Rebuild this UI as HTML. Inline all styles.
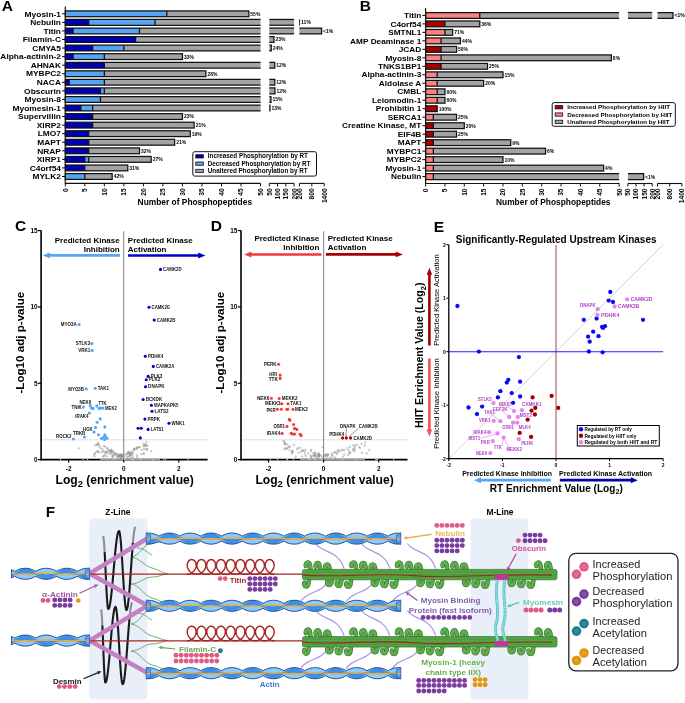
<!DOCTYPE html>
<html><head><meta charset="utf-8"><style>
html,body{margin:0;padding:0;background:#fff;}
svg{display:block;filter:blur(0.3px);font-family:"Liberation Sans",sans-serif;}
</style></head><body>
<svg width="685" height="703" viewBox="0 0 685 703">
<rect width="685" height="703" fill="#fff"/>
<g id="A">
<text x="1.80" y="10.80" font-size="15.5" font-weight="bold" fill="#000" text-anchor="start">A</text>
<text x="61.00" y="16.50" font-size="7.6" font-weight="bold" fill="#000" text-anchor="end" textLength="36.39" lengthAdjust="spacingAndGlyphs">Myosin-1</text>
<line x1="62.10" y1="13.80" x2="65.30" y2="13.80" stroke="#000" stroke-width="1"/>
<rect x="65.30" y="10.90" width="101.53" height="5.80" fill="#55a5f5" stroke="none" stroke-width="0"/>
<rect x="166.83" y="10.90" width="82.00" height="5.80" fill="#a3a3a7" stroke="none" stroke-width="0"/>
<rect x="65.30" y="10.90" width="183.53" height="5.80" fill="none" stroke="#111" stroke-width="1.25"/>
<line x1="166.83" y1="10.90" x2="166.83" y2="16.70" stroke="#111" stroke-width="1.25"/>
<text x="250.33" y="15.70" font-size="5.0" font-weight="bold" fill="#000" text-anchor="start" textLength="10.01" lengthAdjust="spacingAndGlyphs">55%</text>
<text x="61.00" y="25.06" font-size="7.6" font-weight="bold" fill="#000" text-anchor="end" textLength="30.79" lengthAdjust="spacingAndGlyphs">Nebulin</text>
<line x1="62.10" y1="22.36" x2="65.30" y2="22.36" stroke="#000" stroke-width="1"/>
<rect x="65.30" y="19.46" width="23.43" height="5.80" fill="#0000b4" stroke="none" stroke-width="0"/>
<rect x="88.73" y="19.46" width="66.38" height="5.80" fill="#55a5f5" stroke="none" stroke-width="0"/>
<rect x="155.12" y="19.46" width="105.43" height="5.80" fill="#a3a3a7" stroke="none" stroke-width="0"/>
<path d="M260.55,19.46 H65.30 V25.26 H260.55" fill="none" stroke="#111" stroke-width="1.25"/>
<line x1="88.73" y1="19.46" x2="88.73" y2="25.26" stroke="#111" stroke-width="1.25"/>
<line x1="155.12" y1="19.46" x2="155.12" y2="25.26" stroke="#111" stroke-width="1.25"/>
<rect x="269.30" y="19.46" width="24.80" height="5.80" fill="#a3a3a7" stroke="none" stroke-width="0"/>
<line x1="269.30" y1="19.46" x2="294.10" y2="19.46" stroke="#111" stroke-width="1.25"/>
<line x1="269.30" y1="25.26" x2="294.10" y2="25.26" stroke="#111" stroke-width="1.25"/>
<line x1="299.61" y1="19.16" x2="299.61" y2="25.56" stroke="#111" stroke-width="0.9"/>
<text x="301.11" y="24.26" font-size="5.0" font-weight="bold" fill="#000" text-anchor="start" textLength="9.73" lengthAdjust="spacingAndGlyphs">11%</text>
<text x="61.00" y="33.63" font-size="7.6" font-weight="bold" fill="#000" text-anchor="end" textLength="17.57" lengthAdjust="spacingAndGlyphs">Titin</text>
<line x1="62.10" y1="30.93" x2="65.30" y2="30.93" stroke="#000" stroke-width="1"/>
<rect x="65.30" y="28.03" width="7.81" height="5.80" fill="#0000b4" stroke="none" stroke-width="0"/>
<rect x="73.11" y="28.03" width="66.38" height="5.80" fill="#55a5f5" stroke="none" stroke-width="0"/>
<rect x="139.50" y="28.03" width="121.05" height="5.80" fill="#a3a3a7" stroke="none" stroke-width="0"/>
<path d="M260.55,28.03 H65.30 V33.83 H260.55" fill="none" stroke="#111" stroke-width="1.25"/>
<line x1="73.11" y1="28.03" x2="73.11" y2="33.83" stroke="#111" stroke-width="1.25"/>
<line x1="139.50" y1="28.03" x2="139.50" y2="33.83" stroke="#111" stroke-width="1.25"/>
<rect x="269.30" y="28.03" width="24.80" height="5.80" fill="#a3a3a7" stroke="none" stroke-width="0"/>
<line x1="269.30" y1="28.03" x2="294.10" y2="28.03" stroke="#111" stroke-width="1.25"/>
<line x1="269.30" y1="33.83" x2="294.10" y2="33.83" stroke="#111" stroke-width="1.25"/>
<rect x="299.40" y="28.03" width="22.20" height="5.80" fill="#a3a3a7" stroke="none" stroke-width="0"/>
<path d="M299.40,28.03 H321.60 V33.83 H299.40" fill="none" stroke="#111" stroke-width="1.25"/>
<text x="323.10" y="32.83" font-size="5.0" font-weight="bold" fill="#000" text-anchor="start" textLength="10.15" lengthAdjust="spacingAndGlyphs">&lt;1%</text>
<text x="61.00" y="42.19" font-size="7.6" font-weight="bold" fill="#000" text-anchor="end" textLength="38.26" lengthAdjust="spacingAndGlyphs">Filamin-C</text>
<line x1="62.10" y1="39.49" x2="65.30" y2="39.49" stroke="#000" stroke-width="1"/>
<rect x="65.30" y="36.59" width="70.29" height="5.80" fill="#0000b4" stroke="none" stroke-width="0"/>
<rect x="135.59" y="36.59" width="124.96" height="5.80" fill="#a3a3a7" stroke="none" stroke-width="0"/>
<path d="M260.55,36.59 H65.30 V42.39 H260.55" fill="none" stroke="#111" stroke-width="1.25"/>
<line x1="135.59" y1="36.59" x2="135.59" y2="42.39" stroke="#111" stroke-width="1.25"/>
<rect x="269.30" y="36.59" width="4.63" height="5.80" fill="#a3a3a7" stroke="none" stroke-width="0"/>
<path d="M269.30,36.59 H273.93 V42.39 H269.30" fill="none" stroke="#111" stroke-width="1.25"/>
<text x="275.43" y="41.39" font-size="5.0" font-weight="bold" fill="#000" text-anchor="start" textLength="10.01" lengthAdjust="spacingAndGlyphs">23%</text>
<text x="61.00" y="50.75" font-size="7.6" font-weight="bold" fill="#000" text-anchor="end" textLength="28.63" lengthAdjust="spacingAndGlyphs">CMYA5</text>
<line x1="62.10" y1="48.05" x2="65.30" y2="48.05" stroke="#000" stroke-width="1"/>
<rect x="65.30" y="45.15" width="27.33" height="5.80" fill="#0000b4" stroke="none" stroke-width="0"/>
<rect x="92.63" y="45.15" width="31.24" height="5.80" fill="#55a5f5" stroke="none" stroke-width="0"/>
<rect x="123.88" y="45.15" width="136.67" height="5.80" fill="#a3a3a7" stroke="none" stroke-width="0"/>
<path d="M260.55,45.15 H65.30 V50.95 H260.55" fill="none" stroke="#111" stroke-width="1.25"/>
<line x1="92.63" y1="45.15" x2="92.63" y2="50.95" stroke="#111" stroke-width="1.25"/>
<line x1="123.88" y1="45.15" x2="123.88" y2="50.95" stroke="#111" stroke-width="1.25"/>
<rect x="269.30" y="45.15" width="1.98" height="5.80" fill="#a3a3a7" stroke="none" stroke-width="0"/>
<path d="M269.30,45.15 H271.28 V50.95 H269.30" fill="none" stroke="#111" stroke-width="1.25"/>
<text x="272.78" y="49.95" font-size="5.0" font-weight="bold" fill="#000" text-anchor="start" textLength="10.01" lengthAdjust="spacingAndGlyphs">24%</text>
<text x="61.00" y="59.32" font-size="7.6" font-weight="bold" fill="#000" text-anchor="end" textLength="60.65" lengthAdjust="spacingAndGlyphs">Alpha-actinin-2</text>
<line x1="62.10" y1="56.62" x2="65.30" y2="56.62" stroke="#000" stroke-width="1"/>
<rect x="65.30" y="53.72" width="7.81" height="5.80" fill="#0000b4" stroke="none" stroke-width="0"/>
<rect x="73.11" y="53.72" width="31.24" height="5.80" fill="#55a5f5" stroke="none" stroke-width="0"/>
<rect x="104.35" y="53.72" width="78.10" height="5.80" fill="#a3a3a7" stroke="none" stroke-width="0"/>
<rect x="65.30" y="53.72" width="117.15" height="5.80" fill="none" stroke="#111" stroke-width="1.25"/>
<line x1="73.11" y1="53.72" x2="73.11" y2="59.52" stroke="#111" stroke-width="1.25"/>
<line x1="104.35" y1="53.72" x2="104.35" y2="59.52" stroke="#111" stroke-width="1.25"/>
<text x="183.95" y="58.52" font-size="5.0" font-weight="bold" fill="#000" text-anchor="start" textLength="10.01" lengthAdjust="spacingAndGlyphs">33%</text>
<text x="61.00" y="67.88" font-size="7.6" font-weight="bold" fill="#000" text-anchor="end" textLength="30.32" lengthAdjust="spacingAndGlyphs">AHNAK</text>
<line x1="62.10" y1="65.18" x2="65.30" y2="65.18" stroke="#000" stroke-width="1"/>
<rect x="65.30" y="62.28" width="39.05" height="5.80" fill="#0000b4" stroke="none" stroke-width="0"/>
<rect x="104.35" y="62.28" width="156.20" height="5.80" fill="#a3a3a7" stroke="none" stroke-width="0"/>
<path d="M260.55,62.28 H65.30 V68.08 H260.55" fill="none" stroke="#111" stroke-width="1.25"/>
<line x1="104.35" y1="62.28" x2="104.35" y2="68.08" stroke="#111" stroke-width="1.25"/>
<rect x="269.30" y="62.28" width="5.46" height="5.80" fill="#a3a3a7" stroke="none" stroke-width="0"/>
<path d="M269.30,62.28 H274.76 V68.08 H269.30" fill="none" stroke="#111" stroke-width="1.25"/>
<text x="276.26" y="67.08" font-size="5.0" font-weight="bold" fill="#000" text-anchor="start" textLength="10.01" lengthAdjust="spacingAndGlyphs">12%</text>
<text x="61.00" y="76.44" font-size="7.6" font-weight="bold" fill="#000" text-anchor="end" textLength="35.00" lengthAdjust="spacingAndGlyphs">MYBPC2</text>
<line x1="62.10" y1="73.74" x2="65.30" y2="73.74" stroke="#000" stroke-width="1"/>
<rect x="65.30" y="70.84" width="39.05" height="5.80" fill="#55a5f5" stroke="none" stroke-width="0"/>
<rect x="104.35" y="70.84" width="101.53" height="5.80" fill="#a3a3a7" stroke="none" stroke-width="0"/>
<rect x="65.30" y="70.84" width="140.58" height="5.80" fill="none" stroke="#111" stroke-width="1.25"/>
<line x1="104.35" y1="70.84" x2="104.35" y2="76.64" stroke="#111" stroke-width="1.25"/>
<text x="207.38" y="75.64" font-size="5.0" font-weight="bold" fill="#000" text-anchor="start" textLength="10.01" lengthAdjust="spacingAndGlyphs">28%</text>
<text x="61.00" y="85.00" font-size="7.6" font-weight="bold" fill="#000" text-anchor="end" textLength="24.26" lengthAdjust="spacingAndGlyphs">NACA</text>
<line x1="62.10" y1="82.30" x2="65.30" y2="82.30" stroke="#000" stroke-width="1"/>
<rect x="65.30" y="79.40" width="3.90" height="5.80" fill="#0000b4" stroke="none" stroke-width="0"/>
<rect x="69.20" y="79.40" width="35.14" height="5.80" fill="#55a5f5" stroke="none" stroke-width="0"/>
<rect x="104.35" y="79.40" width="156.20" height="5.80" fill="#a3a3a7" stroke="none" stroke-width="0"/>
<path d="M260.55,79.40 H65.30 V85.20 H260.55" fill="none" stroke="#111" stroke-width="1.25"/>
<line x1="69.20" y1="79.40" x2="69.20" y2="85.20" stroke="#111" stroke-width="1.25"/>
<line x1="104.35" y1="79.40" x2="104.35" y2="85.20" stroke="#111" stroke-width="1.25"/>
<rect x="269.30" y="79.40" width="5.46" height="5.80" fill="#a3a3a7" stroke="none" stroke-width="0"/>
<path d="M269.30,79.40 H274.76 V85.20 H269.30" fill="none" stroke="#111" stroke-width="1.25"/>
<text x="276.26" y="84.20" font-size="5.0" font-weight="bold" fill="#000" text-anchor="start" textLength="10.01" lengthAdjust="spacingAndGlyphs">12%</text>
<text x="61.00" y="93.57" font-size="7.6" font-weight="bold" fill="#000" text-anchor="end" textLength="36.86" lengthAdjust="spacingAndGlyphs">Obscurin</text>
<line x1="62.10" y1="90.87" x2="65.30" y2="90.87" stroke="#000" stroke-width="1"/>
<rect x="65.30" y="87.97" width="35.14" height="5.80" fill="#0000b4" stroke="none" stroke-width="0"/>
<rect x="100.44" y="87.97" width="3.90" height="5.80" fill="#55a5f5" stroke="none" stroke-width="0"/>
<rect x="104.35" y="87.97" width="156.20" height="5.80" fill="#a3a3a7" stroke="none" stroke-width="0"/>
<path d="M260.55,87.97 H65.30 V93.77 H260.55" fill="none" stroke="#111" stroke-width="1.25"/>
<line x1="100.44" y1="87.97" x2="100.44" y2="93.77" stroke="#111" stroke-width="1.25"/>
<line x1="104.35" y1="87.97" x2="104.35" y2="93.77" stroke="#111" stroke-width="1.25"/>
<rect x="269.30" y="87.97" width="5.62" height="5.80" fill="#a3a3a7" stroke="none" stroke-width="0"/>
<path d="M269.30,87.97 H274.92 V93.77 H269.30" fill="none" stroke="#111" stroke-width="1.25"/>
<text x="276.42" y="92.77" font-size="5.0" font-weight="bold" fill="#000" text-anchor="start" textLength="10.01" lengthAdjust="spacingAndGlyphs">12%</text>
<text x="61.00" y="102.13" font-size="7.6" font-weight="bold" fill="#000" text-anchor="end" textLength="36.39" lengthAdjust="spacingAndGlyphs">Myosin-8</text>
<line x1="62.10" y1="99.43" x2="65.30" y2="99.43" stroke="#000" stroke-width="1"/>
<rect x="65.30" y="96.53" width="35.14" height="5.80" fill="#55a5f5" stroke="none" stroke-width="0"/>
<rect x="100.44" y="96.53" width="160.10" height="5.80" fill="#a3a3a7" stroke="none" stroke-width="0"/>
<path d="M260.55,96.53 H65.30 V102.33 H260.55" fill="none" stroke="#111" stroke-width="1.25"/>
<line x1="100.44" y1="96.53" x2="100.44" y2="102.33" stroke="#111" stroke-width="1.25"/>
<rect x="269.30" y="96.53" width="1.65" height="5.80" fill="#a3a3a7" stroke="none" stroke-width="0"/>
<path d="M269.30,96.53 H270.95 V102.33 H269.30" fill="none" stroke="#111" stroke-width="1.25"/>
<text x="272.45" y="101.33" font-size="5.0" font-weight="bold" fill="#000" text-anchor="start" textLength="10.01" lengthAdjust="spacingAndGlyphs">15%</text>
<text x="61.00" y="110.69" font-size="7.6" font-weight="bold" fill="#000" text-anchor="end" textLength="48.53" lengthAdjust="spacingAndGlyphs">Myomesin-1</text>
<line x1="62.10" y1="107.99" x2="65.30" y2="107.99" stroke="#000" stroke-width="1"/>
<rect x="65.30" y="105.09" width="15.62" height="5.80" fill="#0000b4" stroke="none" stroke-width="0"/>
<rect x="80.92" y="105.09" width="11.71" height="5.80" fill="#55a5f5" stroke="none" stroke-width="0"/>
<rect x="92.63" y="105.09" width="167.91" height="5.80" fill="#a3a3a7" stroke="none" stroke-width="0"/>
<path d="M260.55,105.09 H65.30 V110.89 H260.55" fill="none" stroke="#111" stroke-width="1.25"/>
<line x1="80.92" y1="105.09" x2="80.92" y2="110.89" stroke="#111" stroke-width="1.25"/>
<line x1="92.63" y1="105.09" x2="92.63" y2="110.89" stroke="#111" stroke-width="1.25"/>
<rect x="269.30" y="105.09" width="0.66" height="5.80" fill="#a3a3a7" stroke="none" stroke-width="0"/>
<path d="M269.30,105.09 H269.96 V110.89 H269.30" fill="none" stroke="#111" stroke-width="1.25"/>
<text x="271.46" y="109.89" font-size="5.0" font-weight="bold" fill="#000" text-anchor="start" textLength="10.01" lengthAdjust="spacingAndGlyphs">13%</text>
<text x="61.00" y="119.26" font-size="7.6" font-weight="bold" fill="#000" text-anchor="end" textLength="42.93" lengthAdjust="spacingAndGlyphs">Supervillin</text>
<line x1="62.10" y1="116.56" x2="65.30" y2="116.56" stroke="#000" stroke-width="1"/>
<rect x="65.30" y="113.66" width="27.33" height="5.80" fill="#0000b4" stroke="none" stroke-width="0"/>
<rect x="92.63" y="113.66" width="89.81" height="5.80" fill="#a3a3a7" stroke="none" stroke-width="0"/>
<rect x="65.30" y="113.66" width="117.15" height="5.80" fill="none" stroke="#111" stroke-width="1.25"/>
<line x1="92.63" y1="113.66" x2="92.63" y2="119.46" stroke="#111" stroke-width="1.25"/>
<text x="183.95" y="118.46" font-size="5.0" font-weight="bold" fill="#000" text-anchor="start" textLength="10.01" lengthAdjust="spacingAndGlyphs">23%</text>
<text x="61.00" y="127.82" font-size="7.6" font-weight="bold" fill="#000" text-anchor="end" textLength="24.27" lengthAdjust="spacingAndGlyphs">XIRP2</text>
<line x1="62.10" y1="125.12" x2="65.30" y2="125.12" stroke="#000" stroke-width="1"/>
<rect x="65.30" y="122.22" width="27.33" height="5.80" fill="#0000b4" stroke="none" stroke-width="0"/>
<rect x="92.63" y="122.22" width="101.53" height="5.80" fill="#a3a3a7" stroke="none" stroke-width="0"/>
<rect x="65.30" y="122.22" width="128.86" height="5.80" fill="none" stroke="#111" stroke-width="1.25"/>
<line x1="92.63" y1="122.22" x2="92.63" y2="128.02" stroke="#111" stroke-width="1.25"/>
<text x="195.66" y="127.02" font-size="5.0" font-weight="bold" fill="#000" text-anchor="start" textLength="10.01" lengthAdjust="spacingAndGlyphs">21%</text>
<text x="61.00" y="136.38" font-size="7.6" font-weight="bold" fill="#000" text-anchor="end" textLength="23.33" lengthAdjust="spacingAndGlyphs">LMO7</text>
<line x1="62.10" y1="133.68" x2="65.30" y2="133.68" stroke="#000" stroke-width="1"/>
<rect x="65.30" y="130.78" width="23.43" height="5.80" fill="#0000b4" stroke="none" stroke-width="0"/>
<rect x="88.73" y="130.78" width="101.53" height="5.80" fill="#a3a3a7" stroke="none" stroke-width="0"/>
<rect x="65.30" y="130.78" width="124.96" height="5.80" fill="none" stroke="#111" stroke-width="1.25"/>
<line x1="88.73" y1="130.78" x2="88.73" y2="136.58" stroke="#111" stroke-width="1.25"/>
<text x="191.76" y="135.58" font-size="5.0" font-weight="bold" fill="#000" text-anchor="start" textLength="10.01" lengthAdjust="spacingAndGlyphs">19%</text>
<text x="61.00" y="144.95" font-size="7.6" font-weight="bold" fill="#000" text-anchor="end" textLength="23.79" lengthAdjust="spacingAndGlyphs">MAPT</text>
<line x1="62.10" y1="142.25" x2="65.30" y2="142.25" stroke="#000" stroke-width="1"/>
<rect x="65.30" y="139.35" width="23.43" height="5.80" fill="#0000b4" stroke="none" stroke-width="0"/>
<rect x="88.73" y="139.35" width="85.91" height="5.80" fill="#a3a3a7" stroke="none" stroke-width="0"/>
<rect x="65.30" y="139.35" width="109.34" height="5.80" fill="none" stroke="#111" stroke-width="1.25"/>
<line x1="88.73" y1="139.35" x2="88.73" y2="145.15" stroke="#111" stroke-width="1.25"/>
<text x="176.14" y="144.15" font-size="5.0" font-weight="bold" fill="#000" text-anchor="start" textLength="10.01" lengthAdjust="spacingAndGlyphs">21%</text>
<text x="61.00" y="153.51" font-size="7.6" font-weight="bold" fill="#000" text-anchor="end" textLength="23.80" lengthAdjust="spacingAndGlyphs">NRAP</text>
<line x1="62.10" y1="150.81" x2="65.30" y2="150.81" stroke="#000" stroke-width="1"/>
<rect x="65.30" y="147.91" width="23.43" height="5.80" fill="#0000b4" stroke="none" stroke-width="0"/>
<rect x="88.73" y="147.91" width="50.77" height="5.80" fill="#a3a3a7" stroke="none" stroke-width="0"/>
<rect x="65.30" y="147.91" width="74.19" height="5.80" fill="none" stroke="#111" stroke-width="1.25"/>
<line x1="88.73" y1="147.91" x2="88.73" y2="153.71" stroke="#111" stroke-width="1.25"/>
<text x="141.00" y="152.71" font-size="5.0" font-weight="bold" fill="#000" text-anchor="start" textLength="10.01" lengthAdjust="spacingAndGlyphs">32%</text>
<text x="61.00" y="162.07" font-size="7.6" font-weight="bold" fill="#000" text-anchor="end" textLength="24.27" lengthAdjust="spacingAndGlyphs">XIRP1</text>
<line x1="62.10" y1="159.37" x2="65.30" y2="159.37" stroke="#000" stroke-width="1"/>
<rect x="65.30" y="156.47" width="19.52" height="5.80" fill="#0000b4" stroke="none" stroke-width="0"/>
<rect x="84.82" y="156.47" width="3.90" height="5.80" fill="#55a5f5" stroke="none" stroke-width="0"/>
<rect x="88.73" y="156.47" width="62.48" height="5.80" fill="#a3a3a7" stroke="none" stroke-width="0"/>
<rect x="65.30" y="156.47" width="85.91" height="5.80" fill="none" stroke="#111" stroke-width="1.25"/>
<line x1="84.82" y1="156.47" x2="84.82" y2="162.27" stroke="#111" stroke-width="1.25"/>
<line x1="88.73" y1="156.47" x2="88.73" y2="162.27" stroke="#111" stroke-width="1.25"/>
<text x="152.71" y="161.27" font-size="5.0" font-weight="bold" fill="#000" text-anchor="start" textLength="10.01" lengthAdjust="spacingAndGlyphs">27%</text>
<text x="61.00" y="170.63" font-size="7.6" font-weight="bold" fill="#000" text-anchor="end" textLength="31.27" lengthAdjust="spacingAndGlyphs">C4orf54</text>
<line x1="62.10" y1="167.93" x2="65.30" y2="167.93" stroke="#000" stroke-width="1"/>
<rect x="65.30" y="165.03" width="19.52" height="5.80" fill="#0000b4" stroke="none" stroke-width="0"/>
<rect x="84.82" y="165.03" width="42.95" height="5.80" fill="#a3a3a7" stroke="none" stroke-width="0"/>
<rect x="65.30" y="165.03" width="62.48" height="5.80" fill="none" stroke="#111" stroke-width="1.25"/>
<line x1="84.82" y1="165.03" x2="84.82" y2="170.83" stroke="#111" stroke-width="1.25"/>
<text x="129.28" y="169.83" font-size="5.0" font-weight="bold" fill="#000" text-anchor="start" textLength="10.01" lengthAdjust="spacingAndGlyphs">31%</text>
<text x="61.00" y="179.20" font-size="7.6" font-weight="bold" fill="#000" text-anchor="end" textLength="28.46" lengthAdjust="spacingAndGlyphs">MYLK2</text>
<line x1="62.10" y1="176.50" x2="65.30" y2="176.50" stroke="#000" stroke-width="1"/>
<rect x="65.30" y="173.60" width="19.52" height="5.80" fill="#55a5f5" stroke="none" stroke-width="0"/>
<rect x="84.82" y="173.60" width="27.33" height="5.80" fill="#a3a3a7" stroke="none" stroke-width="0"/>
<rect x="65.30" y="173.60" width="46.86" height="5.80" fill="none" stroke="#111" stroke-width="1.25"/>
<line x1="84.82" y1="173.60" x2="84.82" y2="179.40" stroke="#111" stroke-width="1.25"/>
<text x="113.66" y="178.40" font-size="5.0" font-weight="bold" fill="#000" text-anchor="start" textLength="10.01" lengthAdjust="spacingAndGlyphs">42%</text>
<line x1="65.30" y1="6.52" x2="65.30" y2="183.90" stroke="#111" stroke-width="1.2"/>
<line x1="65.30" y1="183.40" x2="260.60" y2="183.40" stroke="#111" stroke-width="1.1"/>
<line x1="65.30" y1="183.40" x2="65.30" y2="186.40" stroke="#111" stroke-width="1"/>
<text transform="translate(67.70,188.40) rotate(-90)" font-size="6.6" font-weight="bold" text-anchor="end">0</text>
<line x1="84.82" y1="183.40" x2="84.82" y2="186.40" stroke="#111" stroke-width="1"/>
<text transform="translate(87.22,188.40) rotate(-90)" font-size="6.6" font-weight="bold" text-anchor="end">5</text>
<line x1="104.35" y1="183.40" x2="104.35" y2="186.40" stroke="#111" stroke-width="1"/>
<text transform="translate(106.75,188.40) rotate(-90)" font-size="6.6" font-weight="bold" text-anchor="end">10</text>
<line x1="123.88" y1="183.40" x2="123.88" y2="186.40" stroke="#111" stroke-width="1"/>
<text transform="translate(126.28,188.40) rotate(-90)" font-size="6.6" font-weight="bold" text-anchor="end">15</text>
<line x1="143.40" y1="183.40" x2="143.40" y2="186.40" stroke="#111" stroke-width="1"/>
<text transform="translate(145.80,188.40) rotate(-90)" font-size="6.6" font-weight="bold" text-anchor="end">20</text>
<line x1="162.93" y1="183.40" x2="162.93" y2="186.40" stroke="#111" stroke-width="1"/>
<text transform="translate(165.33,188.40) rotate(-90)" font-size="6.6" font-weight="bold" text-anchor="end">25</text>
<line x1="182.45" y1="183.40" x2="182.45" y2="186.40" stroke="#111" stroke-width="1"/>
<text transform="translate(184.85,188.40) rotate(-90)" font-size="6.6" font-weight="bold" text-anchor="end">30</text>
<line x1="201.97" y1="183.40" x2="201.97" y2="186.40" stroke="#111" stroke-width="1"/>
<text transform="translate(204.37,188.40) rotate(-90)" font-size="6.6" font-weight="bold" text-anchor="end">35</text>
<line x1="221.50" y1="183.40" x2="221.50" y2="186.40" stroke="#111" stroke-width="1"/>
<text transform="translate(223.90,188.40) rotate(-90)" font-size="6.6" font-weight="bold" text-anchor="end">40</text>
<line x1="241.02" y1="183.40" x2="241.02" y2="186.40" stroke="#111" stroke-width="1"/>
<text transform="translate(243.42,188.40) rotate(-90)" font-size="6.6" font-weight="bold" text-anchor="end">45</text>
<line x1="260.55" y1="183.40" x2="260.55" y2="186.40" stroke="#111" stroke-width="1"/>
<text transform="translate(262.95,188.40) rotate(-90)" font-size="6.6" font-weight="bold" text-anchor="end">50</text>
<line x1="269.30" y1="183.40" x2="294.10" y2="183.40" stroke="#111" stroke-width="1.1"/>
<line x1="269.30" y1="183.40" x2="269.30" y2="186.40" stroke="#111" stroke-width="1"/>
<text transform="translate(271.70,188.40) rotate(-90)" font-size="6.6" font-weight="bold" text-anchor="end">50</text>
<line x1="277.57" y1="183.40" x2="277.57" y2="186.40" stroke="#111" stroke-width="1"/>
<text transform="translate(279.97,188.40) rotate(-90)" font-size="6.6" font-weight="bold" text-anchor="end">100</text>
<line x1="285.83" y1="183.40" x2="285.83" y2="186.40" stroke="#111" stroke-width="1"/>
<text transform="translate(288.23,188.40) rotate(-90)" font-size="6.6" font-weight="bold" text-anchor="end">150</text>
<line x1="294.10" y1="183.40" x2="294.10" y2="186.40" stroke="#111" stroke-width="1"/>
<text transform="translate(296.50,188.40) rotate(-90)" font-size="6.6" font-weight="bold" text-anchor="end">200</text>
<line x1="299.40" y1="183.40" x2="324.20" y2="183.40" stroke="#111" stroke-width="1.1"/>
<line x1="299.40" y1="183.40" x2="299.40" y2="186.40" stroke="#111" stroke-width="1"/>
<text transform="translate(301.80,188.40) rotate(-90)" font-size="6.6" font-weight="bold" text-anchor="end">200</text>
<line x1="311.80" y1="183.40" x2="311.80" y2="186.40" stroke="#111" stroke-width="1"/>
<text transform="translate(314.20,188.40) rotate(-90)" font-size="6.6" font-weight="bold" text-anchor="end">800</text>
<line x1="324.20" y1="183.40" x2="324.20" y2="186.40" stroke="#111" stroke-width="1"/>
<text transform="translate(326.60,188.40) rotate(-90)" font-size="6.6" font-weight="bold" text-anchor="end">1400</text>
<text x="137.60" y="204.90" font-size="8.4" font-weight="bold" fill="#000" text-anchor="start">Number of Phosphopeptides</text>
<rect x="192.8" y="151.7" width="123.7" height="24.4" rx="2" fill="#fff" stroke="#111" stroke-width="1"/>
<rect x="195.80" y="154.70" width="7.50" height="3.30" fill="#0000b4" stroke="#111" stroke-width="0.8"/>
<text x="207.80" y="158.40" font-size="6.3" font-weight="bold" fill="#000" text-anchor="start" textLength="100.11" lengthAdjust="spacingAndGlyphs">Increased Phosphorylation by RT</text>
<rect x="195.80" y="162.00" width="7.50" height="3.30" fill="#55a5f5" stroke="#111" stroke-width="0.8"/>
<text x="207.80" y="165.70" font-size="6.3" font-weight="bold" fill="#000" text-anchor="start" textLength="102.57" lengthAdjust="spacingAndGlyphs">Decreased Phosphorylation by RT</text>
<rect x="195.80" y="169.30" width="7.50" height="3.30" fill="#a3a3a7" stroke="#111" stroke-width="0.8"/>
<text x="207.80" y="173.00" font-size="6.3" font-weight="bold" fill="#000" text-anchor="start" textLength="99.75" lengthAdjust="spacingAndGlyphs">Unaltered Phosphorylation by RT</text>
</g>
<g id="B">
<text x="359.70" y="10.80" font-size="15.5" font-weight="bold" fill="#000" text-anchor="start">B</text>
<text x="421.30" y="18.10" font-size="7.6" font-weight="bold" fill="#000" text-anchor="end" textLength="17.33" lengthAdjust="spacingAndGlyphs">Titin</text>
<line x1="422.40" y1="15.40" x2="425.60" y2="15.40" stroke="#000" stroke-width="1"/>
<rect x="425.60" y="12.50" width="54.18" height="5.80" fill="#ff8080" stroke="none" stroke-width="0"/>
<rect x="479.78" y="12.50" width="139.32" height="5.80" fill="#a3a3a7" stroke="none" stroke-width="0"/>
<path d="M619.10,12.50 H425.60 V18.30 H619.10" fill="none" stroke="#111" stroke-width="1.25"/>
<line x1="479.78" y1="12.50" x2="479.78" y2="18.30" stroke="#111" stroke-width="1.25"/>
<rect x="627.90" y="12.50" width="24.30" height="5.80" fill="#a3a3a7" stroke="none" stroke-width="0"/>
<line x1="627.90" y1="12.50" x2="652.20" y2="12.50" stroke="#111" stroke-width="1.25"/>
<line x1="627.90" y1="18.30" x2="652.20" y2="18.30" stroke="#111" stroke-width="1.25"/>
<rect x="657.50" y="12.50" width="15.49" height="5.80" fill="#a3a3a7" stroke="none" stroke-width="0"/>
<path d="M657.50,12.50 H672.99 V18.30 H657.50" fill="none" stroke="#111" stroke-width="1.25"/>
<text x="674.49" y="17.30" font-size="5.0" font-weight="bold" fill="#000" text-anchor="start" textLength="10.15" lengthAdjust="spacingAndGlyphs">&lt;1%</text>
<text x="421.30" y="26.58" font-size="7.6" font-weight="bold" fill="#000" text-anchor="end" textLength="30.84" lengthAdjust="spacingAndGlyphs">C4orf54</text>
<line x1="422.40" y1="23.88" x2="425.60" y2="23.88" stroke="#000" stroke-width="1"/>
<rect x="425.60" y="20.98" width="19.35" height="5.80" fill="#a80000" stroke="none" stroke-width="0"/>
<rect x="444.95" y="20.98" width="34.83" height="5.80" fill="#a3a3a7" stroke="none" stroke-width="0"/>
<rect x="425.60" y="20.98" width="54.18" height="5.80" fill="none" stroke="#111" stroke-width="1.25"/>
<line x1="444.95" y1="20.98" x2="444.95" y2="26.78" stroke="#111" stroke-width="1.25"/>
<text x="481.28" y="25.78" font-size="5.0" font-weight="bold" fill="#000" text-anchor="start" textLength="10.01" lengthAdjust="spacingAndGlyphs">36%</text>
<text x="421.30" y="35.07" font-size="7.6" font-weight="bold" fill="#000" text-anchor="end" textLength="33.13" lengthAdjust="spacingAndGlyphs">SMTNL1</text>
<line x1="422.40" y1="32.37" x2="425.60" y2="32.37" stroke="#000" stroke-width="1"/>
<rect x="425.60" y="29.47" width="19.35" height="5.80" fill="#ff8080" stroke="none" stroke-width="0"/>
<rect x="444.95" y="29.47" width="7.74" height="5.80" fill="#a3a3a7" stroke="none" stroke-width="0"/>
<rect x="425.60" y="29.47" width="27.09" height="5.80" fill="none" stroke="#111" stroke-width="1.25"/>
<line x1="444.95" y1="29.47" x2="444.95" y2="35.27" stroke="#111" stroke-width="1.25"/>
<text x="454.19" y="34.27" font-size="5.0" font-weight="bold" fill="#000" text-anchor="start" textLength="10.01" lengthAdjust="spacingAndGlyphs">71%</text>
<text x="421.30" y="43.55" font-size="7.6" font-weight="bold" fill="#000" text-anchor="end" textLength="71.21" lengthAdjust="spacingAndGlyphs">AMP Deaminase 1</text>
<line x1="422.40" y1="40.85" x2="425.60" y2="40.85" stroke="#000" stroke-width="1"/>
<rect x="425.60" y="37.95" width="15.48" height="5.80" fill="#ff8080" stroke="none" stroke-width="0"/>
<rect x="441.08" y="37.95" width="19.35" height="5.80" fill="#a3a3a7" stroke="none" stroke-width="0"/>
<rect x="425.60" y="37.95" width="34.83" height="5.80" fill="none" stroke="#111" stroke-width="1.25"/>
<line x1="441.08" y1="37.95" x2="441.08" y2="43.75" stroke="#111" stroke-width="1.25"/>
<text x="461.93" y="42.75" font-size="5.0" font-weight="bold" fill="#000" text-anchor="start" textLength="10.01" lengthAdjust="spacingAndGlyphs">44%</text>
<text x="421.30" y="52.04" font-size="7.6" font-weight="bold" fill="#000" text-anchor="end" textLength="22.55" lengthAdjust="spacingAndGlyphs">JCAD</text>
<line x1="422.40" y1="49.34" x2="425.60" y2="49.34" stroke="#000" stroke-width="1"/>
<rect x="425.60" y="46.44" width="15.48" height="5.80" fill="#a80000" stroke="none" stroke-width="0"/>
<rect x="441.08" y="46.44" width="15.48" height="5.80" fill="#a3a3a7" stroke="none" stroke-width="0"/>
<rect x="425.60" y="46.44" width="30.96" height="5.80" fill="none" stroke="#111" stroke-width="1.25"/>
<line x1="441.08" y1="46.44" x2="441.08" y2="52.24" stroke="#111" stroke-width="1.25"/>
<text x="458.06" y="51.24" font-size="5.0" font-weight="bold" fill="#000" text-anchor="start" textLength="10.01" lengthAdjust="spacingAndGlyphs">50%</text>
<text x="421.30" y="60.52" font-size="7.6" font-weight="bold" fill="#000" text-anchor="end" textLength="35.90" lengthAdjust="spacingAndGlyphs">Myosin-8</text>
<line x1="422.40" y1="57.82" x2="425.60" y2="57.82" stroke="#000" stroke-width="1"/>
<rect x="425.60" y="54.92" width="15.48" height="5.80" fill="#ff8080" stroke="none" stroke-width="0"/>
<rect x="441.08" y="54.92" width="170.28" height="5.80" fill="#a3a3a7" stroke="none" stroke-width="0"/>
<rect x="425.60" y="54.92" width="185.76" height="5.80" fill="none" stroke="#111" stroke-width="1.25"/>
<line x1="441.08" y1="54.92" x2="441.08" y2="60.72" stroke="#111" stroke-width="1.25"/>
<text x="612.86" y="59.72" font-size="5.0" font-weight="bold" fill="#000" text-anchor="start" textLength="7.23" lengthAdjust="spacingAndGlyphs">8%</text>
<text x="421.30" y="69.00" font-size="7.6" font-weight="bold" fill="#000" text-anchor="end" textLength="43.27" lengthAdjust="spacingAndGlyphs">TNKS1BP1</text>
<line x1="422.40" y1="66.30" x2="425.60" y2="66.30" stroke="#000" stroke-width="1"/>
<rect x="425.60" y="63.40" width="15.48" height="5.80" fill="#a80000" stroke="none" stroke-width="0"/>
<rect x="441.08" y="63.40" width="46.44" height="5.80" fill="#a3a3a7" stroke="none" stroke-width="0"/>
<rect x="425.60" y="63.40" width="61.92" height="5.80" fill="none" stroke="#111" stroke-width="1.25"/>
<line x1="441.08" y1="63.40" x2="441.08" y2="69.20" stroke="#111" stroke-width="1.25"/>
<text x="489.02" y="68.20" font-size="5.0" font-weight="bold" fill="#000" text-anchor="start" textLength="10.01" lengthAdjust="spacingAndGlyphs">25%</text>
<text x="421.30" y="77.49" font-size="7.6" font-weight="bold" fill="#000" text-anchor="end" textLength="59.83" lengthAdjust="spacingAndGlyphs">Alpha-actinin-3</text>
<line x1="422.40" y1="74.79" x2="425.60" y2="74.79" stroke="#000" stroke-width="1"/>
<rect x="425.60" y="71.89" width="11.61" height="5.80" fill="#ff8080" stroke="none" stroke-width="0"/>
<rect x="437.21" y="71.89" width="65.79" height="5.80" fill="#a3a3a7" stroke="none" stroke-width="0"/>
<rect x="425.60" y="71.89" width="77.40" height="5.80" fill="none" stroke="#111" stroke-width="1.25"/>
<line x1="437.21" y1="71.89" x2="437.21" y2="77.69" stroke="#111" stroke-width="1.25"/>
<text x="504.50" y="76.69" font-size="5.0" font-weight="bold" fill="#000" text-anchor="start" textLength="10.01" lengthAdjust="spacingAndGlyphs">15%</text>
<text x="421.30" y="85.97" font-size="7.6" font-weight="bold" fill="#000" text-anchor="end" textLength="42.50" lengthAdjust="spacingAndGlyphs">Aldolase A</text>
<line x1="422.40" y1="83.27" x2="425.60" y2="83.27" stroke="#000" stroke-width="1"/>
<rect x="425.60" y="80.37" width="11.61" height="5.80" fill="#ff8080" stroke="none" stroke-width="0"/>
<rect x="437.21" y="80.37" width="46.44" height="5.80" fill="#a3a3a7" stroke="none" stroke-width="0"/>
<rect x="425.60" y="80.37" width="58.05" height="5.80" fill="none" stroke="#111" stroke-width="1.25"/>
<line x1="437.21" y1="80.37" x2="437.21" y2="86.17" stroke="#111" stroke-width="1.25"/>
<text x="485.15" y="85.17" font-size="5.0" font-weight="bold" fill="#000" text-anchor="start" textLength="10.01" lengthAdjust="spacingAndGlyphs">20%</text>
<text x="421.30" y="94.46" font-size="7.6" font-weight="bold" fill="#000" text-anchor="end" textLength="23.93" lengthAdjust="spacingAndGlyphs">CMBL</text>
<line x1="422.40" y1="91.76" x2="425.60" y2="91.76" stroke="#000" stroke-width="1"/>
<rect x="425.60" y="88.86" width="11.61" height="5.80" fill="#ff8080" stroke="none" stroke-width="0"/>
<rect x="437.21" y="88.86" width="7.74" height="5.80" fill="#a3a3a7" stroke="none" stroke-width="0"/>
<rect x="425.60" y="88.86" width="19.35" height="5.80" fill="none" stroke="#111" stroke-width="1.25"/>
<line x1="437.21" y1="88.86" x2="437.21" y2="94.66" stroke="#111" stroke-width="1.25"/>
<text x="446.45" y="93.66" font-size="5.0" font-weight="bold" fill="#000" text-anchor="start" textLength="10.01" lengthAdjust="spacingAndGlyphs">60%</text>
<text x="421.30" y="102.94" font-size="7.6" font-weight="bold" fill="#000" text-anchor="end" textLength="49.24" lengthAdjust="spacingAndGlyphs">Leiomodin-1</text>
<line x1="422.40" y1="100.24" x2="425.60" y2="100.24" stroke="#000" stroke-width="1"/>
<rect x="425.60" y="97.34" width="11.61" height="5.80" fill="#ff8080" stroke="none" stroke-width="0"/>
<rect x="437.21" y="97.34" width="7.74" height="5.80" fill="#a3a3a7" stroke="none" stroke-width="0"/>
<rect x="425.60" y="97.34" width="19.35" height="5.80" fill="none" stroke="#111" stroke-width="1.25"/>
<line x1="437.21" y1="97.34" x2="437.21" y2="103.14" stroke="#111" stroke-width="1.25"/>
<text x="446.45" y="102.14" font-size="5.0" font-weight="bold" fill="#000" text-anchor="start" textLength="10.01" lengthAdjust="spacingAndGlyphs">60%</text>
<text x="421.30" y="111.42" font-size="7.6" font-weight="bold" fill="#000" text-anchor="end" textLength="45.56" lengthAdjust="spacingAndGlyphs">Prohibitin 1</text>
<line x1="422.40" y1="108.72" x2="425.60" y2="108.72" stroke="#000" stroke-width="1"/>
<rect x="425.60" y="105.82" width="11.61" height="5.80" fill="#a80000" stroke="none" stroke-width="0"/>
<rect x="425.60" y="105.82" width="11.61" height="5.80" fill="none" stroke="#111" stroke-width="1.25"/>
<text x="438.71" y="110.62" font-size="5.0" font-weight="bold" fill="#000" text-anchor="start" textLength="12.79" lengthAdjust="spacingAndGlyphs">100%</text>
<text x="421.30" y="119.91" font-size="7.6" font-weight="bold" fill="#000" text-anchor="end" textLength="33.61" lengthAdjust="spacingAndGlyphs">SERCA1</text>
<line x1="422.40" y1="117.21" x2="425.60" y2="117.21" stroke="#000" stroke-width="1"/>
<rect x="425.60" y="114.31" width="7.74" height="5.80" fill="#ff8080" stroke="none" stroke-width="0"/>
<rect x="433.34" y="114.31" width="23.22" height="5.80" fill="#a3a3a7" stroke="none" stroke-width="0"/>
<rect x="425.60" y="114.31" width="30.96" height="5.80" fill="none" stroke="#111" stroke-width="1.25"/>
<line x1="433.34" y1="114.31" x2="433.34" y2="120.11" stroke="#111" stroke-width="1.25"/>
<text x="458.06" y="119.11" font-size="5.0" font-weight="bold" fill="#000" text-anchor="start" textLength="10.01" lengthAdjust="spacingAndGlyphs">25%</text>
<text x="421.30" y="128.39" font-size="7.6" font-weight="bold" fill="#000" text-anchor="end" textLength="79.17" lengthAdjust="spacingAndGlyphs">Creatine Kinase, MT</text>
<line x1="422.40" y1="125.69" x2="425.60" y2="125.69" stroke="#000" stroke-width="1"/>
<rect x="425.60" y="122.79" width="7.74" height="5.80" fill="#a80000" stroke="none" stroke-width="0"/>
<rect x="433.34" y="122.79" width="30.96" height="5.80" fill="#a3a3a7" stroke="none" stroke-width="0"/>
<rect x="425.60" y="122.79" width="38.70" height="5.80" fill="none" stroke="#111" stroke-width="1.25"/>
<line x1="433.34" y1="122.79" x2="433.34" y2="128.59" stroke="#111" stroke-width="1.25"/>
<text x="465.80" y="127.59" font-size="5.0" font-weight="bold" fill="#000" text-anchor="start" textLength="10.01" lengthAdjust="spacingAndGlyphs">20%</text>
<text x="421.30" y="136.88" font-size="7.6" font-weight="bold" fill="#000" text-anchor="end" textLength="23.48" lengthAdjust="spacingAndGlyphs">EIF4B</text>
<line x1="422.40" y1="134.18" x2="425.60" y2="134.18" stroke="#000" stroke-width="1"/>
<rect x="425.60" y="131.28" width="7.74" height="5.80" fill="#a80000" stroke="none" stroke-width="0"/>
<rect x="433.34" y="131.28" width="23.22" height="5.80" fill="#a3a3a7" stroke="none" stroke-width="0"/>
<rect x="425.60" y="131.28" width="30.96" height="5.80" fill="none" stroke="#111" stroke-width="1.25"/>
<line x1="433.34" y1="131.28" x2="433.34" y2="137.08" stroke="#111" stroke-width="1.25"/>
<text x="458.06" y="136.08" font-size="5.0" font-weight="bold" fill="#000" text-anchor="start" textLength="10.01" lengthAdjust="spacingAndGlyphs">25%</text>
<text x="421.30" y="145.36" font-size="7.6" font-weight="bold" fill="#000" text-anchor="end" textLength="23.47" lengthAdjust="spacingAndGlyphs">MAPT</text>
<line x1="422.40" y1="142.66" x2="425.60" y2="142.66" stroke="#000" stroke-width="1"/>
<rect x="425.60" y="139.76" width="7.74" height="5.80" fill="#a80000" stroke="none" stroke-width="0"/>
<rect x="433.34" y="139.76" width="77.40" height="5.80" fill="#a3a3a7" stroke="none" stroke-width="0"/>
<rect x="425.60" y="139.76" width="85.14" height="5.80" fill="none" stroke="#111" stroke-width="1.25"/>
<line x1="433.34" y1="139.76" x2="433.34" y2="145.56" stroke="#111" stroke-width="1.25"/>
<text x="512.24" y="144.56" font-size="5.0" font-weight="bold" fill="#000" text-anchor="start" textLength="7.23" lengthAdjust="spacingAndGlyphs">9%</text>
<text x="421.30" y="153.84" font-size="7.6" font-weight="bold" fill="#000" text-anchor="end" textLength="34.52" lengthAdjust="spacingAndGlyphs">MYBPC1</text>
<line x1="422.40" y1="151.14" x2="425.60" y2="151.14" stroke="#000" stroke-width="1"/>
<rect x="425.60" y="148.24" width="7.74" height="5.80" fill="#ff8080" stroke="none" stroke-width="0"/>
<rect x="433.34" y="148.24" width="112.23" height="5.80" fill="#a3a3a7" stroke="none" stroke-width="0"/>
<rect x="425.60" y="148.24" width="119.97" height="5.80" fill="none" stroke="#111" stroke-width="1.25"/>
<line x1="433.34" y1="148.24" x2="433.34" y2="154.04" stroke="#111" stroke-width="1.25"/>
<text x="547.07" y="153.04" font-size="5.0" font-weight="bold" fill="#000" text-anchor="start" textLength="7.23" lengthAdjust="spacingAndGlyphs">6%</text>
<text x="421.30" y="162.33" font-size="7.6" font-weight="bold" fill="#000" text-anchor="end" textLength="34.52" lengthAdjust="spacingAndGlyphs">MYBPC2</text>
<line x1="422.40" y1="159.63" x2="425.60" y2="159.63" stroke="#000" stroke-width="1"/>
<rect x="425.60" y="156.73" width="7.74" height="5.80" fill="#ff8080" stroke="none" stroke-width="0"/>
<rect x="433.34" y="156.73" width="69.66" height="5.80" fill="#a3a3a7" stroke="none" stroke-width="0"/>
<rect x="425.60" y="156.73" width="77.40" height="5.80" fill="none" stroke="#111" stroke-width="1.25"/>
<line x1="433.34" y1="156.73" x2="433.34" y2="162.53" stroke="#111" stroke-width="1.25"/>
<text x="504.50" y="161.53" font-size="5.0" font-weight="bold" fill="#000" text-anchor="start" textLength="10.01" lengthAdjust="spacingAndGlyphs">10%</text>
<text x="421.30" y="170.81" font-size="7.6" font-weight="bold" fill="#000" text-anchor="end" textLength="35.90" lengthAdjust="spacingAndGlyphs">Myosin-1</text>
<line x1="422.40" y1="168.11" x2="425.60" y2="168.11" stroke="#000" stroke-width="1"/>
<rect x="425.60" y="165.21" width="7.74" height="5.80" fill="#ff8080" stroke="none" stroke-width="0"/>
<rect x="433.34" y="165.21" width="170.28" height="5.80" fill="#a3a3a7" stroke="none" stroke-width="0"/>
<rect x="425.60" y="165.21" width="178.02" height="5.80" fill="none" stroke="#111" stroke-width="1.25"/>
<line x1="433.34" y1="165.21" x2="433.34" y2="171.01" stroke="#111" stroke-width="1.25"/>
<text x="605.12" y="170.01" font-size="5.0" font-weight="bold" fill="#000" text-anchor="start" textLength="7.23" lengthAdjust="spacingAndGlyphs">4%</text>
<text x="421.30" y="179.30" font-size="7.6" font-weight="bold" fill="#000" text-anchor="end" textLength="30.37" lengthAdjust="spacingAndGlyphs">Nebulin</text>
<line x1="422.40" y1="176.60" x2="425.60" y2="176.60" stroke="#000" stroke-width="1"/>
<rect x="425.60" y="173.70" width="7.74" height="5.80" fill="#ff8080" stroke="none" stroke-width="0"/>
<rect x="433.34" y="173.70" width="185.76" height="5.80" fill="#a3a3a7" stroke="none" stroke-width="0"/>
<path d="M619.10,173.70 H425.60 V179.50 H619.10" fill="none" stroke="#111" stroke-width="1.25"/>
<line x1="433.34" y1="173.70" x2="433.34" y2="179.50" stroke="#111" stroke-width="1.25"/>
<rect x="627.90" y="173.70" width="15.71" height="5.80" fill="#a3a3a7" stroke="none" stroke-width="0"/>
<path d="M627.90,173.70 H643.61 V179.50 H627.90" fill="none" stroke="#111" stroke-width="1.25"/>
<text x="645.11" y="178.50" font-size="5.0" font-weight="bold" fill="#000" text-anchor="start" textLength="10.15" lengthAdjust="spacingAndGlyphs">&lt;1%</text>
<line x1="425.60" y1="8.19" x2="425.60" y2="184.00" stroke="#111" stroke-width="1.2"/>
<line x1="425.60" y1="183.50" x2="619.40" y2="183.50" stroke="#111" stroke-width="1.1"/>
<line x1="425.60" y1="183.50" x2="425.60" y2="186.50" stroke="#111" stroke-width="1"/>
<text transform="translate(428.00,188.50) rotate(-90)" font-size="6.6" font-weight="bold" text-anchor="end">0</text>
<line x1="444.95" y1="183.50" x2="444.95" y2="186.50" stroke="#111" stroke-width="1"/>
<text transform="translate(447.35,188.50) rotate(-90)" font-size="6.6" font-weight="bold" text-anchor="end">5</text>
<line x1="464.30" y1="183.50" x2="464.30" y2="186.50" stroke="#111" stroke-width="1"/>
<text transform="translate(466.70,188.50) rotate(-90)" font-size="6.6" font-weight="bold" text-anchor="end">10</text>
<line x1="483.65" y1="183.50" x2="483.65" y2="186.50" stroke="#111" stroke-width="1"/>
<text transform="translate(486.05,188.50) rotate(-90)" font-size="6.6" font-weight="bold" text-anchor="end">15</text>
<line x1="503.00" y1="183.50" x2="503.00" y2="186.50" stroke="#111" stroke-width="1"/>
<text transform="translate(505.40,188.50) rotate(-90)" font-size="6.6" font-weight="bold" text-anchor="end">20</text>
<line x1="522.35" y1="183.50" x2="522.35" y2="186.50" stroke="#111" stroke-width="1"/>
<text transform="translate(524.75,188.50) rotate(-90)" font-size="6.6" font-weight="bold" text-anchor="end">25</text>
<line x1="541.70" y1="183.50" x2="541.70" y2="186.50" stroke="#111" stroke-width="1"/>
<text transform="translate(544.10,188.50) rotate(-90)" font-size="6.6" font-weight="bold" text-anchor="end">30</text>
<line x1="561.05" y1="183.50" x2="561.05" y2="186.50" stroke="#111" stroke-width="1"/>
<text transform="translate(563.45,188.50) rotate(-90)" font-size="6.6" font-weight="bold" text-anchor="end">35</text>
<line x1="580.40" y1="183.50" x2="580.40" y2="186.50" stroke="#111" stroke-width="1"/>
<text transform="translate(582.80,188.50) rotate(-90)" font-size="6.6" font-weight="bold" text-anchor="end">40</text>
<line x1="599.75" y1="183.50" x2="599.75" y2="186.50" stroke="#111" stroke-width="1"/>
<text transform="translate(602.15,188.50) rotate(-90)" font-size="6.6" font-weight="bold" text-anchor="end">45</text>
<line x1="619.10" y1="183.50" x2="619.10" y2="186.50" stroke="#111" stroke-width="1"/>
<text transform="translate(621.50,188.50) rotate(-90)" font-size="6.6" font-weight="bold" text-anchor="end">50</text>
<line x1="627.90" y1="183.50" x2="652.20" y2="183.50" stroke="#111" stroke-width="1.1"/>
<line x1="627.90" y1="183.50" x2="627.90" y2="186.50" stroke="#111" stroke-width="1"/>
<text transform="translate(630.30,188.50) rotate(-90)" font-size="6.6" font-weight="bold" text-anchor="end">50</text>
<line x1="636.00" y1="183.50" x2="636.00" y2="186.50" stroke="#111" stroke-width="1"/>
<text transform="translate(638.40,188.50) rotate(-90)" font-size="6.6" font-weight="bold" text-anchor="end">100</text>
<line x1="644.10" y1="183.50" x2="644.10" y2="186.50" stroke="#111" stroke-width="1"/>
<text transform="translate(646.50,188.50) rotate(-90)" font-size="6.6" font-weight="bold" text-anchor="end">150</text>
<line x1="652.20" y1="183.50" x2="652.20" y2="186.50" stroke="#111" stroke-width="1"/>
<text transform="translate(654.60,188.50) rotate(-90)" font-size="6.6" font-weight="bold" text-anchor="end">200</text>
<line x1="657.50" y1="183.50" x2="681.90" y2="183.50" stroke="#111" stroke-width="1.1"/>
<line x1="657.50" y1="183.50" x2="657.50" y2="186.50" stroke="#111" stroke-width="1"/>
<text transform="translate(659.90,188.50) rotate(-90)" font-size="6.6" font-weight="bold" text-anchor="end">200</text>
<line x1="669.70" y1="183.50" x2="669.70" y2="186.50" stroke="#111" stroke-width="1"/>
<text transform="translate(672.10,188.50) rotate(-90)" font-size="6.6" font-weight="bold" text-anchor="end">800</text>
<line x1="681.90" y1="183.50" x2="681.90" y2="186.50" stroke="#111" stroke-width="1"/>
<text transform="translate(684.30,188.50) rotate(-90)" font-size="6.6" font-weight="bold" text-anchor="end">1400</text>
<text x="496.00" y="205.00" font-size="8.4" font-weight="bold" fill="#000" text-anchor="start">Number of Phosphopeptides</text>
<rect x="552.2" y="102.6" width="123.1" height="23.7" rx="2" fill="#fff" stroke="#111" stroke-width="1"/>
<rect x="555.20" y="105.60" width="7.50" height="3.30" fill="#a80000" stroke="#111" stroke-width="0.8"/>
<text x="567.20" y="109.30" font-size="6.25" font-weight="bold" fill="#000" text-anchor="start" textLength="102.79" lengthAdjust="spacingAndGlyphs">Increased Phosphorylation by HIIT</text>
<rect x="555.20" y="112.90" width="7.50" height="3.30" fill="#ff8080" stroke="#111" stroke-width="0.8"/>
<text x="567.20" y="116.60" font-size="6.25" font-weight="bold" fill="#000" text-anchor="start" textLength="105.23" lengthAdjust="spacingAndGlyphs">Decreased Phosphorylation by HIIT</text>
<rect x="555.20" y="120.20" width="7.50" height="3.30" fill="#a3a3a7" stroke="#111" stroke-width="0.8"/>
<text x="567.20" y="123.90" font-size="6.25" font-weight="bold" fill="#000" text-anchor="start" textLength="102.43" lengthAdjust="spacingAndGlyphs">Unaltered Phosphorylation by HIIT</text>
</g>
<g id="C">
<text x="15.10" y="231.20" font-size="15.5" font-weight="bold" fill="#000" text-anchor="start">C</text>
<line x1="41.10" y1="439.80" x2="207.60" y2="439.80" stroke="#d8d8d8" stroke-width="0.8"/>
<circle cx="113.3" cy="455.9" r="0.75" fill="none" stroke="#8c8c8c" stroke-width="0.5"/>
<circle cx="103.8" cy="456.0" r="0.75" fill="none" stroke="#8c8c8c" stroke-width="0.5"/>
<circle cx="107.2" cy="452.7" r="0.75" fill="none" stroke="#8c8c8c" stroke-width="0.5"/>
<circle cx="121.0" cy="455.4" r="0.75" fill="none" stroke="#8c8c8c" stroke-width="0.5"/>
<circle cx="121.6" cy="455.8" r="0.75" fill="none" stroke="#8c8c8c" stroke-width="0.5"/>
<circle cx="120.7" cy="457.2" r="0.75" fill="none" stroke="#8c8c8c" stroke-width="0.5"/>
<circle cx="110.4" cy="449.9" r="0.75" fill="none" stroke="#8c8c8c" stroke-width="0.5"/>
<circle cx="119.1" cy="456.2" r="0.75" fill="none" stroke="#8c8c8c" stroke-width="0.5"/>
<circle cx="104.5" cy="446.5" r="0.75" fill="none" stroke="#8c8c8c" stroke-width="0.5"/>
<circle cx="106.0" cy="452.1" r="0.75" fill="none" stroke="#8c8c8c" stroke-width="0.5"/>
<circle cx="94.4" cy="456.1" r="0.75" fill="none" stroke="#8c8c8c" stroke-width="0.5"/>
<circle cx="97.8" cy="451.7" r="0.75" fill="none" stroke="#8c8c8c" stroke-width="0.5"/>
<circle cx="118.5" cy="456.8" r="0.75" fill="none" stroke="#8c8c8c" stroke-width="0.5"/>
<circle cx="113.8" cy="451.4" r="0.75" fill="none" stroke="#8c8c8c" stroke-width="0.5"/>
<circle cx="117.5" cy="454.0" r="0.75" fill="none" stroke="#8c8c8c" stroke-width="0.5"/>
<circle cx="104.2" cy="451.9" r="0.75" fill="none" stroke="#8c8c8c" stroke-width="0.5"/>
<circle cx="106.8" cy="456.4" r="0.75" fill="none" stroke="#8c8c8c" stroke-width="0.5"/>
<circle cx="121.0" cy="456.6" r="0.75" fill="none" stroke="#8c8c8c" stroke-width="0.5"/>
<circle cx="103.0" cy="451.0" r="0.75" fill="none" stroke="#8c8c8c" stroke-width="0.5"/>
<circle cx="113.6" cy="452.7" r="0.75" fill="none" stroke="#8c8c8c" stroke-width="0.5"/>
<circle cx="109.6" cy="453.9" r="0.75" fill="none" stroke="#8c8c8c" stroke-width="0.5"/>
<circle cx="99.7" cy="446.9" r="0.75" fill="none" stroke="#8c8c8c" stroke-width="0.5"/>
<circle cx="115.6" cy="453.4" r="0.75" fill="none" stroke="#8c8c8c" stroke-width="0.5"/>
<circle cx="107.5" cy="448.4" r="0.75" fill="none" stroke="#8c8c8c" stroke-width="0.5"/>
<circle cx="101.5" cy="452.4" r="0.75" fill="none" stroke="#8c8c8c" stroke-width="0.5"/>
<circle cx="94.3" cy="454.3" r="0.75" fill="none" stroke="#8c8c8c" stroke-width="0.5"/>
<circle cx="110.6" cy="450.5" r="0.75" fill="none" stroke="#8c8c8c" stroke-width="0.5"/>
<circle cx="118.3" cy="454.7" r="0.75" fill="none" stroke="#8c8c8c" stroke-width="0.5"/>
<circle cx="121.6" cy="455.0" r="0.75" fill="none" stroke="#8c8c8c" stroke-width="0.5"/>
<circle cx="100.5" cy="448.6" r="0.75" fill="none" stroke="#8c8c8c" stroke-width="0.5"/>
<circle cx="97.3" cy="451.2" r="0.75" fill="none" stroke="#8c8c8c" stroke-width="0.5"/>
<circle cx="102.5" cy="449.1" r="0.75" fill="none" stroke="#8c8c8c" stroke-width="0.5"/>
<circle cx="105.9" cy="451.5" r="0.75" fill="none" stroke="#8c8c8c" stroke-width="0.5"/>
<circle cx="98.3" cy="443.7" r="0.75" fill="none" stroke="#8c8c8c" stroke-width="0.5"/>
<circle cx="109.0" cy="450.6" r="0.75" fill="none" stroke="#8c8c8c" stroke-width="0.5"/>
<circle cx="120.9" cy="454.7" r="0.75" fill="none" stroke="#8c8c8c" stroke-width="0.5"/>
<circle cx="103.9" cy="445.8" r="0.75" fill="none" stroke="#8c8c8c" stroke-width="0.5"/>
<circle cx="98.9" cy="451.9" r="0.75" fill="none" stroke="#8c8c8c" stroke-width="0.5"/>
<circle cx="111.5" cy="451.4" r="0.75" fill="none" stroke="#8c8c8c" stroke-width="0.5"/>
<circle cx="122.0" cy="455.8" r="0.75" fill="none" stroke="#8c8c8c" stroke-width="0.5"/>
<circle cx="117.8" cy="456.7" r="0.75" fill="none" stroke="#8c8c8c" stroke-width="0.5"/>
<circle cx="121.0" cy="454.5" r="0.75" fill="none" stroke="#8c8c8c" stroke-width="0.5"/>
<circle cx="118.9" cy="456.0" r="0.75" fill="none" stroke="#8c8c8c" stroke-width="0.5"/>
<circle cx="111.4" cy="450.0" r="0.75" fill="none" stroke="#8c8c8c" stroke-width="0.5"/>
<circle cx="120.4" cy="455.4" r="0.75" fill="none" stroke="#8c8c8c" stroke-width="0.5"/>
<circle cx="106.8" cy="448.0" r="0.75" fill="none" stroke="#8c8c8c" stroke-width="0.5"/>
<circle cx="98.9" cy="444.9" r="0.75" fill="none" stroke="#8c8c8c" stroke-width="0.5"/>
<circle cx="114.6" cy="454.1" r="0.75" fill="none" stroke="#8c8c8c" stroke-width="0.5"/>
<circle cx="112.3" cy="450.4" r="0.75" fill="none" stroke="#8c8c8c" stroke-width="0.5"/>
<circle cx="94.9" cy="453.6" r="0.75" fill="none" stroke="#8c8c8c" stroke-width="0.5"/>
<circle cx="117.6" cy="455.9" r="0.75" fill="none" stroke="#8c8c8c" stroke-width="0.5"/>
<circle cx="115.9" cy="454.0" r="0.75" fill="none" stroke="#8c8c8c" stroke-width="0.5"/>
<circle cx="105.6" cy="453.5" r="0.75" fill="none" stroke="#8c8c8c" stroke-width="0.5"/>
<circle cx="122.6" cy="456.1" r="0.75" fill="none" stroke="#8c8c8c" stroke-width="0.5"/>
<circle cx="112.0" cy="452.3" r="0.75" fill="none" stroke="#8c8c8c" stroke-width="0.5"/>
<circle cx="95.1" cy="445.4" r="0.75" fill="none" stroke="#8c8c8c" stroke-width="0.5"/>
<circle cx="107.8" cy="450.5" r="0.75" fill="none" stroke="#8c8c8c" stroke-width="0.5"/>
<circle cx="103.1" cy="456.4" r="0.75" fill="none" stroke="#8c8c8c" stroke-width="0.5"/>
<circle cx="96.6" cy="444.9" r="0.75" fill="none" stroke="#8c8c8c" stroke-width="0.5"/>
<circle cx="97.3" cy="444.9" r="0.75" fill="none" stroke="#8c8c8c" stroke-width="0.5"/>
<circle cx="111.3" cy="453.4" r="0.75" fill="none" stroke="#8c8c8c" stroke-width="0.5"/>
<circle cx="119.7" cy="454.5" r="0.75" fill="none" stroke="#8c8c8c" stroke-width="0.5"/>
<circle cx="120.9" cy="457.3" r="0.75" fill="none" stroke="#8c8c8c" stroke-width="0.5"/>
<circle cx="116.6" cy="456.2" r="0.75" fill="none" stroke="#8c8c8c" stroke-width="0.5"/>
<circle cx="112.8" cy="457.0" r="0.75" fill="none" stroke="#8c8c8c" stroke-width="0.5"/>
<circle cx="122.7" cy="457.1" r="0.75" fill="none" stroke="#8c8c8c" stroke-width="0.5"/>
<circle cx="119.8" cy="455.6" r="0.75" fill="none" stroke="#8c8c8c" stroke-width="0.5"/>
<circle cx="122.0" cy="454.5" r="0.75" fill="none" stroke="#8c8c8c" stroke-width="0.5"/>
<circle cx="104.9" cy="454.9" r="0.75" fill="none" stroke="#8c8c8c" stroke-width="0.5"/>
<circle cx="115.4" cy="454.7" r="0.75" fill="none" stroke="#8c8c8c" stroke-width="0.5"/>
<circle cx="112.1" cy="456.1" r="0.75" fill="none" stroke="#8c8c8c" stroke-width="0.5"/>
<circle cx="98.1" cy="443.1" r="0.75" fill="none" stroke="#8c8c8c" stroke-width="0.5"/>
<circle cx="109.2" cy="452.1" r="0.75" fill="none" stroke="#8c8c8c" stroke-width="0.5"/>
<circle cx="120.2" cy="457.1" r="0.75" fill="none" stroke="#8c8c8c" stroke-width="0.5"/>
<circle cx="112.8" cy="454.8" r="0.75" fill="none" stroke="#8c8c8c" stroke-width="0.5"/>
<circle cx="143.8" cy="453.9" r="0.75" fill="none" stroke="#8c8c8c" stroke-width="0.5"/>
<circle cx="125.2" cy="454.2" r="0.75" fill="none" stroke="#8c8c8c" stroke-width="0.5"/>
<circle cx="136.8" cy="455.2" r="0.75" fill="none" stroke="#8c8c8c" stroke-width="0.5"/>
<circle cx="137.2" cy="457.1" r="0.75" fill="none" stroke="#8c8c8c" stroke-width="0.5"/>
<circle cx="136.8" cy="447.5" r="0.75" fill="none" stroke="#8c8c8c" stroke-width="0.5"/>
<circle cx="144.6" cy="446.2" r="0.75" fill="none" stroke="#8c8c8c" stroke-width="0.5"/>
<circle cx="130.7" cy="454.5" r="0.75" fill="none" stroke="#8c8c8c" stroke-width="0.5"/>
<circle cx="128.5" cy="453.1" r="0.75" fill="none" stroke="#8c8c8c" stroke-width="0.5"/>
<circle cx="136.9" cy="449.0" r="0.75" fill="none" stroke="#8c8c8c" stroke-width="0.5"/>
<circle cx="132.3" cy="455.2" r="0.75" fill="none" stroke="#8c8c8c" stroke-width="0.5"/>
<circle cx="143.4" cy="443.7" r="0.75" fill="none" stroke="#8c8c8c" stroke-width="0.5"/>
<circle cx="144.3" cy="445.1" r="0.75" fill="none" stroke="#8c8c8c" stroke-width="0.5"/>
<circle cx="143.5" cy="446.2" r="0.75" fill="none" stroke="#8c8c8c" stroke-width="0.5"/>
<circle cx="129.9" cy="453.8" r="0.75" fill="none" stroke="#8c8c8c" stroke-width="0.5"/>
<circle cx="132.9" cy="457.3" r="0.75" fill="none" stroke="#8c8c8c" stroke-width="0.5"/>
<circle cx="125.3" cy="456.4" r="0.75" fill="none" stroke="#8c8c8c" stroke-width="0.5"/>
<circle cx="130.7" cy="452.5" r="0.75" fill="none" stroke="#8c8c8c" stroke-width="0.5"/>
<circle cx="146.7" cy="448.7" r="0.75" fill="none" stroke="#8c8c8c" stroke-width="0.5"/>
<circle cx="146.3" cy="442.0" r="0.75" fill="none" stroke="#8c8c8c" stroke-width="0.5"/>
<circle cx="146.7" cy="449.9" r="0.75" fill="none" stroke="#8c8c8c" stroke-width="0.5"/>
<circle cx="129.8" cy="455.7" r="0.75" fill="none" stroke="#8c8c8c" stroke-width="0.5"/>
<circle cx="129.2" cy="456.0" r="0.75" fill="none" stroke="#8c8c8c" stroke-width="0.5"/>
<circle cx="139.1" cy="446.9" r="0.75" fill="none" stroke="#8c8c8c" stroke-width="0.5"/>
<circle cx="144.0" cy="449.1" r="0.75" fill="none" stroke="#8c8c8c" stroke-width="0.5"/>
<circle cx="139.7" cy="447.4" r="0.75" fill="none" stroke="#8c8c8c" stroke-width="0.5"/>
<circle cx="126.6" cy="454.5" r="0.75" fill="none" stroke="#8c8c8c" stroke-width="0.5"/>
<circle cx="145.6" cy="444.7" r="0.75" fill="none" stroke="#8c8c8c" stroke-width="0.5"/>
<circle cx="142.0" cy="449.9" r="0.75" fill="none" stroke="#8c8c8c" stroke-width="0.5"/>
<circle cx="128.8" cy="452.9" r="0.75" fill="none" stroke="#8c8c8c" stroke-width="0.5"/>
<circle cx="132.3" cy="451.1" r="0.75" fill="none" stroke="#8c8c8c" stroke-width="0.5"/>
<circle cx="147.0" cy="449.3" r="0.75" fill="none" stroke="#8c8c8c" stroke-width="0.5"/>
<circle cx="133.9" cy="449.4" r="0.75" fill="none" stroke="#8c8c8c" stroke-width="0.5"/>
<circle cx="141.4" cy="454.2" r="0.75" fill="none" stroke="#8c8c8c" stroke-width="0.5"/>
<circle cx="127.6" cy="456.6" r="0.75" fill="none" stroke="#8c8c8c" stroke-width="0.5"/>
<circle cx="145.5" cy="444.5" r="0.75" fill="none" stroke="#8c8c8c" stroke-width="0.5"/>
<circle cx="128.1" cy="453.1" r="0.75" fill="none" stroke="#8c8c8c" stroke-width="0.5"/>
<circle cx="147.2" cy="445.5" r="0.75" fill="none" stroke="#8c8c8c" stroke-width="0.5"/>
<circle cx="132.8" cy="452.6" r="0.75" fill="none" stroke="#8c8c8c" stroke-width="0.5"/>
<circle cx="127.7" cy="457.7" r="0.75" fill="none" stroke="#8c8c8c" stroke-width="0.5"/>
<circle cx="147.0" cy="445.7" r="0.75" fill="none" stroke="#8c8c8c" stroke-width="0.5"/>
<circle cx="136.8" cy="447.9" r="0.75" fill="none" stroke="#8c8c8c" stroke-width="0.5"/>
<circle cx="134.7" cy="449.5" r="0.75" fill="none" stroke="#8c8c8c" stroke-width="0.5"/>
<circle cx="143.7" cy="453.1" r="0.75" fill="none" stroke="#8c8c8c" stroke-width="0.5"/>
<circle cx="130.5" cy="455.1" r="0.75" fill="none" stroke="#8c8c8c" stroke-width="0.5"/>
<circle cx="130.2" cy="453.3" r="0.75" fill="none" stroke="#8c8c8c" stroke-width="0.5"/>
<circle cx="130.7" cy="454.2" r="0.75" fill="none" stroke="#8c8c8c" stroke-width="0.5"/>
<circle cx="127.7" cy="453.0" r="0.75" fill="none" stroke="#8c8c8c" stroke-width="0.5"/>
<circle cx="132.8" cy="453.2" r="0.75" fill="none" stroke="#8c8c8c" stroke-width="0.5"/>
<circle cx="138.1" cy="447.4" r="0.75" fill="none" stroke="#8c8c8c" stroke-width="0.5"/>
<circle cx="134.4" cy="449.3" r="0.75" fill="none" stroke="#8c8c8c" stroke-width="0.5"/>
<circle cx="128.9" cy="451.6" r="0.75" fill="none" stroke="#8c8c8c" stroke-width="0.5"/>
<circle cx="131.1" cy="457.8" r="0.75" fill="none" stroke="#8c8c8c" stroke-width="0.5"/>
<circle cx="122.7" cy="455.8" r="0.75" fill="none" stroke="#8c8c8c" stroke-width="0.5"/>
<circle cx="79.1" cy="448.4" r="0.75" fill="none" stroke="#8c8c8c" stroke-width="0.5"/>
<circle cx="95.9" cy="452.3" r="0.75" fill="none" stroke="#8c8c8c" stroke-width="0.5"/>
<circle cx="151.2" cy="451.3" r="0.75" fill="none" stroke="#8c8c8c" stroke-width="0.5"/>
<circle cx="111.3" cy="451.8" r="0.75" fill="none" stroke="#8c8c8c" stroke-width="0.5"/>
<circle cx="134.2" cy="448.6" r="0.75" fill="none" stroke="#8c8c8c" stroke-width="0.5"/>
<line x1="123.70" y1="231.20" x2="123.70" y2="459.60" stroke="#8a8a8a" stroke-width="1.1"/>
<line x1="41.10" y1="230.60" x2="41.10" y2="460.20" stroke="#000" stroke-width="1.6"/>
<line x1="40.30" y1="459.60" x2="207.60" y2="459.60" stroke="#000" stroke-width="1.6"/>
<line x1="100.00" y1="459.60" x2="160.00" y2="459.60" stroke="#9a9a9a" stroke-width="1.6"/>
<rect x="59.9" y="459.1" width="1.2" height="1" fill="#fff" opacity="0.8"/>
<rect x="131.6" y="459.1" width="1.2" height="1" fill="#fff" opacity="0.8"/>
<rect x="82.4" y="459.1" width="1.2" height="1" fill="#fff" opacity="0.8"/>
<rect x="86.9" y="459.1" width="1.2" height="1" fill="#fff" opacity="0.8"/>
<rect x="165.1" y="459.1" width="1.2" height="1" fill="#fff" opacity="0.8"/>
<rect x="123.3" y="459.1" width="1.2" height="1" fill="#fff" opacity="0.8"/>
<rect x="131.9" y="459.1" width="1.2" height="1" fill="#fff" opacity="0.8"/>
<rect x="163.2" y="459.1" width="1.2" height="1" fill="#fff" opacity="0.8"/>
<rect x="187.3" y="459.1" width="1.2" height="1" fill="#fff" opacity="0.8"/>
<rect x="113.1" y="459.1" width="1.2" height="1" fill="#fff" opacity="0.8"/>
<rect x="139.9" y="459.1" width="1.2" height="1" fill="#fff" opacity="0.8"/>
<rect x="123.0" y="459.1" width="1.2" height="1" fill="#fff" opacity="0.8"/>
<rect x="124.0" y="459.1" width="1.2" height="1" fill="#fff" opacity="0.8"/>
<rect x="152.6" y="459.1" width="1.2" height="1" fill="#fff" opacity="0.8"/>
<line x1="37.90" y1="230.55" x2="41.10" y2="230.55" stroke="#000" stroke-width="1.2"/>
<text x="37.50" y="232.95" font-size="6.4" font-weight="bold" fill="#000" text-anchor="end">15</text>
<line x1="37.90" y1="306.90" x2="41.10" y2="306.90" stroke="#000" stroke-width="1.2"/>
<text x="37.50" y="309.30" font-size="6.4" font-weight="bold" fill="#000" text-anchor="end">10</text>
<line x1="37.90" y1="383.25" x2="41.10" y2="383.25" stroke="#000" stroke-width="1.2"/>
<text x="37.50" y="385.65" font-size="6.4" font-weight="bold" fill="#000" text-anchor="end">5</text>
<line x1="37.90" y1="459.60" x2="41.10" y2="459.60" stroke="#000" stroke-width="1.2"/>
<text x="37.50" y="462.00" font-size="6.4" font-weight="bold" fill="#000" text-anchor="end">0</text>
<line x1="68.60" y1="459.60" x2="68.60" y2="462.60" stroke="#000" stroke-width="1.2"/>
<text x="68.60" y="471.20" font-size="6.4" font-weight="bold" fill="#000" text-anchor="middle">-2</text>
<line x1="123.70" y1="459.60" x2="123.70" y2="462.60" stroke="#000" stroke-width="1.2"/>
<text x="123.70" y="471.20" font-size="6.4" font-weight="bold" fill="#000" text-anchor="middle">0</text>
<line x1="178.80" y1="459.60" x2="178.80" y2="462.60" stroke="#000" stroke-width="1.2"/>
<text x="178.80" y="471.20" font-size="6.4" font-weight="bold" fill="#000" text-anchor="middle">2</text>
<text x="119.70" y="242.90" font-size="8.0" font-weight="bold" fill="#000" text-anchor="end">Predicted Kinase</text>
<text x="119.70" y="252.00" font-size="8.0" font-weight="bold" fill="#000" text-anchor="end">Inhibition</text>
<text x="127.80" y="242.90" font-size="8.0" font-weight="bold" fill="#000" text-anchor="start">Predicted Kinase</text>
<text x="127.80" y="252.00" font-size="8.0" font-weight="bold" fill="#000" text-anchor="start">Activation</text>
<path d="M119.90,254.05 L49.90,254.05 L49.90,252.50 L42.70,255.40 L49.90,258.30 L49.90,256.75 L119.90,256.75 Z" fill="#55a5f5"/>
<path d="M128.00,254.15 L198.20,254.15 L198.20,252.60 L205.40,255.50 L198.20,258.40 L198.20,256.85 L128.00,256.85 Z" fill="#0000c8"/>
<text transform="translate(24.10,342.6) rotate(-90)" font-size="11.6" font-weight="bold" text-anchor="middle">-Log10 adj p-value</text>
<text x="55.50" y="483.8" font-size="12.1" font-weight="bold">Log<tspan font-size="9.4" dy="2.9">2</tspan><tspan dy="-2.9"> (enrichment value)</tspan></text>
<circle cx="79.10" cy="324.60" r="1.55" fill="#55a5f5"/>
<circle cx="91.90" cy="343.60" r="1.55" fill="#55a5f5"/>
<circle cx="92.10" cy="350.40" r="1.55" fill="#55a5f5"/>
<circle cx="86.20" cy="388.90" r="1.55" fill="#55a5f5"/>
<circle cx="95.20" cy="388.20" r="1.55" fill="#55a5f5"/>
<circle cx="83.40" cy="407.10" r="1.55" fill="#55a5f5"/>
<circle cx="90.30" cy="405.50" r="1.55" fill="#55a5f5"/>
<circle cx="91.50" cy="408.10" r="1.55" fill="#55a5f5"/>
<circle cx="93.20" cy="408.40" r="1.55" fill="#55a5f5"/>
<circle cx="96.80" cy="405.90" r="1.55" fill="#55a5f5"/>
<circle cx="99.10" cy="408.40" r="1.55" fill="#55a5f5"/>
<circle cx="100.70" cy="408.10" r="1.55" fill="#55a5f5"/>
<circle cx="102.80" cy="408.10" r="1.55" fill="#55a5f5"/>
<circle cx="89.30" cy="413.10" r="1.55" fill="#55a5f5"/>
<circle cx="100.20" cy="418.90" r="1.55" fill="#55a5f5"/>
<circle cx="97.20" cy="422.30" r="1.55" fill="#55a5f5"/>
<circle cx="104.80" cy="426.90" r="1.55" fill="#55a5f5"/>
<circle cx="95.50" cy="427.50" r="1.55" fill="#55a5f5"/>
<circle cx="94.10" cy="432.10" r="1.55" fill="#55a5f5"/>
<circle cx="98.50" cy="434.80" r="1.55" fill="#55a5f5"/>
<circle cx="104.80" cy="434.80" r="1.55" fill="#55a5f5"/>
<circle cx="84.40" cy="437.00" r="1.55" fill="#55a5f5"/>
<circle cx="73.50" cy="439.00" r="1.55" fill="#55a5f5"/>
<circle cx="101.50" cy="438.50" r="1.55" fill="#55a5f5"/>
<circle cx="103.50" cy="437.30" r="1.55" fill="#55a5f5"/>
<circle cx="105.50" cy="436.80" r="1.55" fill="#55a5f5"/>
<circle cx="107.00" cy="438.20" r="1.55" fill="#55a5f5"/>
<circle cx="104.50" cy="439.50" r="1.55" fill="#55a5f5"/>
<circle cx="160.50" cy="269.40" r="1.55" fill="#0000c8"/>
<circle cx="149.00" cy="307.30" r="1.55" fill="#0000c8"/>
<circle cx="154.20" cy="320.10" r="1.55" fill="#0000c8"/>
<circle cx="145.30" cy="356.30" r="1.55" fill="#0000c8"/>
<circle cx="153.30" cy="366.40" r="1.55" fill="#0000c8"/>
<circle cx="148.10" cy="376.40" r="1.55" fill="#0000c8"/>
<circle cx="146.20" cy="379.70" r="1.55" fill="#0000c8"/>
<circle cx="145.50" cy="386.80" r="1.55" fill="#0000c8"/>
<circle cx="143.10" cy="399.50" r="1.55" fill="#0000c8"/>
<circle cx="151.40" cy="405.20" r="1.55" fill="#0000c8"/>
<circle cx="152.00" cy="411.20" r="1.55" fill="#0000c8"/>
<circle cx="144.90" cy="419.10" r="1.55" fill="#0000c8"/>
<circle cx="169.00" cy="423.30" r="1.55" fill="#0000c8"/>
<circle cx="138.10" cy="428.30" r="1.55" fill="#0000c8"/>
<circle cx="141.30" cy="428.30" r="1.55" fill="#0000c8"/>
<circle cx="148.10" cy="429.40" r="1.55" fill="#0000c8"/>
<circle cx="140.30" cy="437.90" r="1.55" fill="#0000c8"/>
<text x="60.80" y="326.25" font-size="4.6" font-weight="bold" fill="#111" text-anchor="start" textLength="15.80" lengthAdjust="spacingAndGlyphs">MYO3A</text>
<text x="75.70" y="345.25" font-size="4.6" font-weight="bold" fill="#111" text-anchor="start" textLength="14.50" lengthAdjust="spacingAndGlyphs">STLK3</text>
<text x="78.20" y="352.05" font-size="4.6" font-weight="bold" fill="#111" text-anchor="start" textLength="12.00" lengthAdjust="spacingAndGlyphs">VRK1</text>
<text x="68.30" y="390.55" font-size="4.6" font-weight="bold" fill="#111" text-anchor="start" textLength="15.70" lengthAdjust="spacingAndGlyphs">MYO3B</text>
<text x="97.70" y="389.85" font-size="4.6" font-weight="bold" fill="#111" text-anchor="start" textLength="11.20" lengthAdjust="spacingAndGlyphs">TAK1</text>
<text x="79.40" y="404.25" font-size="4.6" font-weight="bold" fill="#111" text-anchor="start" textLength="11.80" lengthAdjust="spacingAndGlyphs">NEK6</text>
<text x="98.50" y="404.55" font-size="4.6" font-weight="bold" fill="#111" text-anchor="start" textLength="7.90" lengthAdjust="spacingAndGlyphs">TTK</text>
<text x="71.50" y="409.15" font-size="4.6" font-weight="bold" fill="#111" text-anchor="start" textLength="10.30" lengthAdjust="spacingAndGlyphs">TNIK</text>
<text x="105.00" y="409.75" font-size="4.6" font-weight="bold" fill="#111" text-anchor="start" textLength="11.90" lengthAdjust="spacingAndGlyphs">MEK2</text>
<text x="75.20" y="418.05" font-size="4.6" font-weight="bold" fill="#111" text-anchor="start" textLength="13.40" lengthAdjust="spacingAndGlyphs">IRAK4</text>
<text x="83.10" y="431.45" font-size="4.6" font-weight="bold" fill="#111" text-anchor="start" textLength="9.50" lengthAdjust="spacingAndGlyphs">HGK</text>
<text x="73.10" y="435.05" font-size="4.6" font-weight="bold" fill="#111" text-anchor="start" textLength="12.20" lengthAdjust="spacingAndGlyphs">TRKB</text>
<text x="56.00" y="438.45" font-size="4.6" font-weight="bold" fill="#111" text-anchor="start" textLength="15.50" lengthAdjust="spacingAndGlyphs">ROCK2</text>
<text x="163.10" y="271.05" font-size="4.6" font-weight="bold" fill="#111" text-anchor="start" textLength="18.50" lengthAdjust="spacingAndGlyphs">CAMK2D</text>
<text x="151.60" y="308.95" font-size="4.6" font-weight="bold" fill="#111" text-anchor="start" textLength="18.50" lengthAdjust="spacingAndGlyphs">CAMK2G</text>
<text x="156.80" y="321.75" font-size="4.6" font-weight="bold" fill="#111" text-anchor="start" textLength="18.50" lengthAdjust="spacingAndGlyphs">CAMK2B</text>
<text x="147.90" y="357.95" font-size="4.6" font-weight="bold" fill="#111" text-anchor="start" textLength="15.50" lengthAdjust="spacingAndGlyphs">PDHK4</text>
<text x="155.90" y="368.05" font-size="4.6" font-weight="bold" fill="#111" text-anchor="start" textLength="18.50" lengthAdjust="spacingAndGlyphs">CAMK2A</text>
<text x="150.70" y="378.05" font-size="4.6" font-weight="bold" fill="#111" text-anchor="start" textLength="11.50" lengthAdjust="spacingAndGlyphs">PLK3</text>
<text x="148.80" y="381.35" font-size="4.6" font-weight="bold" fill="#111" text-anchor="start" textLength="11.50" lengthAdjust="spacingAndGlyphs">PLK2</text>
<text x="148.10" y="388.45" font-size="4.6" font-weight="bold" fill="#111" text-anchor="start" textLength="16.50" lengthAdjust="spacingAndGlyphs">DNAPK</text>
<text x="145.70" y="401.15" font-size="4.6" font-weight="bold" fill="#111" text-anchor="start" textLength="16.50" lengthAdjust="spacingAndGlyphs">BCKDK</text>
<text x="154.00" y="406.85" font-size="4.6" font-weight="bold" fill="#111" text-anchor="start" textLength="24.50" lengthAdjust="spacingAndGlyphs">MAPKAPK5</text>
<text x="154.60" y="412.85" font-size="4.6" font-weight="bold" fill="#111" text-anchor="start" textLength="14.00" lengthAdjust="spacingAndGlyphs">LATS2</text>
<text x="147.50" y="420.75" font-size="4.6" font-weight="bold" fill="#111" text-anchor="start" textLength="12.50" lengthAdjust="spacingAndGlyphs">PRPK</text>
<text x="171.60" y="424.95" font-size="4.6" font-weight="bold" fill="#111" text-anchor="start" textLength="13.00" lengthAdjust="spacingAndGlyphs">WNK1</text>
<text x="150.70" y="431.05" font-size="4.6" font-weight="bold" fill="#111" text-anchor="start" textLength="13.00" lengthAdjust="spacingAndGlyphs">LATS1</text>
</g>
<g id="D">
<text x="210.80" y="231.40" font-size="15.5" font-weight="bold" fill="#000" text-anchor="start">D</text>
<line x1="241.00" y1="439.80" x2="407.50" y2="439.80" stroke="#d8d8d8" stroke-width="0.8"/>
<circle cx="305.0" cy="451.7" r="0.75" fill="none" stroke="#8c8c8c" stroke-width="0.5"/>
<circle cx="286.6" cy="448.6" r="0.75" fill="none" stroke="#8c8c8c" stroke-width="0.5"/>
<circle cx="302.8" cy="450.9" r="0.75" fill="none" stroke="#8c8c8c" stroke-width="0.5"/>
<circle cx="315.4" cy="454.3" r="0.75" fill="none" stroke="#8c8c8c" stroke-width="0.5"/>
<circle cx="298.0" cy="447.8" r="0.75" fill="none" stroke="#8c8c8c" stroke-width="0.5"/>
<circle cx="318.9" cy="456.0" r="0.75" fill="none" stroke="#8c8c8c" stroke-width="0.5"/>
<circle cx="319.1" cy="454.0" r="0.75" fill="none" stroke="#8c8c8c" stroke-width="0.5"/>
<circle cx="295.6" cy="456.6" r="0.75" fill="none" stroke="#8c8c8c" stroke-width="0.5"/>
<circle cx="284.3" cy="441.7" r="0.75" fill="none" stroke="#8c8c8c" stroke-width="0.5"/>
<circle cx="297.1" cy="449.3" r="0.75" fill="none" stroke="#8c8c8c" stroke-width="0.5"/>
<circle cx="316.5" cy="457.7" r="0.75" fill="none" stroke="#8c8c8c" stroke-width="0.5"/>
<circle cx="302.0" cy="456.5" r="0.75" fill="none" stroke="#8c8c8c" stroke-width="0.5"/>
<circle cx="315.2" cy="455.8" r="0.75" fill="none" stroke="#8c8c8c" stroke-width="0.5"/>
<circle cx="321.4" cy="455.8" r="0.75" fill="none" stroke="#8c8c8c" stroke-width="0.5"/>
<circle cx="305.4" cy="449.7" r="0.75" fill="none" stroke="#8c8c8c" stroke-width="0.5"/>
<circle cx="302.4" cy="450.4" r="0.75" fill="none" stroke="#8c8c8c" stroke-width="0.5"/>
<circle cx="303.1" cy="450.4" r="0.75" fill="none" stroke="#8c8c8c" stroke-width="0.5"/>
<circle cx="304.8" cy="454.1" r="0.75" fill="none" stroke="#8c8c8c" stroke-width="0.5"/>
<circle cx="283.7" cy="441.1" r="0.75" fill="none" stroke="#8c8c8c" stroke-width="0.5"/>
<circle cx="289.8" cy="446.4" r="0.75" fill="none" stroke="#8c8c8c" stroke-width="0.5"/>
<circle cx="310.3" cy="455.3" r="0.75" fill="none" stroke="#8c8c8c" stroke-width="0.5"/>
<circle cx="311.3" cy="456.9" r="0.75" fill="none" stroke="#8c8c8c" stroke-width="0.5"/>
<circle cx="292.7" cy="450.7" r="0.75" fill="none" stroke="#8c8c8c" stroke-width="0.5"/>
<circle cx="289.6" cy="450.3" r="0.75" fill="none" stroke="#8c8c8c" stroke-width="0.5"/>
<circle cx="285.2" cy="443.4" r="0.75" fill="none" stroke="#8c8c8c" stroke-width="0.5"/>
<circle cx="322.6" cy="456.9" r="0.75" fill="none" stroke="#8c8c8c" stroke-width="0.5"/>
<circle cx="287.1" cy="448.7" r="0.75" fill="none" stroke="#8c8c8c" stroke-width="0.5"/>
<circle cx="284.4" cy="449.2" r="0.75" fill="none" stroke="#8c8c8c" stroke-width="0.5"/>
<circle cx="319.8" cy="454.9" r="0.75" fill="none" stroke="#8c8c8c" stroke-width="0.5"/>
<circle cx="292.2" cy="452.4" r="0.75" fill="none" stroke="#8c8c8c" stroke-width="0.5"/>
<circle cx="319.2" cy="455.9" r="0.75" fill="none" stroke="#8c8c8c" stroke-width="0.5"/>
<circle cx="285.0" cy="444.4" r="0.75" fill="none" stroke="#8c8c8c" stroke-width="0.5"/>
<circle cx="318.0" cy="456.1" r="0.75" fill="none" stroke="#8c8c8c" stroke-width="0.5"/>
<circle cx="318.7" cy="457.3" r="0.75" fill="none" stroke="#8c8c8c" stroke-width="0.5"/>
<circle cx="291.5" cy="453.8" r="0.75" fill="none" stroke="#8c8c8c" stroke-width="0.5"/>
<circle cx="300.8" cy="451.7" r="0.75" fill="none" stroke="#8c8c8c" stroke-width="0.5"/>
<circle cx="315.2" cy="453.2" r="0.75" fill="none" stroke="#8c8c8c" stroke-width="0.5"/>
<circle cx="317.5" cy="454.2" r="0.75" fill="none" stroke="#8c8c8c" stroke-width="0.5"/>
<circle cx="318.1" cy="455.3" r="0.75" fill="none" stroke="#8c8c8c" stroke-width="0.5"/>
<circle cx="314.3" cy="455.5" r="0.75" fill="none" stroke="#8c8c8c" stroke-width="0.5"/>
<circle cx="284.7" cy="443.8" r="0.75" fill="none" stroke="#8c8c8c" stroke-width="0.5"/>
<circle cx="310.7" cy="451.1" r="0.75" fill="none" stroke="#8c8c8c" stroke-width="0.5"/>
<circle cx="314.4" cy="454.8" r="0.75" fill="none" stroke="#8c8c8c" stroke-width="0.5"/>
<circle cx="289.3" cy="447.0" r="0.75" fill="none" stroke="#8c8c8c" stroke-width="0.5"/>
<circle cx="318.7" cy="453.3" r="0.75" fill="none" stroke="#8c8c8c" stroke-width="0.5"/>
<circle cx="314.3" cy="455.6" r="0.75" fill="none" stroke="#8c8c8c" stroke-width="0.5"/>
<circle cx="292.5" cy="451.6" r="0.75" fill="none" stroke="#8c8c8c" stroke-width="0.5"/>
<circle cx="311.0" cy="456.8" r="0.75" fill="none" stroke="#8c8c8c" stroke-width="0.5"/>
<circle cx="319.1" cy="454.9" r="0.75" fill="none" stroke="#8c8c8c" stroke-width="0.5"/>
<circle cx="313.1" cy="453.3" r="0.75" fill="none" stroke="#8c8c8c" stroke-width="0.5"/>
<circle cx="308.1" cy="453.2" r="0.75" fill="none" stroke="#8c8c8c" stroke-width="0.5"/>
<circle cx="285.2" cy="448.1" r="0.75" fill="none" stroke="#8c8c8c" stroke-width="0.5"/>
<circle cx="300.2" cy="447.9" r="0.75" fill="none" stroke="#8c8c8c" stroke-width="0.5"/>
<circle cx="315.5" cy="456.4" r="0.75" fill="none" stroke="#8c8c8c" stroke-width="0.5"/>
<circle cx="287.2" cy="444.3" r="0.75" fill="none" stroke="#8c8c8c" stroke-width="0.5"/>
<circle cx="312.9" cy="455.9" r="0.75" fill="none" stroke="#8c8c8c" stroke-width="0.5"/>
<circle cx="293.8" cy="445.1" r="0.75" fill="none" stroke="#8c8c8c" stroke-width="0.5"/>
<circle cx="314.9" cy="452.2" r="0.75" fill="none" stroke="#8c8c8c" stroke-width="0.5"/>
<circle cx="288.2" cy="447.2" r="0.75" fill="none" stroke="#8c8c8c" stroke-width="0.5"/>
<circle cx="306.2" cy="456.1" r="0.75" fill="none" stroke="#8c8c8c" stroke-width="0.5"/>
<circle cx="326.2" cy="454.2" r="0.75" fill="none" stroke="#8c8c8c" stroke-width="0.5"/>
<circle cx="334.4" cy="452.8" r="0.75" fill="none" stroke="#8c8c8c" stroke-width="0.5"/>
<circle cx="335.1" cy="452.0" r="0.75" fill="none" stroke="#8c8c8c" stroke-width="0.5"/>
<circle cx="349.1" cy="453.1" r="0.75" fill="none" stroke="#8c8c8c" stroke-width="0.5"/>
<circle cx="331.8" cy="453.4" r="0.75" fill="none" stroke="#8c8c8c" stroke-width="0.5"/>
<circle cx="327.4" cy="456.5" r="0.75" fill="none" stroke="#8c8c8c" stroke-width="0.5"/>
<circle cx="347.5" cy="448.2" r="0.75" fill="none" stroke="#8c8c8c" stroke-width="0.5"/>
<circle cx="349.8" cy="453.2" r="0.75" fill="none" stroke="#8c8c8c" stroke-width="0.5"/>
<circle cx="362.2" cy="452.8" r="0.75" fill="none" stroke="#8c8c8c" stroke-width="0.5"/>
<circle cx="325.3" cy="456.6" r="0.75" fill="none" stroke="#8c8c8c" stroke-width="0.5"/>
<circle cx="342.9" cy="456.7" r="0.75" fill="none" stroke="#8c8c8c" stroke-width="0.5"/>
<circle cx="331.8" cy="455.1" r="0.75" fill="none" stroke="#8c8c8c" stroke-width="0.5"/>
<circle cx="348.1" cy="455.3" r="0.75" fill="none" stroke="#8c8c8c" stroke-width="0.5"/>
<circle cx="339.4" cy="450.4" r="0.75" fill="none" stroke="#8c8c8c" stroke-width="0.5"/>
<circle cx="364.8" cy="445.5" r="0.75" fill="none" stroke="#8c8c8c" stroke-width="0.5"/>
<circle cx="352.9" cy="449.2" r="0.75" fill="none" stroke="#8c8c8c" stroke-width="0.5"/>
<circle cx="330.4" cy="457.5" r="0.75" fill="none" stroke="#8c8c8c" stroke-width="0.5"/>
<circle cx="325.3" cy="454.7" r="0.75" fill="none" stroke="#8c8c8c" stroke-width="0.5"/>
<circle cx="353.3" cy="445.4" r="0.75" fill="none" stroke="#8c8c8c" stroke-width="0.5"/>
<circle cx="325.5" cy="455.4" r="0.75" fill="none" stroke="#8c8c8c" stroke-width="0.5"/>
<circle cx="344.4" cy="450.0" r="0.75" fill="none" stroke="#8c8c8c" stroke-width="0.5"/>
<circle cx="337.7" cy="450.3" r="0.75" fill="none" stroke="#8c8c8c" stroke-width="0.5"/>
<circle cx="327.7" cy="455.1" r="0.75" fill="none" stroke="#8c8c8c" stroke-width="0.5"/>
<circle cx="354.8" cy="445.5" r="0.75" fill="none" stroke="#8c8c8c" stroke-width="0.5"/>
<circle cx="354.8" cy="447.5" r="0.75" fill="none" stroke="#8c8c8c" stroke-width="0.5"/>
<circle cx="357.1" cy="444.7" r="0.75" fill="none" stroke="#8c8c8c" stroke-width="0.5"/>
<circle cx="339.0" cy="451.8" r="0.75" fill="none" stroke="#8c8c8c" stroke-width="0.5"/>
<circle cx="361.5" cy="443.8" r="0.75" fill="none" stroke="#8c8c8c" stroke-width="0.5"/>
<circle cx="341.7" cy="450.3" r="0.75" fill="none" stroke="#8c8c8c" stroke-width="0.5"/>
<circle cx="360.0" cy="447.8" r="0.75" fill="none" stroke="#8c8c8c" stroke-width="0.5"/>
<circle cx="350.2" cy="451.9" r="0.75" fill="none" stroke="#8c8c8c" stroke-width="0.5"/>
<circle cx="348.5" cy="450.0" r="0.75" fill="none" stroke="#8c8c8c" stroke-width="0.5"/>
<circle cx="327.9" cy="454.8" r="0.75" fill="none" stroke="#8c8c8c" stroke-width="0.5"/>
<circle cx="365.3" cy="442.5" r="0.75" fill="none" stroke="#8c8c8c" stroke-width="0.5"/>
<circle cx="354.5" cy="451.1" r="0.75" fill="none" stroke="#8c8c8c" stroke-width="0.5"/>
<circle cx="354.7" cy="448.9" r="0.75" fill="none" stroke="#8c8c8c" stroke-width="0.5"/>
<circle cx="342.7" cy="449.7" r="0.75" fill="none" stroke="#8c8c8c" stroke-width="0.5"/>
<circle cx="328.0" cy="454.3" r="0.75" fill="none" stroke="#8c8c8c" stroke-width="0.5"/>
<circle cx="325.8" cy="455.4" r="0.75" fill="none" stroke="#8c8c8c" stroke-width="0.5"/>
<circle cx="344.3" cy="454.5" r="0.75" fill="none" stroke="#8c8c8c" stroke-width="0.5"/>
<circle cx="353.2" cy="450.1" r="0.75" fill="none" stroke="#8c8c8c" stroke-width="0.5"/>
<circle cx="349.8" cy="446.9" r="0.75" fill="none" stroke="#8c8c8c" stroke-width="0.5"/>
<circle cx="335.1" cy="457.7" r="0.75" fill="none" stroke="#8c8c8c" stroke-width="0.5"/>
<circle cx="336.9" cy="452.3" r="0.75" fill="none" stroke="#8c8c8c" stroke-width="0.5"/>
<circle cx="332.9" cy="456.2" r="0.75" fill="none" stroke="#8c8c8c" stroke-width="0.5"/>
<circle cx="369.2" cy="450.1" r="0.75" fill="none" stroke="#8c8c8c" stroke-width="0.5"/>
<circle cx="322.8" cy="447.3" r="0.75" fill="none" stroke="#8c8c8c" stroke-width="0.5"/>
<circle cx="311.3" cy="450.0" r="0.75" fill="none" stroke="#8c8c8c" stroke-width="0.5"/>
<circle cx="298.5" cy="452.8" r="0.75" fill="none" stroke="#8c8c8c" stroke-width="0.5"/>
<circle cx="359.2" cy="447.0" r="0.75" fill="none" stroke="#8c8c8c" stroke-width="0.5"/>
<circle cx="366.6" cy="453.4" r="0.75" fill="none" stroke="#8c8c8c" stroke-width="0.5"/>
<circle cx="336.9" cy="454.2" r="0.75" fill="none" stroke="#8c8c8c" stroke-width="0.5"/>
<circle cx="292.2" cy="452.0" r="0.75" fill="none" stroke="#8c8c8c" stroke-width="0.5"/>
<line x1="323.60" y1="231.20" x2="323.60" y2="459.60" stroke="#8a8a8a" stroke-width="1.1"/>
<line x1="241.00" y1="230.60" x2="241.00" y2="460.20" stroke="#000" stroke-width="1.6"/>
<line x1="240.20" y1="459.60" x2="407.50" y2="459.60" stroke="#000" stroke-width="1.6"/>
<line x1="300.00" y1="459.60" x2="365.00" y2="459.60" stroke="#9a9a9a" stroke-width="1.6"/>
<rect x="375.3" y="459.1" width="1.2" height="1" fill="#fff" opacity="0.8"/>
<rect x="377.1" y="459.1" width="1.2" height="1" fill="#fff" opacity="0.8"/>
<rect x="355.4" y="459.1" width="1.2" height="1" fill="#fff" opacity="0.8"/>
<rect x="393.1" y="459.1" width="1.2" height="1" fill="#fff" opacity="0.8"/>
<rect x="286.7" y="459.1" width="1.2" height="1" fill="#fff" opacity="0.8"/>
<rect x="269.7" y="459.1" width="1.2" height="1" fill="#fff" opacity="0.8"/>
<rect x="314.2" y="459.1" width="1.2" height="1" fill="#fff" opacity="0.8"/>
<rect x="286.5" y="459.1" width="1.2" height="1" fill="#fff" opacity="0.8"/>
<rect x="276.8" y="459.1" width="1.2" height="1" fill="#fff" opacity="0.8"/>
<rect x="308.4" y="459.1" width="1.2" height="1" fill="#fff" opacity="0.8"/>
<rect x="341.9" y="459.1" width="1.2" height="1" fill="#fff" opacity="0.8"/>
<rect x="321.0" y="459.1" width="1.2" height="1" fill="#fff" opacity="0.8"/>
<rect x="292.8" y="459.1" width="1.2" height="1" fill="#fff" opacity="0.8"/>
<rect x="375.6" y="459.1" width="1.2" height="1" fill="#fff" opacity="0.8"/>
<line x1="237.80" y1="230.55" x2="241.00" y2="230.55" stroke="#000" stroke-width="1.2"/>
<text x="237.40" y="232.95" font-size="6.4" font-weight="bold" fill="#000" text-anchor="end">15</text>
<line x1="237.80" y1="306.90" x2="241.00" y2="306.90" stroke="#000" stroke-width="1.2"/>
<text x="237.40" y="309.30" font-size="6.4" font-weight="bold" fill="#000" text-anchor="end">10</text>
<line x1="237.80" y1="383.25" x2="241.00" y2="383.25" stroke="#000" stroke-width="1.2"/>
<text x="237.40" y="385.65" font-size="6.4" font-weight="bold" fill="#000" text-anchor="end">5</text>
<line x1="237.80" y1="459.60" x2="241.00" y2="459.60" stroke="#000" stroke-width="1.2"/>
<text x="237.40" y="462.00" font-size="6.4" font-weight="bold" fill="#000" text-anchor="end">0</text>
<line x1="268.50" y1="459.60" x2="268.50" y2="462.60" stroke="#000" stroke-width="1.2"/>
<text x="268.50" y="471.20" font-size="6.4" font-weight="bold" fill="#000" text-anchor="middle">-2</text>
<line x1="323.60" y1="459.60" x2="323.60" y2="462.60" stroke="#000" stroke-width="1.2"/>
<text x="323.60" y="471.20" font-size="6.4" font-weight="bold" fill="#000" text-anchor="middle">0</text>
<line x1="378.70" y1="459.60" x2="378.70" y2="462.60" stroke="#000" stroke-width="1.2"/>
<text x="378.70" y="471.20" font-size="6.4" font-weight="bold" fill="#000" text-anchor="middle">2</text>
<text x="319.30" y="241.30" font-size="8.0" font-weight="bold" fill="#000" text-anchor="end">Predicted Kinase</text>
<text x="319.30" y="250.40" font-size="8.0" font-weight="bold" fill="#000" text-anchor="end">Inhibition</text>
<text x="327.70" y="241.30" font-size="8.0" font-weight="bold" fill="#000" text-anchor="start">Predicted Kinase</text>
<text x="327.70" y="250.40" font-size="8.0" font-weight="bold" fill="#000" text-anchor="start">Activation</text>
<path d="M321.40,253.15 L251.40,253.15 L251.40,251.60 L244.20,254.50 L251.40,257.40 L251.40,255.85 L321.40,255.85 Z" fill="#f03a3a"/>
<path d="M325.90,253.05 L395.70,253.05 L395.70,251.50 L402.90,254.40 L395.70,257.30 L395.70,255.75 L325.90,255.75 Z" fill="#a80000"/>
<text transform="translate(224.00,342.6) rotate(-90)" font-size="11.6" font-weight="bold" text-anchor="middle">-Log10 adj p-value</text>
<text x="255.40" y="483.8" font-size="12.1" font-weight="bold">Log<tspan font-size="9.4" dy="2.9">2</tspan><tspan dy="-2.9"> (enrichment value)</tspan></text>
<circle cx="278.60" cy="364.20" r="1.55" fill="#f03a3a"/>
<circle cx="280.10" cy="375.10" r="1.55" fill="#f03a3a"/>
<circle cx="280.10" cy="378.40" r="1.55" fill="#f03a3a"/>
<circle cx="271.40" cy="398.20" r="1.55" fill="#f03a3a"/>
<circle cx="279.20" cy="398.50" r="1.55" fill="#f03a3a"/>
<circle cx="281.80" cy="403.70" r="1.55" fill="#f03a3a"/>
<circle cx="288.00" cy="403.70" r="1.55" fill="#f03a3a"/>
<circle cx="277.40" cy="409.30" r="1.55" fill="#f03a3a"/>
<circle cx="281.30" cy="409.30" r="1.55" fill="#f03a3a"/>
<circle cx="286.80" cy="409.30" r="1.55" fill="#f03a3a"/>
<circle cx="287.80" cy="409.30" r="1.55" fill="#f03a3a"/>
<circle cx="293.00" cy="409.30" r="1.55" fill="#f03a3a"/>
<circle cx="289.30" cy="419.20" r="1.55" fill="#f03a3a"/>
<circle cx="289.90" cy="420.20" r="1.55" fill="#f03a3a"/>
<circle cx="293.60" cy="424.50" r="1.55" fill="#f03a3a"/>
<circle cx="287.00" cy="426.40" r="1.55" fill="#f03a3a"/>
<circle cx="294.50" cy="428.40" r="1.55" fill="#f03a3a"/>
<circle cx="296.80" cy="429.40" r="1.55" fill="#f03a3a"/>
<circle cx="282.00" cy="433.40" r="1.55" fill="#f03a3a"/>
<circle cx="291.20" cy="433.40" r="1.55" fill="#f03a3a"/>
<circle cx="292.80" cy="434.00" r="1.55" fill="#f03a3a"/>
<circle cx="294.50" cy="434.00" r="1.55" fill="#f03a3a"/>
<circle cx="300.20" cy="434.30" r="1.55" fill="#f03a3a"/>
<circle cx="301.10" cy="435.60" r="1.55" fill="#f03a3a"/>
<circle cx="342.60" cy="437.90" r="1.55" fill="#a80000"/>
<circle cx="346.30" cy="437.90" r="1.55" fill="#a80000"/>
<circle cx="350.50" cy="437.90" r="1.55" fill="#a80000"/>
<text x="264.00" y="365.85" font-size="4.6" font-weight="bold" fill="#111" text-anchor="start" textLength="12.60" lengthAdjust="spacingAndGlyphs">PERK</text>
<text x="269.30" y="376.15" font-size="4.6" font-weight="bold" fill="#111" text-anchor="start" textLength="7.60" lengthAdjust="spacingAndGlyphs">HRI</text>
<text x="268.70" y="380.85" font-size="4.6" font-weight="bold" fill="#111" text-anchor="start" textLength="9.10" lengthAdjust="spacingAndGlyphs">TTK</text>
<text x="257.00" y="399.85" font-size="4.6" font-weight="bold" fill="#111" text-anchor="start" textLength="12.30" lengthAdjust="spacingAndGlyphs">NEK6</text>
<text x="281.80" y="400.15" font-size="4.6" font-weight="bold" fill="#111" text-anchor="start" textLength="15.80" lengthAdjust="spacingAndGlyphs">MEKK2</text>
<text x="265.00" y="405.35" font-size="4.6" font-weight="bold" fill="#111" text-anchor="start" textLength="15.60" lengthAdjust="spacingAndGlyphs">MEKK3</text>
<text x="290.30" y="405.35" font-size="4.6" font-weight="bold" fill="#111" text-anchor="start" textLength="11.10" lengthAdjust="spacingAndGlyphs">TAK1</text>
<text x="266.40" y="412.35" font-size="4.6" font-weight="bold" fill="#111" text-anchor="start" textLength="9.30" lengthAdjust="spacingAndGlyphs">PKR</text>
<text x="295.00" y="410.95" font-size="4.6" font-weight="bold" fill="#111" text-anchor="start" textLength="12.80" lengthAdjust="spacingAndGlyphs">MEK2</text>
<text x="273.40" y="428.05" font-size="4.6" font-weight="bold" fill="#111" text-anchor="start" textLength="11.60" lengthAdjust="spacingAndGlyphs">OSR1</text>
<text x="266.90" y="435.05" font-size="4.6" font-weight="bold" fill="#111" text-anchor="start" textLength="13.20" lengthAdjust="spacingAndGlyphs">IRAK4</text>
<text x="340.00" y="428.35" font-size="4.6" font-weight="bold" fill="#111" text-anchor="start" textLength="15.70" lengthAdjust="spacingAndGlyphs">DNAPK</text>
<text x="358.80" y="428.35" font-size="4.6" font-weight="bold" fill="#111" text-anchor="start" textLength="18.80" lengthAdjust="spacingAndGlyphs">CAMK2B</text>
<text x="329.20" y="436.25" font-size="4.6" font-weight="bold" fill="#111" text-anchor="start" textLength="15.10" lengthAdjust="spacingAndGlyphs">PDHK4</text>
<text x="353.50" y="439.65" font-size="4.6" font-weight="bold" fill="#111" text-anchor="start" textLength="18.40" lengthAdjust="spacingAndGlyphs">CAMK2D</text>
<line x1="346.50" y1="428.60" x2="345.80" y2="436.20" stroke="#333" stroke-width="0.5"/>
<line x1="358.50" y1="428.40" x2="349.60" y2="436.20" stroke="#333" stroke-width="0.5"/>
</g>
<g id="E">
<text x="433.80" y="231.90" font-size="15.5" font-weight="bold" fill="#000" text-anchor="start">E</text>
<text x="455.80" y="242.60" font-size="10.0" font-weight="bold" fill="#000" text-anchor="start" textLength="200.70" lengthAdjust="spacingAndGlyphs">Significantly-Regulated Upstream Kinases</text>
<line x1="448.80" y1="458.70" x2="663.20" y2="244.70" stroke="#c8c8c8" stroke-width="0.8"/>
<line x1="556.00" y1="244.70" x2="556.00" y2="458.70" stroke="#d08a8a" stroke-width="1.6"/>
<line x1="448.80" y1="351.70" x2="663.20" y2="351.70" stroke="#2020f0" stroke-width="1.1"/>
<line x1="448.80" y1="244.70" x2="448.80" y2="459.20" stroke="#000" stroke-width="1.3"/>
<line x1="448.20" y1="458.70" x2="663.20" y2="458.70" stroke="#000" stroke-width="1.3"/>
<line x1="446.30" y1="458.70" x2="448.80" y2="458.70" stroke="#000" stroke-width="1"/>
<text x="445.80" y="460.50" font-size="5.0" font-weight="bold" fill="#000" text-anchor="end">-2</text>
<line x1="448.80" y1="458.70" x2="448.80" y2="461.20" stroke="#000" stroke-width="1"/>
<text x="448.80" y="467.00" font-size="5.0" font-weight="bold" fill="#000" text-anchor="middle">-2</text>
<line x1="446.30" y1="405.20" x2="448.80" y2="405.20" stroke="#000" stroke-width="1"/>
<text x="445.80" y="407.00" font-size="5.0" font-weight="bold" fill="#000" text-anchor="end">-1</text>
<line x1="502.40" y1="458.70" x2="502.40" y2="461.20" stroke="#000" stroke-width="1"/>
<text x="502.40" y="467.00" font-size="5.0" font-weight="bold" fill="#000" text-anchor="middle">-1</text>
<line x1="446.30" y1="351.70" x2="448.80" y2="351.70" stroke="#000" stroke-width="1"/>
<text x="445.80" y="353.50" font-size="5.0" font-weight="bold" fill="#000" text-anchor="end">0</text>
<line x1="556.00" y1="458.70" x2="556.00" y2="461.20" stroke="#000" stroke-width="1"/>
<text x="556.00" y="467.00" font-size="5.0" font-weight="bold" fill="#000" text-anchor="middle">0</text>
<line x1="446.30" y1="298.20" x2="448.80" y2="298.20" stroke="#000" stroke-width="1"/>
<text x="445.80" y="300.00" font-size="5.0" font-weight="bold" fill="#000" text-anchor="end">1</text>
<line x1="609.60" y1="458.70" x2="609.60" y2="461.20" stroke="#000" stroke-width="1"/>
<text x="609.60" y="467.00" font-size="5.0" font-weight="bold" fill="#000" text-anchor="middle">1</text>
<line x1="446.30" y1="244.70" x2="448.80" y2="244.70" stroke="#000" stroke-width="1"/>
<text x="445.80" y="246.50" font-size="5.0" font-weight="bold" fill="#000" text-anchor="end">2</text>
<line x1="663.20" y1="458.70" x2="663.20" y2="461.20" stroke="#000" stroke-width="1"/>
<text x="663.20" y="467.00" font-size="5.0" font-weight="bold" fill="#000" text-anchor="middle">2</text>
<line x1="480.50" y1="438.20" x2="497.00" y2="434.00" stroke="#cc66dd" stroke-width="0.5"/>
<line x1="501.50" y1="446.00" x2="503.50" y2="439.50" stroke="#cc66dd" stroke-width="0.5"/>
<line x1="509.00" y1="447.50" x2="504.50" y2="439.50" stroke="#cc66dd" stroke-width="0.5"/>
<line x1="506.00" y1="405.50" x2="513.00" y2="410.00" stroke="#cc66dd" stroke-width="0.5"/>
<line x1="502.00" y1="410.50" x2="508.00" y2="416.00" stroke="#cc66dd" stroke-width="0.5"/>
<line x1="491.00" y1="414.00" x2="499.00" y2="420.00" stroke="#cc66dd" stroke-width="0.5"/>
<line x1="598.00" y1="307.50" x2="597.50" y2="308.50" stroke="#cc66dd" stroke-width="0.5"/>
<circle cx="457.40" cy="306.00" r="2.15" fill="#0a0af5"/>
<circle cx="478.90" cy="351.60" r="2.15" fill="#0a0af5"/>
<circle cx="518.90" cy="357.10" r="2.15" fill="#0a0af5"/>
<circle cx="508.30" cy="379.80" r="2.15" fill="#0a0af5"/>
<circle cx="506.80" cy="382.60" r="2.15" fill="#0a0af5"/>
<circle cx="520.10" cy="381.70" r="2.15" fill="#0a0af5"/>
<circle cx="500.40" cy="391.20" r="2.15" fill="#0a0af5"/>
<circle cx="511.70" cy="393.10" r="2.15" fill="#0a0af5"/>
<circle cx="497.90" cy="397.40" r="2.15" fill="#0a0af5"/>
<circle cx="520.10" cy="396.50" r="2.15" fill="#0a0af5"/>
<circle cx="513.10" cy="402.80" r="2.15" fill="#0a0af5"/>
<circle cx="482.10" cy="406.60" r="2.15" fill="#0a0af5"/>
<circle cx="468.50" cy="407.50" r="2.15" fill="#0a0af5"/>
<circle cx="477.00" cy="414.10" r="2.15" fill="#0a0af5"/>
<circle cx="610.30" cy="292.00" r="2.15" fill="#0a0af5"/>
<circle cx="608.70" cy="300.60" r="2.15" fill="#0a0af5"/>
<circle cx="613.00" cy="302.00" r="2.15" fill="#0a0af5"/>
<circle cx="583.80" cy="319.80" r="2.15" fill="#0a0af5"/>
<circle cx="596.60" cy="318.50" r="2.15" fill="#0a0af5"/>
<circle cx="643.00" cy="319.80" r="2.15" fill="#0a0af5"/>
<circle cx="602.10" cy="326.90" r="2.15" fill="#0a0af5"/>
<circle cx="605.00" cy="326.20" r="2.15" fill="#0a0af5"/>
<circle cx="603.00" cy="327.90" r="2.15" fill="#0a0af5"/>
<circle cx="593.20" cy="331.70" r="2.15" fill="#0a0af5"/>
<circle cx="588.10" cy="336.70" r="2.15" fill="#0a0af5"/>
<circle cx="598.50" cy="336.20" r="2.15" fill="#0a0af5"/>
<circle cx="589.70" cy="341.70" r="2.15" fill="#0a0af5"/>
<circle cx="588.90" cy="351.50" r="2.15" fill="#0a0af5"/>
<circle cx="602.60" cy="352.30" r="2.15" fill="#0a0af5"/>
<circle cx="532.60" cy="397.40" r="2.15" fill="#a00000"/>
<circle cx="551.60" cy="395.90" r="2.15" fill="#a00000"/>
<circle cx="558.20" cy="407.90" r="2.15" fill="#a00000"/>
<circle cx="535.30" cy="407.90" r="2.15" fill="#a00000"/>
<circle cx="531.50" cy="410.70" r="2.15" fill="#a00000"/>
<circle cx="534.90" cy="414.50" r="2.15" fill="#a00000"/>
<circle cx="527.70" cy="419.70" r="2.15" fill="#a00000"/>
<circle cx="519.70" cy="432.90" r="2.15" fill="#a00000"/>
<circle cx="531.10" cy="436.90" r="2.15" fill="#a00000"/>
<circle cx="627.10" cy="299.30" r="2.15" fill="#dd88ee"/>
<circle cx="614.60" cy="306.50" r="2.15" fill="#dd88ee"/>
<circle cx="597.70" cy="309.20" r="2.15" fill="#dd88ee"/>
<circle cx="597.40" cy="315.00" r="2.15" fill="#dd88ee"/>
<circle cx="493.50" cy="403.10" r="2.15" fill="#dd88ee"/>
<circle cx="514.00" cy="411.10" r="2.15" fill="#dd88ee"/>
<circle cx="509.30" cy="417.00" r="2.15" fill="#dd88ee"/>
<circle cx="522.00" cy="410.20" r="2.15" fill="#dd88ee"/>
<circle cx="517.80" cy="417.00" r="2.15" fill="#dd88ee"/>
<circle cx="500.40" cy="421.20" r="2.15" fill="#dd88ee"/>
<circle cx="493.70" cy="420.80" r="2.15" fill="#dd88ee"/>
<circle cx="513.10" cy="422.70" r="2.15" fill="#dd88ee"/>
<circle cx="517.20" cy="422.70" r="2.15" fill="#dd88ee"/>
<circle cx="489.00" cy="432.20" r="2.15" fill="#dd88ee"/>
<circle cx="497.50" cy="433.50" r="2.15" fill="#dd88ee"/>
<circle cx="492.80" cy="441.10" r="2.15" fill="#dd88ee"/>
<circle cx="503.60" cy="437.70" r="2.15" fill="#dd88ee"/>
<circle cx="518.80" cy="439.20" r="2.15" fill="#dd88ee"/>
<circle cx="490.30" cy="453.10" r="2.15" fill="#dd88ee"/>
<text x="630.70" y="300.90" font-size="4.5" font-weight="bold" fill="#b03cc8" text-anchor="start" textLength="21.80" lengthAdjust="spacingAndGlyphs">CAMK2D</text>
<text x="618.10" y="308.10" font-size="4.5" font-weight="bold" fill="#b03cc8" text-anchor="start" textLength="21.40" lengthAdjust="spacingAndGlyphs">CAMK2B</text>
<text x="580.00" y="307.30" font-size="4.5" font-weight="bold" fill="#b03cc8" text-anchor="start" textLength="15.70" lengthAdjust="spacingAndGlyphs">DNAPK</text>
<text x="601.00" y="316.60" font-size="4.5" font-weight="bold" fill="#b03cc8" text-anchor="start" textLength="18.50" lengthAdjust="spacingAndGlyphs">PDHK4</text>
<text x="478.00" y="400.60" font-size="4.5" font-weight="bold" fill="#b03cc8" text-anchor="start" textLength="13.60" lengthAdjust="spacingAndGlyphs">STLK3</text>
<text x="498.80" y="406.30" font-size="4.5" font-weight="bold" fill="#b03cc8" text-anchor="start" textLength="12.40" lengthAdjust="spacingAndGlyphs">MEKK2</text>
<text x="493.10" y="411.00" font-size="4.5" font-weight="bold" fill="#b03cc8" text-anchor="start" textLength="14.30" lengthAdjust="spacingAndGlyphs">EEF2K</text>
<text x="522.00" y="405.60" font-size="4.5" font-weight="bold" fill="#b03cc8" text-anchor="start" textLength="19.50" lengthAdjust="spacingAndGlyphs">CAMKK1</text>
<text x="519.70" y="417.10" font-size="4.5" font-weight="bold" fill="#b03cc8" text-anchor="start" textLength="12.30" lengthAdjust="spacingAndGlyphs">MST2</text>
<text x="484.20" y="414.20" font-size="4.5" font-weight="bold" fill="#b03cc8" text-anchor="start" textLength="10.80" lengthAdjust="spacingAndGlyphs">TAK1</text>
<text x="478.90" y="422.40" font-size="4.5" font-weight="bold" fill="#b03cc8" text-anchor="start" textLength="11.40" lengthAdjust="spacingAndGlyphs">VRK1</text>
<text x="502.30" y="429.40" font-size="4.5" font-weight="bold" fill="#b03cc8" text-anchor="start" textLength="11.70" lengthAdjust="spacingAndGlyphs">OSR1</text>
<text x="518.80" y="429.00" font-size="4.5" font-weight="bold" fill="#b03cc8" text-anchor="start" textLength="11.90" lengthAdjust="spacingAndGlyphs">MLK4</text>
<text x="473.20" y="433.60" font-size="4.5" font-weight="bold" fill="#b03cc8" text-anchor="start" textLength="13.30" lengthAdjust="spacingAndGlyphs">IRAK4</text>
<text x="468.50" y="440.40" font-size="4.5" font-weight="bold" fill="#b03cc8" text-anchor="start" textLength="11.70" lengthAdjust="spacingAndGlyphs">MST1</text>
<text x="480.80" y="444.20" font-size="4.5" font-weight="bold" fill="#b03cc8" text-anchor="start" textLength="8.90" lengthAdjust="spacingAndGlyphs">PKR</text>
<text x="493.70" y="449.30" font-size="4.5" font-weight="bold" fill="#b03cc8" text-anchor="start" textLength="8.00" lengthAdjust="spacingAndGlyphs">TTK</text>
<text x="506.40" y="450.90" font-size="4.5" font-weight="bold" fill="#b03cc8" text-anchor="start" textLength="15.60" lengthAdjust="spacingAndGlyphs">MEKK2</text>
<text x="521.20" y="444.60" font-size="4.5" font-weight="bold" fill="#b03cc8" text-anchor="start" textLength="12.20" lengthAdjust="spacingAndGlyphs">PERK</text>
<text x="476.00" y="455.00" font-size="4.5" font-weight="bold" fill="#b03cc8" text-anchor="start" textLength="11.10" lengthAdjust="spacingAndGlyphs">NEK6</text>
<rect x="577.3" y="425.5" width="82" height="20.5" fill="#fff" stroke="#000" stroke-width="1"/>
<circle cx="581.00" cy="429.20" r="2.2" fill="#0a0af5"/>
<text x="584.40" y="431.10" font-size="5.3" font-weight="bold" fill="#000" text-anchor="start" textLength="47.50" lengthAdjust="spacingAndGlyphs">Regulated by RT only</text>
<circle cx="581.00" cy="435.70" r="2.2" fill="#a00000"/>
<text x="584.40" y="437.60" font-size="5.3" font-weight="bold" fill="#000" text-anchor="start" textLength="52.00" lengthAdjust="spacingAndGlyphs">Regulated by HIIT only</text>
<circle cx="581.00" cy="442.20" r="2.2" fill="#dd88ee"/>
<text x="584.40" y="444.10" font-size="5.3" font-weight="bold" fill="#000" text-anchor="start" textLength="73.00" lengthAdjust="spacingAndGlyphs">Regulated by both HIIT and RT</text>
<path d="M428.10,345.50 L428.10,274.80 L426.60,274.80 L429.40,267.80 L432.20,274.80 L430.70,274.80 L430.70,345.50 Z" fill="#a00000"/>
<path d="M428.10,358.50 L428.10,429.50 L426.60,429.50 L429.40,436.50 L432.20,429.50 L430.70,429.50 L430.70,358.50 Z" fill="#f05050"/>
<text transform="translate(439.4,300.1) rotate(-90)" font-size="7.5" text-anchor="middle" textLength="91.4" lengthAdjust="spacingAndGlyphs">Predicted Kinase Activation</text>
<text transform="translate(439.4,403.5) rotate(-90)" font-size="7.5" text-anchor="middle" textLength="90.6" lengthAdjust="spacingAndGlyphs">Predicted Kinase Inhibition</text>
<text transform="translate(423.3,355.2) rotate(-90)" font-size="10.6" font-weight="bold" text-anchor="middle">HIIT Enrichment Value (Log<tspan font-size="7.6" dy="2.3">2</tspan><tspan dy="-2.3">)</tspan></text>
<text x="462.20" y="475.80" font-size="7.3" font-weight="bold" fill="#000" text-anchor="start" textLength="89.80" lengthAdjust="spacingAndGlyphs">Predicted Kinase Inhibition</text>
<text x="559.10" y="475.80" font-size="7.3" font-weight="bold" fill="#000" text-anchor="start" textLength="93.00" lengthAdjust="spacingAndGlyphs">Predicted Kinase Activation</text>
<path d="M550.90,478.80 L481.00,478.80 L481.00,477.20 L474.00,480.20 L481.00,483.20 L481.00,481.60 L550.90,481.60 Z" fill="#55a5f5"/>
<path d="M559.80,478.80 L630.80,478.80 L630.80,477.20 L637.80,480.20 L630.80,483.20 L630.80,481.60 L559.80,481.60 Z" fill="#0000b4"/>
<text x="489.8" y="491.9" font-size="10.1" font-weight="bold">RT Enrichment Value (Log<tspan font-size="7.4" dy="2.3">2</tspan><tspan dy="-2.3">)</tspan></text>
</g>
<g id="F">
<text x="45.70" y="517.00" font-size="15.2" font-weight="bold" fill="#000" text-anchor="start">F</text>
<rect x="89.2" y="518.5" width="58.2" height="181" rx="4" fill="#e9eff9"/>
<rect x="470.5" y="518.5" width="57.8" height="181" rx="4" fill="#e9eff9"/>
<text x="117.90" y="515.00" font-size="8.4" font-weight="bold" fill="#000" text-anchor="middle">Z-Line</text>
<text x="500.00" y="514.60" font-size="8.4" font-weight="bold" fill="#000" text-anchor="middle">M-Line</text>
<path d="M131,557 C140,556 143,545 149,544 S160,541 168,542.5" fill="none" stroke="#5fa55f" stroke-width="0.9"/>
<path d="M131,557 C140,558 144,566 152,568 S162,573 168,574" fill="none" stroke="#5fa55f" stroke-width="0.9"/>
<path d="M131,584 C140,584 144,577 152,577 S162,574 168,574" fill="none" stroke="#5fa55f" stroke-width="0.9"/>
<path d="M131,584 C140,585 144,596 152,598 S161,603 168,603.5" fill="none" stroke="#5fa55f" stroke-width="0.9"/>
<path d="M131,624 C140,623 143,611 149,610 S160,608 168,608.5" fill="none" stroke="#5fa55f" stroke-width="0.9"/>
<path d="M131,624 C140,625 144,634 152,636 S162,640 168,640.5" fill="none" stroke="#5fa55f" stroke-width="0.9"/>
<path d="M131,651 C140,651 144,644 152,644 S162,641 168,640.5" fill="none" stroke="#5fa55f" stroke-width="0.9"/>
<path d="M131,651 C140,652 144,663 152,665 S161,669 168,669.5" fill="none" stroke="#5fa55f" stroke-width="0.9"/>
<path d="M137,548 C145,548 147,553 152,555" fill="none" stroke="#5fa55f" stroke-width="0.9"/>
<path d="M137,613 C145,613 147,618 152,620" fill="none" stroke="#5fa55f" stroke-width="0.9"/>
<path d="M315.8,543.5 C322.0,553.5 338.0,549.5 344.0,568.5" fill="none" stroke="#a99ae0" stroke-width="1.25"/>
<path d="M315.8,610.5 C322.0,620.5 338.0,616.5 344.0,635.5" fill="none" stroke="#a99ae0" stroke-width="1.25"/>
<path d="M327.6,581.5 C322.0,593.5 305.0,591.5 300.6,602.0" fill="none" stroke="#a99ae0" stroke-width="1.25"/>
<path d="M327.6,648.5 C322.0,660.5 305.0,658.5 300.6,669.0" fill="none" stroke="#a99ae0" stroke-width="1.25"/>
<path d="M361.6,543.5 C367.8,553.5 383.8,549.5 389.8,568.5" fill="none" stroke="#a99ae0" stroke-width="1.25"/>
<path d="M361.6,610.5 C367.8,620.5 383.8,616.5 389.8,635.5" fill="none" stroke="#a99ae0" stroke-width="1.25"/>
<path d="M373.4,581.5 C367.8,593.5 350.8,591.5 346.4,602.0" fill="none" stroke="#a99ae0" stroke-width="1.25"/>
<path d="M373.4,648.5 C367.8,660.5 350.8,658.5 346.4,669.0" fill="none" stroke="#a99ae0" stroke-width="1.25"/>
<path d="M407.4,543.5 C413.6,553.5 429.6,549.5 435.6,568.5" fill="none" stroke="#a99ae0" stroke-width="1.25"/>
<path d="M407.4,610.5 C413.6,620.5 429.6,616.5 435.6,635.5" fill="none" stroke="#a99ae0" stroke-width="1.25"/>
<path d="M419.2,581.5 C413.6,593.5 396.6,591.5 392.2,602.0" fill="none" stroke="#a99ae0" stroke-width="1.25"/>
<path d="M419.2,648.5 C413.6,660.5 396.6,658.5 392.2,669.0" fill="none" stroke="#a99ae0" stroke-width="1.25"/>
<defs><linearGradient id="fadeA" x1="0" y1="0" x2="0" y2="1"><stop offset="0" stop-color="#1a1a1a" stop-opacity="0.1"/><stop offset="0.35" stop-color="#1a1a1a" stop-opacity="1"/></linearGradient></defs>
<path d="M103.00,536.00 L103.27,536.45 L103.53,537.79 L103.80,539.98 L104.06,542.97 L104.33,546.69 L104.59,551.05 L104.86,555.93 L105.12,561.22 L105.39,566.79 L105.65,572.50 L105.91,578.21 L106.18,583.78 L106.44,589.07 L106.71,593.95 L106.97,598.31 L107.24,602.03 L107.50,605.02 L107.77,607.21 L108.03,608.55 L108.30,609.00 L108.83,608.52 L109.37,607.09 L109.91,604.75 L110.44,601.55 L110.97,597.58 L111.51,592.92 L112.05,587.71 L112.58,582.05 L113.11,576.10 L113.65,570.00 L114.19,563.90 L114.72,557.95 L115.25,552.29 L115.79,547.08 L116.33,542.42 L116.86,538.45 L117.39,535.25 L117.93,532.91 L118.47,531.48 L119.00,531.00 L119.38,531.49 L119.75,532.93 L120.12,535.31 L120.50,538.54 L120.88,542.57 L121.25,547.28 L121.62,552.57 L122.00,558.29 L122.38,564.32 L122.75,570.50 L123.12,576.68 L123.50,582.71 L123.88,588.43 L124.25,593.72 L124.62,598.43 L125.00,602.46 L125.38,605.69 L125.75,608.07 L126.12,609.51 L126.50,610.00 L126.95,609.49 L127.40,607.97 L127.85,605.48 L128.30,602.07 L128.75,597.84 L129.20,592.89 L129.65,587.34 L130.10,581.32 L130.55,574.99 L131.00,568.50 L131.45,562.01 L131.90,555.68 L132.35,549.66 L132.80,544.11 L133.25,539.16 L133.70,534.93 L134.15,531.52 L134.60,529.03 L135.05,527.51 L135.50,527.00" fill="none" stroke="#1a1a1a" stroke-width="2.1" stroke-linejoin="round"/>
<path d="M101.5,535 L106.5,535 L107.5,552 L102,552 Z" fill="#e9eff9" opacity="0.55"/>
<path d="M132.5,526 L137.0,526 L136.5,543 L131.5,543 Z" fill="#e9eff9" opacity="0.55"/>
<path d="M101.00,609.50 L101.22,609.95 L101.44,611.29 L101.66,613.48 L101.88,616.47 L102.10,620.19 L102.32,624.55 L102.54,629.43 L102.76,634.72 L102.98,640.29 L103.20,646.00 L103.42,651.71 L103.64,657.28 L103.86,662.57 L104.08,667.45 L104.30,671.81 L104.52,675.53 L104.74,678.52 L104.96,680.71 L105.18,682.05 L105.40,682.50 L105.91,682.03 L106.41,680.65 L106.92,678.37 L107.42,675.27 L107.93,671.41 L108.43,666.90 L108.94,661.83 L109.44,656.35 L109.95,650.57 L110.45,644.65 L110.95,638.73 L111.46,632.95 L111.97,627.47 L112.47,622.40 L112.97,617.89 L113.48,614.03 L113.98,610.93 L114.49,608.65 L115.00,607.27 L115.50,606.80 L115.86,607.28 L116.22,608.69 L116.58,611.02 L116.94,614.19 L117.30,618.13 L117.66,622.75 L118.02,627.93 L118.38,633.54 L118.74,639.45 L119.10,645.50 L119.46,651.55 L119.82,657.46 L120.18,663.07 L120.54,668.25 L120.90,672.87 L121.26,676.81 L121.62,679.98 L121.98,682.31 L122.34,683.72 L122.70,684.20 L123.18,683.70 L123.66,682.20 L124.14,679.75 L124.62,676.40 L125.10,672.24 L125.58,667.36 L126.06,661.90 L126.54,655.97 L127.02,649.74 L127.50,643.35 L127.98,636.96 L128.46,630.73 L128.94,624.80 L129.42,619.34 L129.90,614.46 L130.38,610.30 L130.86,606.95 L131.34,604.50 L131.82,603.00 L132.30,602.50" fill="none" stroke="#1a1a1a" stroke-width="2.1" stroke-linejoin="round"/>
<path d="M99.5,608.5 L104.5,608.5 L105.5,625.5 L100,625.5 Z" fill="#e9eff9" opacity="0.55"/>
<path d="M129.3,601.5 L133.8,601.5 L133.3,618.5 L128.3,618.5 Z" fill="#e9eff9" opacity="0.55"/>
<line x1="89.5" y1="573.6" x2="147.5" y2="538.3" stroke="#d49ad4" stroke-width="4.6"/>
<line x1="88.67" y1="572.23" x2="146.67" y2="536.93" stroke="#a85aa8" stroke-width="0.5"/>
<line x1="89.21" y1="573.13" x2="147.21" y2="537.83" stroke="#a85aa8" stroke-width="0.5"/>
<line x1="89.79" y1="574.07" x2="147.79" y2="538.77" stroke="#a85aa8" stroke-width="0.5"/>
<line x1="90.33" y1="574.97" x2="148.33" y2="539.67" stroke="#a85aa8" stroke-width="0.5"/>
<line x1="89.5" y1="573.6" x2="147.5" y2="605.6" stroke="#d49ad4" stroke-width="4.6"/>
<line x1="90.27" y1="572.20" x2="148.27" y2="604.20" stroke="#a85aa8" stroke-width="0.5"/>
<line x1="89.77" y1="573.12" x2="147.77" y2="605.12" stroke="#a85aa8" stroke-width="0.5"/>
<line x1="89.23" y1="574.08" x2="147.23" y2="606.08" stroke="#a85aa8" stroke-width="0.5"/>
<line x1="88.73" y1="575.00" x2="146.73" y2="607.00" stroke="#a85aa8" stroke-width="0.5"/>
<line x1="89.5" y1="640.6" x2="147.5" y2="605.6" stroke="#d49ad4" stroke-width="4.6"/>
<line x1="88.67" y1="639.23" x2="146.67" y2="604.23" stroke="#a85aa8" stroke-width="0.5"/>
<line x1="89.22" y1="640.13" x2="147.22" y2="605.13" stroke="#a85aa8" stroke-width="0.5"/>
<line x1="89.78" y1="641.07" x2="147.78" y2="606.07" stroke="#a85aa8" stroke-width="0.5"/>
<line x1="90.33" y1="641.97" x2="148.33" y2="606.97" stroke="#a85aa8" stroke-width="0.5"/>
<line x1="89.5" y1="640.6" x2="147.5" y2="673.0" stroke="#d49ad4" stroke-width="4.6"/>
<line x1="90.28" y1="639.20" x2="148.28" y2="671.60" stroke="#a85aa8" stroke-width="0.5"/>
<line x1="89.77" y1="640.12" x2="147.77" y2="672.52" stroke="#a85aa8" stroke-width="0.5"/>
<line x1="89.23" y1="641.08" x2="147.23" y2="673.48" stroke="#a85aa8" stroke-width="0.5"/>
<line x1="88.72" y1="642.00" x2="146.72" y2="674.40" stroke="#a85aa8" stroke-width="0.5"/>
<line x1="89.50" y1="574.20" x2="557.00" y2="574.20" stroke="#a82424" stroke-width="1.3"/>
<line x1="89.50" y1="640.80" x2="557.00" y2="640.80" stroke="#a82424" stroke-width="1.3"/>
<path d="M11.5,569.7 L13.1,570.4 L14.7,571.3 L16.3,570.6 L17.9,569.8 L19.4,569.2 L21.0,568.8 L22.6,568.5 L24.2,568.3 L25.8,568.3 L27.4,568.4 L29.0,568.6 L30.6,569.1 L32.1,569.6 L33.7,570.3 L35.3,571.2 L36.9,570.7 L38.5,569.9 L40.1,569.3 L41.7,568.8 L43.3,568.5 L44.8,568.3 L46.4,568.3 L48.0,568.4 L49.6,568.6 L51.2,569.0 L52.8,569.5 L54.4,570.2 L56.0,571.1 L57.5,570.8 L59.1,570.0 L60.7,569.4 L62.3,568.9 L63.9,568.5 L65.5,568.3 L67.1,568.3 L68.7,568.3 L70.2,568.6 L71.8,569.0 L73.4,569.5 L75.0,570.1 L76.6,571.0 L78.2,570.9 L79.8,570.0 L81.4,569.4 L82.9,568.9 L84.5,568.5 L86.1,568.3 L87.7,568.3 L89.3,568.3 L89.3,579.3 L87.7,579.3 L86.1,579.3 L84.5,579.1 L82.9,578.7 L81.4,578.2 L79.8,577.6 L78.2,576.7 L76.6,576.6 L75.0,577.5 L73.4,578.1 L71.8,578.6 L70.2,579.0 L68.7,579.3 L67.1,579.3 L65.5,579.3 L63.9,579.1 L62.3,578.7 L60.7,578.2 L59.1,577.6 L57.5,576.8 L56.0,576.5 L54.4,577.4 L52.8,578.1 L51.2,578.6 L49.6,579.0 L48.0,579.2 L46.4,579.3 L44.8,579.3 L43.3,579.1 L41.7,578.8 L40.1,578.3 L38.5,577.7 L36.9,576.9 L35.3,576.4 L33.7,577.3 L32.1,578.0 L30.6,578.5 L29.0,579.0 L27.4,579.2 L25.8,579.3 L24.2,579.3 L22.6,579.1 L21.0,578.8 L19.4,578.4 L17.9,577.8 L16.3,577.0 L14.7,576.3 L13.1,577.2 L11.5,577.9 Z" fill="#8ecbf6"/>
<path d="M11.5,573.1 L13.1,572.8 L14.7,572.7 L16.3,572.0 L17.9,571.1 L19.4,570.2 L21.0,569.3 L22.6,568.7 L24.2,568.3 L25.8,568.3 L27.4,568.5 L29.0,569.1 L30.6,569.8 L32.1,570.7 L33.7,571.6 L35.3,572.5 L36.9,572.7 L38.5,572.9 L40.1,573.3 L41.7,573.7 L43.3,574.1 L44.8,574.3 L46.4,574.4 L48.0,574.2 L49.6,573.9 L51.2,573.5 L52.8,573.1 L54.4,572.8 L56.0,572.7 L57.5,572.2 L59.1,571.3 L60.7,570.3 L62.3,569.5 L63.9,568.8 L65.5,568.4 L67.1,568.3 L68.7,568.4 L70.2,568.9 L71.8,569.7 L73.4,570.5 L75.0,571.5 L76.6,572.4 L78.2,572.7 L79.8,572.9 L81.4,573.2 L82.9,573.6 L84.5,574.0 L86.1,574.3 L87.7,574.4 L89.3,574.3 L89.3,579.2 L87.7,579.3 L86.1,579.2 L84.5,578.7 L82.9,578.0 L81.4,577.2 L79.8,576.2 L78.2,575.3 L76.6,574.9 L75.0,574.8 L73.4,574.4 L71.8,574.0 L70.2,573.6 L68.7,573.4 L67.1,573.2 L65.5,573.3 L63.9,573.6 L62.3,573.9 L60.7,574.3 L59.1,574.7 L57.5,574.9 L56.0,575.2 L54.4,576.0 L52.8,577.0 L51.2,577.9 L49.6,578.6 L48.0,579.1 L46.4,579.3 L44.8,579.2 L43.3,578.8 L41.7,578.2 L40.1,577.3 L38.5,576.4 L36.9,575.5 L35.3,574.9 L33.7,574.8 L32.1,574.5 L30.6,574.1 L29.0,573.7 L27.4,573.4 L25.8,573.3 L24.2,573.3 L22.6,573.5 L21.0,573.9 L19.4,574.3 L17.9,574.6 L16.3,574.9 L14.7,575.0 L13.1,575.9 L11.5,576.8 Z" fill="#3f8fe4"/>
<path d="M11.5,569.7 L13.1,570.4 L14.7,571.3 L16.3,570.6 L17.9,569.8 L19.4,569.2 L21.0,568.8 L22.6,568.5 L24.2,568.3 L25.8,568.3 L27.4,568.4 L29.0,568.6 L30.6,569.1 L32.1,569.6 L33.7,570.3 L35.3,571.2 L36.9,570.7 L38.5,569.9 L40.1,569.3 L41.7,568.8 L43.3,568.5 L44.8,568.3 L46.4,568.3 L48.0,568.4 L49.6,568.6 L51.2,569.0 L52.8,569.5 L54.4,570.2 L56.0,571.1 L57.5,570.8 L59.1,570.0 L60.7,569.4 L62.3,568.9 L63.9,568.5 L65.5,568.3 L67.1,568.3 L68.7,568.3 L70.2,568.6 L71.8,569.0 L73.4,569.5 L75.0,570.1 L76.6,571.0 L78.2,570.9 L79.8,570.0 L81.4,569.4 L82.9,568.9 L84.5,568.5 L86.1,568.3 L87.7,568.3 L89.3,568.3 L89.3,579.3 L87.7,579.3 L86.1,579.3 L84.5,579.1 L82.9,578.7 L81.4,578.2 L79.8,577.6 L78.2,576.7 L76.6,576.6 L75.0,577.5 L73.4,578.1 L71.8,578.6 L70.2,579.0 L68.7,579.3 L67.1,579.3 L65.5,579.3 L63.9,579.1 L62.3,578.7 L60.7,578.2 L59.1,577.6 L57.5,576.8 L56.0,576.5 L54.4,577.4 L52.8,578.1 L51.2,578.6 L49.6,579.0 L48.0,579.2 L46.4,579.3 L44.8,579.3 L43.3,579.1 L41.7,578.8 L40.1,578.3 L38.5,577.7 L36.9,576.9 L35.3,576.4 L33.7,577.3 L32.1,578.0 L30.6,578.5 L29.0,579.0 L27.4,579.2 L25.8,579.3 L24.2,579.3 L22.6,579.1 L21.0,578.8 L19.4,578.4 L17.9,577.8 L16.3,577.0 L14.7,576.3 L13.1,577.2 L11.5,577.9 Z" fill="none" stroke="#22499e" stroke-width="1.0"/>
<path d="M11.5,573.5 L13.1,573.6 L14.7,573.8 L16.3,573.9 L17.9,574.1 L19.4,574.2 L21.0,574.3 L22.6,574.4 L24.2,574.4 L25.8,574.4 L27.4,574.4 L29.0,574.3 L30.6,574.2 L32.1,574.1 L33.7,574.0 L35.3,573.8 L36.9,573.7 L38.5,573.6 L40.1,573.4 L41.7,573.3 L43.3,573.3 L44.8,573.2 L46.4,573.2 L48.0,573.2 L49.6,573.3 L51.2,573.4 L52.8,573.5 L54.4,573.6 L56.0,573.8 L57.5,573.9 L59.1,574.0 L60.7,574.2 L62.3,574.3 L63.9,574.3 L65.5,574.4 L67.1,574.4 L68.7,574.4 L70.2,574.3 L71.8,574.2 L73.4,574.1 L75.0,574.0 L76.6,573.9 L78.2,573.7 L79.8,573.6 L81.4,573.5 L82.9,573.3 L84.5,573.3 L86.1,573.2 L87.7,573.2 L89.3,573.2" fill="none" stroke="#f2aa30" stroke-width="1.4"/>
<path d="M89.60,567.80 Q87.30,570.30 85.30,570.20 L85.30,577.40 Q87.30,577.30 89.60,579.80 Z" fill="#5aa6ee" stroke="#2a5cb4" stroke-width="0.7"/>
<line x1="85.30" y1="574.20" x2="89.30" y2="574.20" stroke="#f0aa36" stroke-width="1.15"/>
<path d="M11.5,636.5 L13.1,637.2 L14.7,638.1 L16.3,637.4 L17.9,636.6 L19.4,636.0 L21.0,635.6 L22.6,635.3 L24.2,635.1 L25.8,635.1 L27.4,635.2 L29.0,635.4 L30.6,635.9 L32.1,636.4 L33.7,637.1 L35.3,638.0 L36.9,637.5 L38.5,636.7 L40.1,636.1 L41.7,635.6 L43.3,635.3 L44.8,635.1 L46.4,635.1 L48.0,635.2 L49.6,635.4 L51.2,635.8 L52.8,636.3 L54.4,637.0 L56.0,637.9 L57.5,637.6 L59.1,636.8 L60.7,636.2 L62.3,635.7 L63.9,635.3 L65.5,635.1 L67.1,635.1 L68.7,635.1 L70.2,635.4 L71.8,635.8 L73.4,636.3 L75.0,636.9 L76.6,637.8 L78.2,637.7 L79.8,636.8 L81.4,636.2 L82.9,635.7 L84.5,635.3 L86.1,635.1 L87.7,635.1 L89.3,635.1 L89.3,646.1 L87.7,646.1 L86.1,646.1 L84.5,645.9 L82.9,645.5 L81.4,645.0 L79.8,644.4 L78.2,643.5 L76.6,643.4 L75.0,644.3 L73.4,644.9 L71.8,645.4 L70.2,645.8 L68.7,646.1 L67.1,646.1 L65.5,646.1 L63.9,645.9 L62.3,645.5 L60.7,645.0 L59.1,644.4 L57.5,643.6 L56.0,643.3 L54.4,644.2 L52.8,644.9 L51.2,645.4 L49.6,645.8 L48.0,646.0 L46.4,646.1 L44.8,646.1 L43.3,645.9 L41.7,645.6 L40.1,645.1 L38.5,644.5 L36.9,643.7 L35.3,643.2 L33.7,644.1 L32.1,644.8 L30.6,645.3 L29.0,645.8 L27.4,646.0 L25.8,646.1 L24.2,646.1 L22.6,645.9 L21.0,645.6 L19.4,645.2 L17.9,644.6 L16.3,643.8 L14.7,643.1 L13.1,644.0 L11.5,644.7 Z" fill="#8ecbf6"/>
<path d="M11.5,639.9 L13.1,639.6 L14.7,639.5 L16.3,638.8 L17.9,637.9 L19.4,637.0 L21.0,636.1 L22.6,635.5 L24.2,635.1 L25.8,635.1 L27.4,635.3 L29.0,635.9 L30.6,636.6 L32.1,637.5 L33.7,638.4 L35.3,639.3 L36.9,639.5 L38.5,639.7 L40.1,640.1 L41.7,640.5 L43.3,640.9 L44.8,641.1 L46.4,641.2 L48.0,641.0 L49.6,640.7 L51.2,640.3 L52.8,639.9 L54.4,639.6 L56.0,639.5 L57.5,639.0 L59.1,638.1 L60.7,637.1 L62.3,636.3 L63.9,635.6 L65.5,635.2 L67.1,635.1 L68.7,635.2 L70.2,635.7 L71.8,636.5 L73.4,637.3 L75.0,638.3 L76.6,639.2 L78.2,639.5 L79.8,639.7 L81.4,640.0 L82.9,640.4 L84.5,640.8 L86.1,641.1 L87.7,641.2 L89.3,641.1 L89.3,646.0 L87.7,646.1 L86.1,646.0 L84.5,645.5 L82.9,644.8 L81.4,644.0 L79.8,643.0 L78.2,642.1 L76.6,641.7 L75.0,641.6 L73.4,641.2 L71.8,640.8 L70.2,640.4 L68.7,640.2 L67.1,640.0 L65.5,640.1 L63.9,640.4 L62.3,640.7 L60.7,641.1 L59.1,641.5 L57.5,641.7 L56.0,642.0 L54.4,642.8 L52.8,643.8 L51.2,644.7 L49.6,645.4 L48.0,645.9 L46.4,646.1 L44.8,646.0 L43.3,645.6 L41.7,645.0 L40.1,644.1 L38.5,643.2 L36.9,642.3 L35.3,641.7 L33.7,641.6 L32.1,641.3 L30.6,640.9 L29.0,640.5 L27.4,640.2 L25.8,640.1 L24.2,640.1 L22.6,640.3 L21.0,640.7 L19.4,641.1 L17.9,641.4 L16.3,641.7 L14.7,641.8 L13.1,642.7 L11.5,643.6 Z" fill="#3f8fe4"/>
<path d="M11.5,636.5 L13.1,637.2 L14.7,638.1 L16.3,637.4 L17.9,636.6 L19.4,636.0 L21.0,635.6 L22.6,635.3 L24.2,635.1 L25.8,635.1 L27.4,635.2 L29.0,635.4 L30.6,635.9 L32.1,636.4 L33.7,637.1 L35.3,638.0 L36.9,637.5 L38.5,636.7 L40.1,636.1 L41.7,635.6 L43.3,635.3 L44.8,635.1 L46.4,635.1 L48.0,635.2 L49.6,635.4 L51.2,635.8 L52.8,636.3 L54.4,637.0 L56.0,637.9 L57.5,637.6 L59.1,636.8 L60.7,636.2 L62.3,635.7 L63.9,635.3 L65.5,635.1 L67.1,635.1 L68.7,635.1 L70.2,635.4 L71.8,635.8 L73.4,636.3 L75.0,636.9 L76.6,637.8 L78.2,637.7 L79.8,636.8 L81.4,636.2 L82.9,635.7 L84.5,635.3 L86.1,635.1 L87.7,635.1 L89.3,635.1 L89.3,646.1 L87.7,646.1 L86.1,646.1 L84.5,645.9 L82.9,645.5 L81.4,645.0 L79.8,644.4 L78.2,643.5 L76.6,643.4 L75.0,644.3 L73.4,644.9 L71.8,645.4 L70.2,645.8 L68.7,646.1 L67.1,646.1 L65.5,646.1 L63.9,645.9 L62.3,645.5 L60.7,645.0 L59.1,644.4 L57.5,643.6 L56.0,643.3 L54.4,644.2 L52.8,644.9 L51.2,645.4 L49.6,645.8 L48.0,646.0 L46.4,646.1 L44.8,646.1 L43.3,645.9 L41.7,645.6 L40.1,645.1 L38.5,644.5 L36.9,643.7 L35.3,643.2 L33.7,644.1 L32.1,644.8 L30.6,645.3 L29.0,645.8 L27.4,646.0 L25.8,646.1 L24.2,646.1 L22.6,645.9 L21.0,645.6 L19.4,645.2 L17.9,644.6 L16.3,643.8 L14.7,643.1 L13.1,644.0 L11.5,644.7 Z" fill="none" stroke="#22499e" stroke-width="1.0"/>
<path d="M11.5,640.3 L13.1,640.4 L14.7,640.6 L16.3,640.7 L17.9,640.9 L19.4,641.0 L21.0,641.1 L22.6,641.2 L24.2,641.2 L25.8,641.2 L27.4,641.2 L29.0,641.1 L30.6,641.0 L32.1,640.9 L33.7,640.8 L35.3,640.6 L36.9,640.5 L38.5,640.4 L40.1,640.2 L41.7,640.1 L43.3,640.1 L44.8,640.0 L46.4,640.0 L48.0,640.0 L49.6,640.1 L51.2,640.2 L52.8,640.3 L54.4,640.4 L56.0,640.6 L57.5,640.7 L59.1,640.8 L60.7,641.0 L62.3,641.1 L63.9,641.1 L65.5,641.2 L67.1,641.2 L68.7,641.2 L70.2,641.1 L71.8,641.0 L73.4,640.9 L75.0,640.8 L76.6,640.7 L78.2,640.5 L79.8,640.4 L81.4,640.3 L82.9,640.1 L84.5,640.1 L86.1,640.0 L87.7,640.0 L89.3,640.0" fill="none" stroke="#f2aa30" stroke-width="1.4"/>
<path d="M89.60,634.60 Q87.30,637.10 85.30,637.00 L85.30,644.20 Q87.30,644.10 89.60,646.60 Z" fill="#5aa6ee" stroke="#2a5cb4" stroke-width="0.7"/>
<line x1="85.30" y1="641.00" x2="89.30" y2="641.00" stroke="#f0aa36" stroke-width="1.15"/>
<path d="M146.5,533.2 L148.1,533.1 L149.7,533.1 L151.3,533.3 L152.9,533.6 L154.5,534.1 L156.1,534.7 L157.7,535.4 L159.3,536.0 L160.9,535.1 L162.5,534.4 L164.1,533.9 L165.7,533.5 L167.3,533.2 L168.9,533.1 L170.5,533.1 L172.1,533.3 L173.7,533.6 L175.3,534.0 L176.9,534.6 L178.4,535.4 L180.0,536.1 L181.6,535.1 L183.2,534.4 L184.8,533.9 L186.4,533.5 L188.0,533.2 L189.6,533.1 L191.2,533.1 L192.8,533.3 L194.4,533.6 L196.0,534.0 L197.6,534.6 L199.2,535.4 L200.8,536.1 L202.4,535.2 L204.0,534.5 L205.6,533.9 L207.2,533.5 L208.8,533.2 L210.4,533.1 L212.0,533.1 L213.6,533.2 L215.2,533.6 L216.8,534.0 L218.4,534.6 L220.0,535.4 L221.6,536.1 L223.2,535.2 L224.8,534.5 L226.4,533.9 L228.0,533.5 L229.6,533.2 L231.2,533.1 L232.8,533.1 L234.4,533.2 L236.0,533.6 L237.6,534.0 L239.2,534.6 L240.8,535.3 L242.3,536.1 L243.9,535.2 L245.5,534.5 L247.1,533.9 L248.7,533.5 L250.3,533.2 L251.9,533.1 L253.5,533.1 L255.1,533.2 L256.7,533.5 L258.3,534.0 L259.9,534.6 L261.5,535.3 L263.1,536.2 L264.7,535.2 L266.3,534.5 L267.9,533.9 L269.5,533.5 L271.1,533.2 L272.7,533.1 L274.3,533.1 L275.9,533.2 L277.5,533.5 L279.1,534.0 L280.7,534.6 L282.3,535.3 L283.9,536.2 L285.5,535.2 L287.1,534.5 L288.7,533.9 L290.3,533.5 L291.9,533.2 L293.5,533.1 L295.1,533.1 L296.7,533.2 L298.3,533.5 L299.9,534.0 L301.5,534.6 L303.1,535.3 L304.7,536.2 L306.2,535.2 L307.8,534.5 L309.4,533.9 L311.0,533.5 L312.6,533.2 L314.2,533.1 L315.8,533.1 L317.4,533.2 L319.0,533.5 L320.6,534.0 L322.2,534.5 L323.8,535.3 L325.4,536.3 L327.0,535.3 L328.6,534.5 L330.2,534.0 L331.8,533.5 L333.4,533.2 L335.0,533.1 L336.6,533.1 L338.2,533.2 L339.8,533.5 L341.4,534.0 L343.0,534.5 L344.6,535.3 L346.2,536.3 L347.8,535.3 L349.4,534.5 L351.0,534.0 L352.6,533.5 L354.2,533.2 L355.8,533.1 L357.4,533.1 L359.0,533.2 L360.6,533.5 L362.2,533.9 L363.8,534.5 L365.4,535.2 L367.0,536.2 L368.6,535.3 L370.1,534.6 L371.7,534.0 L373.3,533.5 L374.9,533.2 L376.5,533.1 L378.1,533.1 L379.7,533.2 L381.3,533.5 L382.9,533.9 L384.5,534.5 L386.1,535.2 L387.7,536.2 L389.3,535.3 L390.9,534.6 L392.5,534.0 L394.1,533.5 L395.7,533.2 L397.3,533.1 L398.9,533.1 L400.5,533.2 L400.5,544.0 L398.9,544.1 L397.3,544.1 L395.7,544.0 L394.1,543.7 L392.5,543.2 L390.9,542.6 L389.3,541.9 L387.7,541.0 L386.1,542.0 L384.5,542.7 L382.9,543.3 L381.3,543.7 L379.7,544.0 L378.1,544.1 L376.5,544.1 L374.9,544.0 L373.3,543.7 L371.7,543.2 L370.1,542.6 L368.6,541.9 L367.0,541.0 L365.4,542.0 L363.8,542.7 L362.2,543.3 L360.6,543.7 L359.0,544.0 L357.4,544.1 L355.8,544.1 L354.2,544.0 L352.6,543.7 L351.0,543.2 L349.4,542.7 L347.8,541.9 L346.2,540.9 L344.6,541.9 L343.0,542.7 L341.4,543.2 L339.8,543.7 L338.2,544.0 L336.6,544.1 L335.0,544.1 L333.4,544.0 L331.8,543.7 L330.2,543.2 L328.6,542.7 L327.0,541.9 L325.4,540.9 L323.8,541.9 L322.2,542.7 L320.6,543.2 L319.0,543.7 L317.4,544.0 L315.8,544.1 L314.2,544.1 L312.6,544.0 L311.0,543.7 L309.4,543.3 L307.8,542.7 L306.2,542.0 L304.7,541.0 L303.1,541.9 L301.5,542.6 L299.9,543.2 L298.3,543.7 L296.7,544.0 L295.1,544.1 L293.5,544.1 L291.9,544.0 L290.3,543.7 L288.7,543.3 L287.1,542.7 L285.5,542.0 L283.9,541.0 L282.3,541.9 L280.7,542.6 L279.1,543.2 L277.5,543.7 L275.9,544.0 L274.3,544.1 L272.7,544.1 L271.1,544.0 L269.5,543.7 L267.9,543.3 L266.3,542.7 L264.7,542.0 L263.1,541.0 L261.5,541.9 L259.9,542.6 L258.3,543.2 L256.7,543.7 L255.1,544.0 L253.5,544.1 L251.9,544.1 L250.3,544.0 L248.7,543.7 L247.1,543.3 L245.5,542.7 L243.9,542.0 L242.3,541.1 L240.8,541.9 L239.2,542.6 L237.6,543.2 L236.0,543.6 L234.4,544.0 L232.8,544.1 L231.2,544.1 L229.6,544.0 L228.0,543.7 L226.4,543.3 L224.8,542.7 L223.2,542.0 L221.6,541.1 L220.0,541.8 L218.4,542.6 L216.8,543.2 L215.2,543.6 L213.6,544.0 L212.0,544.1 L210.4,544.1 L208.8,544.0 L207.2,543.7 L205.6,543.3 L204.0,542.7 L202.4,542.0 L200.8,541.1 L199.2,541.8 L197.6,542.6 L196.0,543.2 L194.4,543.6 L192.8,543.9 L191.2,544.1 L189.6,544.1 L188.0,544.0 L186.4,543.7 L184.8,543.3 L183.2,542.8 L181.6,542.1 L180.0,541.1 L178.4,541.8 L176.9,542.6 L175.3,543.2 L173.7,543.6 L172.1,543.9 L170.5,544.1 L168.9,544.1 L167.3,544.0 L165.7,543.7 L164.1,543.3 L162.5,542.8 L160.9,542.1 L159.3,541.2 L157.7,541.8 L156.1,542.5 L154.5,543.1 L152.9,543.6 L151.3,543.9 L149.7,544.1 L148.1,544.1 L146.5,544.0 Z" fill="#8ecbf6"/>
<path d="M146.5,539.0 L148.1,539.1 L149.7,539.1 L151.3,538.9 L152.9,538.5 L154.5,538.1 L156.1,537.7 L157.7,537.5 L159.3,537.4 L160.9,536.5 L162.5,535.6 L164.1,534.7 L165.7,533.9 L167.3,533.3 L168.9,533.1 L170.5,533.1 L172.1,533.5 L173.7,534.1 L175.3,535.0 L176.9,535.9 L178.4,536.8 L180.0,537.5 L181.6,537.6 L183.2,537.9 L184.8,538.3 L186.4,538.7 L188.0,539.0 L189.6,539.1 L191.2,539.1 L192.8,538.9 L194.4,538.6 L196.0,538.1 L197.6,537.8 L199.2,537.5 L200.8,537.4 L202.4,536.5 L204.0,535.6 L205.6,534.7 L207.2,533.9 L208.8,533.4 L210.4,533.1 L212.0,533.1 L213.6,533.5 L215.2,534.1 L216.8,534.9 L218.4,535.8 L220.0,536.8 L221.6,537.5 L223.2,537.6 L224.8,537.9 L226.4,538.2 L228.0,538.7 L229.6,539.0 L231.2,539.1 L232.8,539.1 L234.4,538.9 L236.0,538.6 L237.6,538.2 L239.2,537.8 L240.8,537.5 L242.3,537.5 L243.9,536.6 L245.5,535.7 L247.1,534.7 L248.7,534.0 L250.3,533.4 L251.9,533.1 L253.5,533.1 L255.1,533.5 L256.7,534.1 L258.3,534.9 L259.9,535.8 L261.5,536.7 L263.1,537.5 L264.7,537.6 L266.3,537.8 L267.9,538.2 L269.5,538.6 L271.1,539.0 L272.7,539.1 L274.3,539.1 L275.9,538.9 L277.5,538.6 L279.1,538.2 L280.7,537.8 L282.3,537.5 L283.9,537.5 L285.5,536.6 L287.1,535.7 L288.7,534.8 L290.3,534.0 L291.9,533.4 L293.5,533.1 L295.1,533.1 L296.7,533.4 L298.3,534.0 L299.9,534.9 L301.5,535.8 L303.1,536.7 L304.7,537.5 L306.2,537.5 L307.8,537.8 L309.4,538.2 L311.0,538.6 L312.6,539.0 L314.2,539.1 L315.8,539.1 L317.4,538.9 L319.0,538.6 L320.6,538.2 L322.2,537.8 L323.8,537.5 L325.4,537.5 L327.0,536.7 L328.6,535.7 L330.2,534.8 L331.8,534.0 L333.4,533.4 L335.0,533.1 L336.6,533.1 L338.2,533.4 L339.8,534.0 L341.4,534.8 L343.0,535.7 L344.6,536.7 L346.2,537.6 L347.8,537.5 L349.4,537.8 L351.0,538.2 L352.6,538.6 L354.2,538.9 L355.8,539.1 L357.4,539.1 L359.0,539.0 L360.6,538.6 L362.2,538.2 L363.8,537.8 L365.4,537.5 L367.0,537.5 L368.6,536.7 L370.1,535.8 L371.7,534.9 L373.3,534.0 L374.9,533.4 L376.5,533.1 L378.1,533.1 L379.7,533.4 L381.3,534.0 L382.9,534.8 L384.5,535.7 L386.1,536.6 L387.7,537.5 L389.3,537.5 L390.9,537.8 L392.5,538.2 L394.1,538.6 L395.7,538.9 L397.3,539.1 L398.9,539.1 L400.5,539.0 L400.5,543.8 L398.9,544.1 L397.3,544.1 L395.7,543.8 L394.1,543.1 L392.5,542.3 L390.9,541.4 L389.3,540.5 L387.7,539.7 L386.1,539.7 L384.5,539.4 L382.9,539.0 L381.3,538.6 L379.7,538.2 L378.1,538.1 L376.5,538.1 L374.9,538.3 L373.3,538.6 L371.7,539.0 L370.1,539.4 L368.6,539.7 L367.0,539.7 L365.4,540.6 L363.8,541.5 L362.2,542.4 L360.6,543.2 L359.0,543.8 L357.4,544.1 L355.8,544.1 L354.2,543.8 L352.6,543.2 L351.0,542.4 L349.4,541.5 L347.8,540.5 L346.2,539.6 L344.6,539.7 L343.0,539.4 L341.4,539.0 L339.8,538.6 L338.2,538.3 L336.6,538.1 L335.0,538.1 L333.4,538.3 L331.8,538.6 L330.2,539.0 L328.6,539.4 L327.0,539.7 L325.4,539.6 L323.8,540.5 L322.2,541.5 L320.6,542.4 L319.0,543.2 L317.4,543.8 L315.8,544.1 L314.2,544.1 L312.6,543.8 L311.0,543.2 L309.4,542.4 L307.8,541.5 L306.2,540.6 L304.7,539.7 L303.1,539.7 L301.5,539.4 L299.9,539.0 L298.3,538.6 L296.7,538.3 L295.1,538.1 L293.5,538.1 L291.9,538.2 L290.3,538.6 L288.7,539.0 L287.1,539.4 L285.5,539.7 L283.9,539.7 L282.3,540.5 L280.7,541.4 L279.1,542.3 L277.5,543.1 L275.9,543.8 L274.3,544.1 L272.7,544.1 L271.1,543.8 L269.5,543.2 L267.9,542.4 L266.3,541.5 L264.7,540.6 L263.1,539.7 L261.5,539.7 L259.9,539.4 L258.3,539.0 L256.7,538.6 L255.1,538.3 L253.5,538.1 L251.9,538.1 L250.3,538.2 L248.7,538.6 L247.1,539.0 L245.5,539.4 L243.9,539.6 L242.3,539.7 L240.8,540.5 L239.2,541.4 L237.6,542.3 L236.0,543.1 L234.4,543.7 L232.8,544.1 L231.2,544.1 L229.6,543.8 L228.0,543.3 L226.4,542.5 L224.8,541.6 L223.2,540.6 L221.6,539.8 L220.0,539.7 L218.4,539.4 L216.8,539.0 L215.2,538.6 L213.6,538.3 L212.0,538.1 L210.4,538.1 L208.8,538.2 L207.2,538.5 L205.6,538.9 L204.0,539.3 L202.4,539.6 L200.8,539.7 L199.2,540.4 L197.6,541.3 L196.0,542.3 L194.4,543.1 L192.8,543.7 L191.2,544.1 L189.6,544.1 L188.0,543.9 L186.4,543.3 L184.8,542.5 L183.2,541.6 L181.6,540.7 L180.0,539.8 L178.4,539.7 L176.9,539.4 L175.3,539.1 L173.7,538.6 L172.1,538.3 L170.5,538.1 L168.9,538.1 L167.3,538.2 L165.7,538.5 L164.1,538.9 L162.5,539.3 L160.9,539.6 L159.3,539.7 L157.7,540.4 L156.1,541.3 L154.5,542.2 L152.9,543.1 L151.3,543.7 L149.7,544.1 L148.1,544.1 L146.5,543.9 Z" fill="#3f8fe4"/>
<path d="M146.5,533.2 L148.1,533.1 L149.7,533.1 L151.3,533.3 L152.9,533.6 L154.5,534.1 L156.1,534.7 L157.7,535.4 L159.3,536.0 L160.9,535.1 L162.5,534.4 L164.1,533.9 L165.7,533.5 L167.3,533.2 L168.9,533.1 L170.5,533.1 L172.1,533.3 L173.7,533.6 L175.3,534.0 L176.9,534.6 L178.4,535.4 L180.0,536.1 L181.6,535.1 L183.2,534.4 L184.8,533.9 L186.4,533.5 L188.0,533.2 L189.6,533.1 L191.2,533.1 L192.8,533.3 L194.4,533.6 L196.0,534.0 L197.6,534.6 L199.2,535.4 L200.8,536.1 L202.4,535.2 L204.0,534.5 L205.6,533.9 L207.2,533.5 L208.8,533.2 L210.4,533.1 L212.0,533.1 L213.6,533.2 L215.2,533.6 L216.8,534.0 L218.4,534.6 L220.0,535.4 L221.6,536.1 L223.2,535.2 L224.8,534.5 L226.4,533.9 L228.0,533.5 L229.6,533.2 L231.2,533.1 L232.8,533.1 L234.4,533.2 L236.0,533.6 L237.6,534.0 L239.2,534.6 L240.8,535.3 L242.3,536.1 L243.9,535.2 L245.5,534.5 L247.1,533.9 L248.7,533.5 L250.3,533.2 L251.9,533.1 L253.5,533.1 L255.1,533.2 L256.7,533.5 L258.3,534.0 L259.9,534.6 L261.5,535.3 L263.1,536.2 L264.7,535.2 L266.3,534.5 L267.9,533.9 L269.5,533.5 L271.1,533.2 L272.7,533.1 L274.3,533.1 L275.9,533.2 L277.5,533.5 L279.1,534.0 L280.7,534.6 L282.3,535.3 L283.9,536.2 L285.5,535.2 L287.1,534.5 L288.7,533.9 L290.3,533.5 L291.9,533.2 L293.5,533.1 L295.1,533.1 L296.7,533.2 L298.3,533.5 L299.9,534.0 L301.5,534.6 L303.1,535.3 L304.7,536.2 L306.2,535.2 L307.8,534.5 L309.4,533.9 L311.0,533.5 L312.6,533.2 L314.2,533.1 L315.8,533.1 L317.4,533.2 L319.0,533.5 L320.6,534.0 L322.2,534.5 L323.8,535.3 L325.4,536.3 L327.0,535.3 L328.6,534.5 L330.2,534.0 L331.8,533.5 L333.4,533.2 L335.0,533.1 L336.6,533.1 L338.2,533.2 L339.8,533.5 L341.4,534.0 L343.0,534.5 L344.6,535.3 L346.2,536.3 L347.8,535.3 L349.4,534.5 L351.0,534.0 L352.6,533.5 L354.2,533.2 L355.8,533.1 L357.4,533.1 L359.0,533.2 L360.6,533.5 L362.2,533.9 L363.8,534.5 L365.4,535.2 L367.0,536.2 L368.6,535.3 L370.1,534.6 L371.7,534.0 L373.3,533.5 L374.9,533.2 L376.5,533.1 L378.1,533.1 L379.7,533.2 L381.3,533.5 L382.9,533.9 L384.5,534.5 L386.1,535.2 L387.7,536.2 L389.3,535.3 L390.9,534.6 L392.5,534.0 L394.1,533.5 L395.7,533.2 L397.3,533.1 L398.9,533.1 L400.5,533.2 L400.5,544.0 L398.9,544.1 L397.3,544.1 L395.7,544.0 L394.1,543.7 L392.5,543.2 L390.9,542.6 L389.3,541.9 L387.7,541.0 L386.1,542.0 L384.5,542.7 L382.9,543.3 L381.3,543.7 L379.7,544.0 L378.1,544.1 L376.5,544.1 L374.9,544.0 L373.3,543.7 L371.7,543.2 L370.1,542.6 L368.6,541.9 L367.0,541.0 L365.4,542.0 L363.8,542.7 L362.2,543.3 L360.6,543.7 L359.0,544.0 L357.4,544.1 L355.8,544.1 L354.2,544.0 L352.6,543.7 L351.0,543.2 L349.4,542.7 L347.8,541.9 L346.2,540.9 L344.6,541.9 L343.0,542.7 L341.4,543.2 L339.8,543.7 L338.2,544.0 L336.6,544.1 L335.0,544.1 L333.4,544.0 L331.8,543.7 L330.2,543.2 L328.6,542.7 L327.0,541.9 L325.4,540.9 L323.8,541.9 L322.2,542.7 L320.6,543.2 L319.0,543.7 L317.4,544.0 L315.8,544.1 L314.2,544.1 L312.6,544.0 L311.0,543.7 L309.4,543.3 L307.8,542.7 L306.2,542.0 L304.7,541.0 L303.1,541.9 L301.5,542.6 L299.9,543.2 L298.3,543.7 L296.7,544.0 L295.1,544.1 L293.5,544.1 L291.9,544.0 L290.3,543.7 L288.7,543.3 L287.1,542.7 L285.5,542.0 L283.9,541.0 L282.3,541.9 L280.7,542.6 L279.1,543.2 L277.5,543.7 L275.9,544.0 L274.3,544.1 L272.7,544.1 L271.1,544.0 L269.5,543.7 L267.9,543.3 L266.3,542.7 L264.7,542.0 L263.1,541.0 L261.5,541.9 L259.9,542.6 L258.3,543.2 L256.7,543.7 L255.1,544.0 L253.5,544.1 L251.9,544.1 L250.3,544.0 L248.7,543.7 L247.1,543.3 L245.5,542.7 L243.9,542.0 L242.3,541.1 L240.8,541.9 L239.2,542.6 L237.6,543.2 L236.0,543.6 L234.4,544.0 L232.8,544.1 L231.2,544.1 L229.6,544.0 L228.0,543.7 L226.4,543.3 L224.8,542.7 L223.2,542.0 L221.6,541.1 L220.0,541.8 L218.4,542.6 L216.8,543.2 L215.2,543.6 L213.6,544.0 L212.0,544.1 L210.4,544.1 L208.8,544.0 L207.2,543.7 L205.6,543.3 L204.0,542.7 L202.4,542.0 L200.8,541.1 L199.2,541.8 L197.6,542.6 L196.0,543.2 L194.4,543.6 L192.8,543.9 L191.2,544.1 L189.6,544.1 L188.0,544.0 L186.4,543.7 L184.8,543.3 L183.2,542.8 L181.6,542.1 L180.0,541.1 L178.4,541.8 L176.9,542.6 L175.3,543.2 L173.7,543.6 L172.1,543.9 L170.5,544.1 L168.9,544.1 L167.3,544.0 L165.7,543.7 L164.1,543.3 L162.5,542.8 L160.9,542.1 L159.3,541.2 L157.7,541.8 L156.1,542.5 L154.5,543.1 L152.9,543.6 L151.3,543.9 L149.7,544.1 L148.1,544.1 L146.5,544.0 Z" fill="none" stroke="#22499e" stroke-width="1.0"/>
<path d="M146.5,538.0 L148.1,538.0 L149.7,538.0 L151.3,538.0 L152.9,538.1 L154.5,538.2 L156.1,538.3 L157.7,538.5 L159.3,538.6 L160.9,538.8 L162.5,538.9 L164.1,539.0 L165.7,539.1 L167.3,539.2 L168.9,539.2 L170.5,539.2 L172.1,539.2 L173.7,539.1 L175.3,539.0 L176.9,538.9 L178.4,538.7 L180.0,538.6 L181.6,538.4 L183.2,538.3 L184.8,538.2 L186.4,538.1 L188.0,538.0 L189.6,538.0 L191.2,538.0 L192.8,538.0 L194.4,538.1 L196.0,538.2 L197.6,538.3 L199.2,538.5 L200.8,538.6 L202.4,538.8 L204.0,538.9 L205.6,539.0 L207.2,539.1 L208.8,539.2 L210.4,539.2 L212.0,539.2 L213.6,539.2 L215.2,539.1 L216.8,539.0 L218.4,538.9 L220.0,538.7 L221.6,538.6 L223.2,538.4 L224.8,538.3 L226.4,538.2 L228.0,538.1 L229.6,538.0 L231.2,538.0 L232.8,538.0 L234.4,538.0 L236.0,538.1 L237.6,538.2 L239.2,538.3 L240.8,538.5 L242.3,538.6 L243.9,538.8 L245.5,538.9 L247.1,539.0 L248.7,539.1 L250.3,539.2 L251.9,539.2 L253.5,539.2 L255.1,539.2 L256.7,539.1 L258.3,539.0 L259.9,538.9 L261.5,538.7 L263.1,538.6 L264.7,538.4 L266.3,538.3 L267.9,538.2 L269.5,538.1 L271.1,538.0 L272.7,538.0 L274.3,538.0 L275.9,538.0 L277.5,538.1 L279.1,538.2 L280.7,538.3 L282.3,538.5 L283.9,538.6 L285.5,538.8 L287.1,538.9 L288.7,539.0 L290.3,539.1 L291.9,539.2 L293.5,539.2 L295.1,539.2 L296.7,539.2 L298.3,539.1 L299.9,539.0 L301.5,538.9 L303.1,538.7 L304.7,538.6 L306.2,538.5 L307.8,538.3 L309.4,538.2 L311.0,538.1 L312.6,538.0 L314.2,538.0 L315.8,538.0 L317.4,538.0 L319.0,538.1 L320.6,538.2 L322.2,538.3 L323.8,538.5 L325.4,538.6 L327.0,538.7 L328.6,538.9 L330.2,539.0 L331.8,539.1 L333.4,539.2 L335.0,539.2 L336.6,539.2 L338.2,539.2 L339.8,539.1 L341.4,539.0 L343.0,538.9 L344.6,538.7 L346.2,538.6 L347.8,538.5 L349.4,538.3 L351.0,538.2 L352.6,538.1 L354.2,538.0 L355.8,538.0 L357.4,538.0 L359.0,538.0 L360.6,538.1 L362.2,538.2 L363.8,538.3 L365.4,538.5 L367.0,538.6 L368.6,538.7 L370.1,538.9 L371.7,539.0 L373.3,539.1 L374.9,539.2 L376.5,539.2 L378.1,539.2 L379.7,539.2 L381.3,539.1 L382.9,539.0 L384.5,538.9 L386.1,538.8 L387.7,538.6 L389.3,538.5 L390.9,538.3 L392.5,538.2 L394.1,538.1 L395.7,538.0 L397.3,538.0 L398.9,538.0 L400.5,538.0" fill="none" stroke="#f2aa30" stroke-width="1.4"/>
<path d="M146.20,532.60 Q148.50,535.10 150.50,535.00 L150.50,542.20 Q148.50,542.10 146.20,544.60 Z" fill="#5aa6ee" stroke="#2a5cb4" stroke-width="0.7"/>
<line x1="146.50" y1="539.00" x2="150.50" y2="539.00" stroke="#f0aa36" stroke-width="1.15"/>
<path d="M400.80,532.60 Q398.50,535.10 396.50,535.00 L396.50,542.20 Q398.50,542.10 400.80,544.60 Z" fill="#5aa6ee" stroke="#2a5cb4" stroke-width="0.7"/>
<line x1="396.50" y1="539.00" x2="400.50" y2="539.00" stroke="#f0aa36" stroke-width="1.15"/>
<path d="M146.5,600.4 L148.1,600.3 L149.7,600.3 L151.3,600.5 L152.9,600.8 L154.5,601.3 L156.1,601.9 L157.7,602.6 L159.3,603.2 L160.9,602.3 L162.5,601.6 L164.1,601.1 L165.7,600.7 L167.3,600.4 L168.9,600.3 L170.5,600.3 L172.1,600.5 L173.7,600.8 L175.3,601.2 L176.9,601.8 L178.4,602.6 L180.0,603.3 L181.6,602.3 L183.2,601.6 L184.8,601.1 L186.4,600.7 L188.0,600.4 L189.6,600.3 L191.2,600.3 L192.8,600.5 L194.4,600.8 L196.0,601.2 L197.6,601.8 L199.2,602.6 L200.8,603.3 L202.4,602.4 L204.0,601.7 L205.6,601.1 L207.2,600.7 L208.8,600.4 L210.4,600.3 L212.0,600.3 L213.6,600.4 L215.2,600.8 L216.8,601.2 L218.4,601.8 L220.0,602.6 L221.6,603.3 L223.2,602.4 L224.8,601.7 L226.4,601.1 L228.0,600.7 L229.6,600.4 L231.2,600.3 L232.8,600.3 L234.4,600.4 L236.0,600.8 L237.6,601.2 L239.2,601.8 L240.8,602.5 L242.3,603.3 L243.9,602.4 L245.5,601.7 L247.1,601.1 L248.7,600.7 L250.3,600.4 L251.9,600.3 L253.5,600.3 L255.1,600.4 L256.7,600.7 L258.3,601.2 L259.9,601.8 L261.5,602.5 L263.1,603.4 L264.7,602.4 L266.3,601.7 L267.9,601.1 L269.5,600.7 L271.1,600.4 L272.7,600.3 L274.3,600.3 L275.9,600.4 L277.5,600.7 L279.1,601.2 L280.7,601.8 L282.3,602.5 L283.9,603.4 L285.5,602.4 L287.1,601.7 L288.7,601.1 L290.3,600.7 L291.9,600.4 L293.5,600.3 L295.1,600.3 L296.7,600.4 L298.3,600.7 L299.9,601.2 L301.5,601.8 L303.1,602.5 L304.7,603.4 L306.2,602.4 L307.8,601.7 L309.4,601.1 L311.0,600.7 L312.6,600.4 L314.2,600.3 L315.8,600.3 L317.4,600.4 L319.0,600.7 L320.6,601.2 L322.2,601.7 L323.8,602.5 L325.4,603.5 L327.0,602.5 L328.6,601.7 L330.2,601.2 L331.8,600.7 L333.4,600.4 L335.0,600.3 L336.6,600.3 L338.2,600.4 L339.8,600.7 L341.4,601.2 L343.0,601.7 L344.6,602.5 L346.2,603.5 L347.8,602.5 L349.4,601.7 L351.0,601.2 L352.6,600.7 L354.2,600.4 L355.8,600.3 L357.4,600.3 L359.0,600.4 L360.6,600.7 L362.2,601.1 L363.8,601.7 L365.4,602.4 L367.0,603.4 L368.6,602.5 L370.1,601.8 L371.7,601.2 L373.3,600.7 L374.9,600.4 L376.5,600.3 L378.1,600.3 L379.7,600.4 L381.3,600.7 L382.9,601.1 L384.5,601.7 L386.1,602.4 L387.7,603.4 L389.3,602.5 L390.9,601.8 L392.5,601.2 L394.1,600.7 L395.7,600.4 L397.3,600.3 L398.9,600.3 L400.5,600.4 L400.5,611.2 L398.9,611.3 L397.3,611.3 L395.7,611.2 L394.1,610.9 L392.5,610.4 L390.9,609.8 L389.3,609.1 L387.7,608.2 L386.1,609.2 L384.5,609.9 L382.9,610.5 L381.3,610.9 L379.7,611.2 L378.1,611.3 L376.5,611.3 L374.9,611.2 L373.3,610.9 L371.7,610.4 L370.1,609.8 L368.6,609.1 L367.0,608.2 L365.4,609.2 L363.8,609.9 L362.2,610.5 L360.6,610.9 L359.0,611.2 L357.4,611.3 L355.8,611.3 L354.2,611.2 L352.6,610.9 L351.0,610.4 L349.4,609.9 L347.8,609.1 L346.2,608.1 L344.6,609.1 L343.0,609.9 L341.4,610.4 L339.8,610.9 L338.2,611.2 L336.6,611.3 L335.0,611.3 L333.4,611.2 L331.8,610.9 L330.2,610.4 L328.6,609.9 L327.0,609.1 L325.4,608.1 L323.8,609.1 L322.2,609.9 L320.6,610.4 L319.0,610.9 L317.4,611.2 L315.8,611.3 L314.2,611.3 L312.6,611.2 L311.0,610.9 L309.4,610.5 L307.8,609.9 L306.2,609.2 L304.7,608.2 L303.1,609.1 L301.5,609.8 L299.9,610.4 L298.3,610.9 L296.7,611.2 L295.1,611.3 L293.5,611.3 L291.9,611.2 L290.3,610.9 L288.7,610.5 L287.1,609.9 L285.5,609.2 L283.9,608.2 L282.3,609.1 L280.7,609.8 L279.1,610.4 L277.5,610.9 L275.9,611.2 L274.3,611.3 L272.7,611.3 L271.1,611.2 L269.5,610.9 L267.9,610.5 L266.3,609.9 L264.7,609.2 L263.1,608.2 L261.5,609.1 L259.9,609.8 L258.3,610.4 L256.7,610.9 L255.1,611.2 L253.5,611.3 L251.9,611.3 L250.3,611.2 L248.7,610.9 L247.1,610.5 L245.5,609.9 L243.9,609.2 L242.3,608.3 L240.8,609.1 L239.2,609.8 L237.6,610.4 L236.0,610.8 L234.4,611.2 L232.8,611.3 L231.2,611.3 L229.6,611.2 L228.0,610.9 L226.4,610.5 L224.8,609.9 L223.2,609.2 L221.6,608.3 L220.0,609.0 L218.4,609.8 L216.8,610.4 L215.2,610.8 L213.6,611.2 L212.0,611.3 L210.4,611.3 L208.8,611.2 L207.2,610.9 L205.6,610.5 L204.0,609.9 L202.4,609.2 L200.8,608.3 L199.2,609.0 L197.6,609.8 L196.0,610.4 L194.4,610.8 L192.8,611.1 L191.2,611.3 L189.6,611.3 L188.0,611.2 L186.4,610.9 L184.8,610.5 L183.2,610.0 L181.6,609.3 L180.0,608.3 L178.4,609.0 L176.9,609.8 L175.3,610.4 L173.7,610.8 L172.1,611.1 L170.5,611.3 L168.9,611.3 L167.3,611.2 L165.7,610.9 L164.1,610.5 L162.5,610.0 L160.9,609.3 L159.3,608.4 L157.7,609.0 L156.1,609.7 L154.5,610.3 L152.9,610.8 L151.3,611.1 L149.7,611.3 L148.1,611.3 L146.5,611.2 Z" fill="#8ecbf6"/>
<path d="M146.5,606.2 L148.1,606.3 L149.7,606.3 L151.3,606.1 L152.9,605.7 L154.5,605.3 L156.1,604.9 L157.7,604.7 L159.3,604.6 L160.9,603.7 L162.5,602.8 L164.1,601.9 L165.7,601.1 L167.3,600.5 L168.9,600.3 L170.5,600.3 L172.1,600.7 L173.7,601.3 L175.3,602.2 L176.9,603.1 L178.4,604.0 L180.0,604.7 L181.6,604.8 L183.2,605.1 L184.8,605.5 L186.4,605.9 L188.0,606.2 L189.6,606.3 L191.2,606.3 L192.8,606.1 L194.4,605.8 L196.0,605.3 L197.6,605.0 L199.2,604.7 L200.8,604.6 L202.4,603.7 L204.0,602.8 L205.6,601.9 L207.2,601.1 L208.8,600.6 L210.4,600.3 L212.0,600.3 L213.6,600.7 L215.2,601.3 L216.8,602.1 L218.4,603.0 L220.0,604.0 L221.6,604.7 L223.2,604.8 L224.8,605.1 L226.4,605.4 L228.0,605.9 L229.6,606.2 L231.2,606.3 L232.8,606.3 L234.4,606.1 L236.0,605.8 L237.6,605.4 L239.2,605.0 L240.8,604.7 L242.3,604.7 L243.9,603.8 L245.5,602.9 L247.1,601.9 L248.7,601.2 L250.3,600.6 L251.9,600.3 L253.5,600.3 L255.1,600.7 L256.7,601.3 L258.3,602.1 L259.9,603.0 L261.5,603.9 L263.1,604.7 L264.7,604.8 L266.3,605.0 L267.9,605.4 L269.5,605.8 L271.1,606.2 L272.7,606.3 L274.3,606.3 L275.9,606.1 L277.5,605.8 L279.1,605.4 L280.7,605.0 L282.3,604.7 L283.9,604.7 L285.5,603.8 L287.1,602.9 L288.7,602.0 L290.3,601.2 L291.9,600.6 L293.5,600.3 L295.1,600.3 L296.7,600.6 L298.3,601.2 L299.9,602.1 L301.5,603.0 L303.1,603.9 L304.7,604.7 L306.2,604.7 L307.8,605.0 L309.4,605.4 L311.0,605.8 L312.6,606.2 L314.2,606.3 L315.8,606.3 L317.4,606.1 L319.0,605.8 L320.6,605.4 L322.2,605.0 L323.8,604.7 L325.4,604.7 L327.0,603.9 L328.6,602.9 L330.2,602.0 L331.8,601.2 L333.4,600.6 L335.0,600.3 L336.6,600.3 L338.2,600.6 L339.8,601.2 L341.4,602.0 L343.0,602.9 L344.6,603.9 L346.2,604.8 L347.8,604.7 L349.4,605.0 L351.0,605.4 L352.6,605.8 L354.2,606.1 L355.8,606.3 L357.4,606.3 L359.0,606.2 L360.6,605.8 L362.2,605.4 L363.8,605.0 L365.4,604.7 L367.0,604.7 L368.6,603.9 L370.1,603.0 L371.7,602.1 L373.3,601.2 L374.9,600.6 L376.5,600.3 L378.1,600.3 L379.7,600.6 L381.3,601.2 L382.9,602.0 L384.5,602.9 L386.1,603.8 L387.7,604.7 L389.3,604.7 L390.9,605.0 L392.5,605.4 L394.1,605.8 L395.7,606.1 L397.3,606.3 L398.9,606.3 L400.5,606.2 L400.5,611.0 L398.9,611.3 L397.3,611.3 L395.7,611.0 L394.1,610.3 L392.5,609.5 L390.9,608.6 L389.3,607.7 L387.7,606.9 L386.1,606.9 L384.5,606.6 L382.9,606.2 L381.3,605.8 L379.7,605.4 L378.1,605.3 L376.5,605.3 L374.9,605.5 L373.3,605.8 L371.7,606.2 L370.1,606.6 L368.6,606.9 L367.0,606.9 L365.4,607.8 L363.8,608.7 L362.2,609.6 L360.6,610.4 L359.0,611.0 L357.4,611.3 L355.8,611.3 L354.2,611.0 L352.6,610.4 L351.0,609.6 L349.4,608.7 L347.8,607.7 L346.2,606.8 L344.6,606.9 L343.0,606.6 L341.4,606.2 L339.8,605.8 L338.2,605.5 L336.6,605.3 L335.0,605.3 L333.4,605.5 L331.8,605.8 L330.2,606.2 L328.6,606.6 L327.0,606.9 L325.4,606.8 L323.8,607.7 L322.2,608.7 L320.6,609.6 L319.0,610.4 L317.4,611.0 L315.8,611.3 L314.2,611.3 L312.6,611.0 L311.0,610.4 L309.4,609.6 L307.8,608.7 L306.2,607.8 L304.7,606.9 L303.1,606.9 L301.5,606.6 L299.9,606.2 L298.3,605.8 L296.7,605.5 L295.1,605.3 L293.5,605.3 L291.9,605.4 L290.3,605.8 L288.7,606.2 L287.1,606.6 L285.5,606.9 L283.9,606.9 L282.3,607.7 L280.7,608.6 L279.1,609.5 L277.5,610.3 L275.9,611.0 L274.3,611.3 L272.7,611.3 L271.1,611.0 L269.5,610.4 L267.9,609.6 L266.3,608.7 L264.7,607.8 L263.1,606.9 L261.5,606.9 L259.9,606.6 L258.3,606.2 L256.7,605.8 L255.1,605.5 L253.5,605.3 L251.9,605.3 L250.3,605.4 L248.7,605.8 L247.1,606.2 L245.5,606.6 L243.9,606.8 L242.3,606.9 L240.8,607.7 L239.2,608.6 L237.6,609.5 L236.0,610.3 L234.4,610.9 L232.8,611.3 L231.2,611.3 L229.6,611.0 L228.0,610.5 L226.4,609.7 L224.8,608.8 L223.2,607.8 L221.6,607.0 L220.0,606.9 L218.4,606.6 L216.8,606.2 L215.2,605.8 L213.6,605.5 L212.0,605.3 L210.4,605.3 L208.8,605.4 L207.2,605.7 L205.6,606.1 L204.0,606.5 L202.4,606.8 L200.8,606.9 L199.2,607.6 L197.6,608.5 L196.0,609.5 L194.4,610.3 L192.8,610.9 L191.2,611.3 L189.6,611.3 L188.0,611.1 L186.4,610.5 L184.8,609.7 L183.2,608.8 L181.6,607.9 L180.0,607.0 L178.4,606.9 L176.9,606.6 L175.3,606.3 L173.7,605.8 L172.1,605.5 L170.5,605.3 L168.9,605.3 L167.3,605.4 L165.7,605.7 L164.1,606.1 L162.5,606.5 L160.9,606.8 L159.3,606.9 L157.7,607.6 L156.1,608.5 L154.5,609.4 L152.9,610.3 L151.3,610.9 L149.7,611.3 L148.1,611.3 L146.5,611.1 Z" fill="#3f8fe4"/>
<path d="M146.5,600.4 L148.1,600.3 L149.7,600.3 L151.3,600.5 L152.9,600.8 L154.5,601.3 L156.1,601.9 L157.7,602.6 L159.3,603.2 L160.9,602.3 L162.5,601.6 L164.1,601.1 L165.7,600.7 L167.3,600.4 L168.9,600.3 L170.5,600.3 L172.1,600.5 L173.7,600.8 L175.3,601.2 L176.9,601.8 L178.4,602.6 L180.0,603.3 L181.6,602.3 L183.2,601.6 L184.8,601.1 L186.4,600.7 L188.0,600.4 L189.6,600.3 L191.2,600.3 L192.8,600.5 L194.4,600.8 L196.0,601.2 L197.6,601.8 L199.2,602.6 L200.8,603.3 L202.4,602.4 L204.0,601.7 L205.6,601.1 L207.2,600.7 L208.8,600.4 L210.4,600.3 L212.0,600.3 L213.6,600.4 L215.2,600.8 L216.8,601.2 L218.4,601.8 L220.0,602.6 L221.6,603.3 L223.2,602.4 L224.8,601.7 L226.4,601.1 L228.0,600.7 L229.6,600.4 L231.2,600.3 L232.8,600.3 L234.4,600.4 L236.0,600.8 L237.6,601.2 L239.2,601.8 L240.8,602.5 L242.3,603.3 L243.9,602.4 L245.5,601.7 L247.1,601.1 L248.7,600.7 L250.3,600.4 L251.9,600.3 L253.5,600.3 L255.1,600.4 L256.7,600.7 L258.3,601.2 L259.9,601.8 L261.5,602.5 L263.1,603.4 L264.7,602.4 L266.3,601.7 L267.9,601.1 L269.5,600.7 L271.1,600.4 L272.7,600.3 L274.3,600.3 L275.9,600.4 L277.5,600.7 L279.1,601.2 L280.7,601.8 L282.3,602.5 L283.9,603.4 L285.5,602.4 L287.1,601.7 L288.7,601.1 L290.3,600.7 L291.9,600.4 L293.5,600.3 L295.1,600.3 L296.7,600.4 L298.3,600.7 L299.9,601.2 L301.5,601.8 L303.1,602.5 L304.7,603.4 L306.2,602.4 L307.8,601.7 L309.4,601.1 L311.0,600.7 L312.6,600.4 L314.2,600.3 L315.8,600.3 L317.4,600.4 L319.0,600.7 L320.6,601.2 L322.2,601.7 L323.8,602.5 L325.4,603.5 L327.0,602.5 L328.6,601.7 L330.2,601.2 L331.8,600.7 L333.4,600.4 L335.0,600.3 L336.6,600.3 L338.2,600.4 L339.8,600.7 L341.4,601.2 L343.0,601.7 L344.6,602.5 L346.2,603.5 L347.8,602.5 L349.4,601.7 L351.0,601.2 L352.6,600.7 L354.2,600.4 L355.8,600.3 L357.4,600.3 L359.0,600.4 L360.6,600.7 L362.2,601.1 L363.8,601.7 L365.4,602.4 L367.0,603.4 L368.6,602.5 L370.1,601.8 L371.7,601.2 L373.3,600.7 L374.9,600.4 L376.5,600.3 L378.1,600.3 L379.7,600.4 L381.3,600.7 L382.9,601.1 L384.5,601.7 L386.1,602.4 L387.7,603.4 L389.3,602.5 L390.9,601.8 L392.5,601.2 L394.1,600.7 L395.7,600.4 L397.3,600.3 L398.9,600.3 L400.5,600.4 L400.5,611.2 L398.9,611.3 L397.3,611.3 L395.7,611.2 L394.1,610.9 L392.5,610.4 L390.9,609.8 L389.3,609.1 L387.7,608.2 L386.1,609.2 L384.5,609.9 L382.9,610.5 L381.3,610.9 L379.7,611.2 L378.1,611.3 L376.5,611.3 L374.9,611.2 L373.3,610.9 L371.7,610.4 L370.1,609.8 L368.6,609.1 L367.0,608.2 L365.4,609.2 L363.8,609.9 L362.2,610.5 L360.6,610.9 L359.0,611.2 L357.4,611.3 L355.8,611.3 L354.2,611.2 L352.6,610.9 L351.0,610.4 L349.4,609.9 L347.8,609.1 L346.2,608.1 L344.6,609.1 L343.0,609.9 L341.4,610.4 L339.8,610.9 L338.2,611.2 L336.6,611.3 L335.0,611.3 L333.4,611.2 L331.8,610.9 L330.2,610.4 L328.6,609.9 L327.0,609.1 L325.4,608.1 L323.8,609.1 L322.2,609.9 L320.6,610.4 L319.0,610.9 L317.4,611.2 L315.8,611.3 L314.2,611.3 L312.6,611.2 L311.0,610.9 L309.4,610.5 L307.8,609.9 L306.2,609.2 L304.7,608.2 L303.1,609.1 L301.5,609.8 L299.9,610.4 L298.3,610.9 L296.7,611.2 L295.1,611.3 L293.5,611.3 L291.9,611.2 L290.3,610.9 L288.7,610.5 L287.1,609.9 L285.5,609.2 L283.9,608.2 L282.3,609.1 L280.7,609.8 L279.1,610.4 L277.5,610.9 L275.9,611.2 L274.3,611.3 L272.7,611.3 L271.1,611.2 L269.5,610.9 L267.9,610.5 L266.3,609.9 L264.7,609.2 L263.1,608.2 L261.5,609.1 L259.9,609.8 L258.3,610.4 L256.7,610.9 L255.1,611.2 L253.5,611.3 L251.9,611.3 L250.3,611.2 L248.7,610.9 L247.1,610.5 L245.5,609.9 L243.9,609.2 L242.3,608.3 L240.8,609.1 L239.2,609.8 L237.6,610.4 L236.0,610.8 L234.4,611.2 L232.8,611.3 L231.2,611.3 L229.6,611.2 L228.0,610.9 L226.4,610.5 L224.8,609.9 L223.2,609.2 L221.6,608.3 L220.0,609.0 L218.4,609.8 L216.8,610.4 L215.2,610.8 L213.6,611.2 L212.0,611.3 L210.4,611.3 L208.8,611.2 L207.2,610.9 L205.6,610.5 L204.0,609.9 L202.4,609.2 L200.8,608.3 L199.2,609.0 L197.6,609.8 L196.0,610.4 L194.4,610.8 L192.8,611.1 L191.2,611.3 L189.6,611.3 L188.0,611.2 L186.4,610.9 L184.8,610.5 L183.2,610.0 L181.6,609.3 L180.0,608.3 L178.4,609.0 L176.9,609.8 L175.3,610.4 L173.7,610.8 L172.1,611.1 L170.5,611.3 L168.9,611.3 L167.3,611.2 L165.7,610.9 L164.1,610.5 L162.5,610.0 L160.9,609.3 L159.3,608.4 L157.7,609.0 L156.1,609.7 L154.5,610.3 L152.9,610.8 L151.3,611.1 L149.7,611.3 L148.1,611.3 L146.5,611.2 Z" fill="none" stroke="#22499e" stroke-width="1.0"/>
<path d="M146.5,605.2 L148.1,605.2 L149.7,605.2 L151.3,605.2 L152.9,605.3 L154.5,605.4 L156.1,605.5 L157.7,605.7 L159.3,605.8 L160.9,606.0 L162.5,606.1 L164.1,606.2 L165.7,606.3 L167.3,606.4 L168.9,606.4 L170.5,606.4 L172.1,606.4 L173.7,606.3 L175.3,606.2 L176.9,606.1 L178.4,605.9 L180.0,605.8 L181.6,605.6 L183.2,605.5 L184.8,605.4 L186.4,605.3 L188.0,605.2 L189.6,605.2 L191.2,605.2 L192.8,605.2 L194.4,605.3 L196.0,605.4 L197.6,605.5 L199.2,605.7 L200.8,605.8 L202.4,606.0 L204.0,606.1 L205.6,606.2 L207.2,606.3 L208.8,606.4 L210.4,606.4 L212.0,606.4 L213.6,606.4 L215.2,606.3 L216.8,606.2 L218.4,606.1 L220.0,605.9 L221.6,605.8 L223.2,605.6 L224.8,605.5 L226.4,605.4 L228.0,605.3 L229.6,605.2 L231.2,605.2 L232.8,605.2 L234.4,605.2 L236.0,605.3 L237.6,605.4 L239.2,605.5 L240.8,605.7 L242.3,605.8 L243.9,606.0 L245.5,606.1 L247.1,606.2 L248.7,606.3 L250.3,606.4 L251.9,606.4 L253.5,606.4 L255.1,606.4 L256.7,606.3 L258.3,606.2 L259.9,606.1 L261.5,605.9 L263.1,605.8 L264.7,605.6 L266.3,605.5 L267.9,605.4 L269.5,605.3 L271.1,605.2 L272.7,605.2 L274.3,605.2 L275.9,605.2 L277.5,605.3 L279.1,605.4 L280.7,605.5 L282.3,605.7 L283.9,605.8 L285.5,606.0 L287.1,606.1 L288.7,606.2 L290.3,606.3 L291.9,606.4 L293.5,606.4 L295.1,606.4 L296.7,606.4 L298.3,606.3 L299.9,606.2 L301.5,606.1 L303.1,605.9 L304.7,605.8 L306.2,605.7 L307.8,605.5 L309.4,605.4 L311.0,605.3 L312.6,605.2 L314.2,605.2 L315.8,605.2 L317.4,605.2 L319.0,605.3 L320.6,605.4 L322.2,605.5 L323.8,605.7 L325.4,605.8 L327.0,605.9 L328.6,606.1 L330.2,606.2 L331.8,606.3 L333.4,606.4 L335.0,606.4 L336.6,606.4 L338.2,606.4 L339.8,606.3 L341.4,606.2 L343.0,606.1 L344.6,605.9 L346.2,605.8 L347.8,605.7 L349.4,605.5 L351.0,605.4 L352.6,605.3 L354.2,605.2 L355.8,605.2 L357.4,605.2 L359.0,605.2 L360.6,605.3 L362.2,605.4 L363.8,605.5 L365.4,605.7 L367.0,605.8 L368.6,605.9 L370.1,606.1 L371.7,606.2 L373.3,606.3 L374.9,606.4 L376.5,606.4 L378.1,606.4 L379.7,606.4 L381.3,606.3 L382.9,606.2 L384.5,606.1 L386.1,606.0 L387.7,605.8 L389.3,605.7 L390.9,605.5 L392.5,605.4 L394.1,605.3 L395.7,605.2 L397.3,605.2 L398.9,605.2 L400.5,605.2" fill="none" stroke="#f2aa30" stroke-width="1.4"/>
<path d="M146.20,599.80 Q148.50,602.30 150.50,602.20 L150.50,609.40 Q148.50,609.30 146.20,611.80 Z" fill="#5aa6ee" stroke="#2a5cb4" stroke-width="0.7"/>
<line x1="146.50" y1="606.20" x2="150.50" y2="606.20" stroke="#f0aa36" stroke-width="1.15"/>
<path d="M400.80,599.80 Q398.50,602.30 396.50,602.20 L396.50,609.40 Q398.50,609.30 400.80,611.80 Z" fill="#5aa6ee" stroke="#2a5cb4" stroke-width="0.7"/>
<line x1="396.50" y1="606.20" x2="400.50" y2="606.20" stroke="#f0aa36" stroke-width="1.15"/>
<path d="M146.5,667.8 L148.1,667.7 L149.7,667.7 L151.3,667.9 L152.9,668.2 L154.5,668.7 L156.1,669.3 L157.7,670.0 L159.3,670.6 L160.9,669.7 L162.5,669.0 L164.1,668.5 L165.7,668.1 L167.3,667.8 L168.9,667.7 L170.5,667.7 L172.1,667.9 L173.7,668.2 L175.3,668.6 L176.9,669.2 L178.4,670.0 L180.0,670.7 L181.6,669.7 L183.2,669.0 L184.8,668.5 L186.4,668.1 L188.0,667.8 L189.6,667.7 L191.2,667.7 L192.8,667.9 L194.4,668.2 L196.0,668.6 L197.6,669.2 L199.2,670.0 L200.8,670.7 L202.4,669.8 L204.0,669.1 L205.6,668.5 L207.2,668.1 L208.8,667.8 L210.4,667.7 L212.0,667.7 L213.6,667.8 L215.2,668.2 L216.8,668.6 L218.4,669.2 L220.0,670.0 L221.6,670.7 L223.2,669.8 L224.8,669.1 L226.4,668.5 L228.0,668.1 L229.6,667.8 L231.2,667.7 L232.8,667.7 L234.4,667.8 L236.0,668.2 L237.6,668.6 L239.2,669.2 L240.8,669.9 L242.3,670.7 L243.9,669.8 L245.5,669.1 L247.1,668.5 L248.7,668.1 L250.3,667.8 L251.9,667.7 L253.5,667.7 L255.1,667.8 L256.7,668.1 L258.3,668.6 L259.9,669.2 L261.5,669.9 L263.1,670.8 L264.7,669.8 L266.3,669.1 L267.9,668.5 L269.5,668.1 L271.1,667.8 L272.7,667.7 L274.3,667.7 L275.9,667.8 L277.5,668.1 L279.1,668.6 L280.7,669.2 L282.3,669.9 L283.9,670.8 L285.5,669.8 L287.1,669.1 L288.7,668.5 L290.3,668.1 L291.9,667.8 L293.5,667.7 L295.1,667.7 L296.7,667.8 L298.3,668.1 L299.9,668.6 L301.5,669.2 L303.1,669.9 L304.7,670.8 L306.2,669.8 L307.8,669.1 L309.4,668.5 L311.0,668.1 L312.6,667.8 L314.2,667.7 L315.8,667.7 L317.4,667.8 L319.0,668.1 L320.6,668.6 L322.2,669.1 L323.8,669.9 L325.4,670.9 L327.0,669.9 L328.6,669.1 L330.2,668.6 L331.8,668.1 L333.4,667.8 L335.0,667.7 L336.6,667.7 L338.2,667.8 L339.8,668.1 L341.4,668.6 L343.0,669.1 L344.6,669.9 L346.2,670.9 L347.8,669.9 L349.4,669.1 L351.0,668.6 L352.6,668.1 L354.2,667.8 L355.8,667.7 L357.4,667.7 L359.0,667.8 L360.6,668.1 L362.2,668.5 L363.8,669.1 L365.4,669.8 L367.0,670.8 L368.6,669.9 L370.1,669.2 L371.7,668.6 L373.3,668.1 L374.9,667.8 L376.5,667.7 L378.1,667.7 L379.7,667.8 L381.3,668.1 L382.9,668.5 L384.5,669.1 L386.1,669.8 L387.7,670.8 L389.3,669.9 L390.9,669.2 L392.5,668.6 L394.1,668.1 L395.7,667.8 L397.3,667.7 L398.9,667.7 L400.5,667.8 L400.5,678.6 L398.9,678.7 L397.3,678.7 L395.7,678.6 L394.1,678.3 L392.5,677.8 L390.9,677.2 L389.3,676.5 L387.7,675.6 L386.1,676.6 L384.5,677.3 L382.9,677.9 L381.3,678.3 L379.7,678.6 L378.1,678.7 L376.5,678.7 L374.9,678.6 L373.3,678.3 L371.7,677.8 L370.1,677.2 L368.6,676.5 L367.0,675.6 L365.4,676.6 L363.8,677.3 L362.2,677.9 L360.6,678.3 L359.0,678.6 L357.4,678.7 L355.8,678.7 L354.2,678.6 L352.6,678.3 L351.0,677.8 L349.4,677.3 L347.8,676.5 L346.2,675.5 L344.6,676.5 L343.0,677.3 L341.4,677.8 L339.8,678.3 L338.2,678.6 L336.6,678.7 L335.0,678.7 L333.4,678.6 L331.8,678.3 L330.2,677.8 L328.6,677.3 L327.0,676.5 L325.4,675.5 L323.8,676.5 L322.2,677.3 L320.6,677.8 L319.0,678.3 L317.4,678.6 L315.8,678.7 L314.2,678.7 L312.6,678.6 L311.0,678.3 L309.4,677.9 L307.8,677.3 L306.2,676.6 L304.7,675.6 L303.1,676.5 L301.5,677.2 L299.9,677.8 L298.3,678.3 L296.7,678.6 L295.1,678.7 L293.5,678.7 L291.9,678.6 L290.3,678.3 L288.7,677.9 L287.1,677.3 L285.5,676.6 L283.9,675.6 L282.3,676.5 L280.7,677.2 L279.1,677.8 L277.5,678.3 L275.9,678.6 L274.3,678.7 L272.7,678.7 L271.1,678.6 L269.5,678.3 L267.9,677.9 L266.3,677.3 L264.7,676.6 L263.1,675.6 L261.5,676.5 L259.9,677.2 L258.3,677.8 L256.7,678.3 L255.1,678.6 L253.5,678.7 L251.9,678.7 L250.3,678.6 L248.7,678.3 L247.1,677.9 L245.5,677.3 L243.9,676.6 L242.3,675.7 L240.8,676.5 L239.2,677.2 L237.6,677.8 L236.0,678.2 L234.4,678.6 L232.8,678.7 L231.2,678.7 L229.6,678.6 L228.0,678.3 L226.4,677.9 L224.8,677.3 L223.2,676.6 L221.6,675.7 L220.0,676.4 L218.4,677.2 L216.8,677.8 L215.2,678.2 L213.6,678.6 L212.0,678.7 L210.4,678.7 L208.8,678.6 L207.2,678.3 L205.6,677.9 L204.0,677.3 L202.4,676.6 L200.8,675.7 L199.2,676.4 L197.6,677.2 L196.0,677.8 L194.4,678.2 L192.8,678.5 L191.2,678.7 L189.6,678.7 L188.0,678.6 L186.4,678.3 L184.8,677.9 L183.2,677.4 L181.6,676.7 L180.0,675.7 L178.4,676.4 L176.9,677.2 L175.3,677.8 L173.7,678.2 L172.1,678.5 L170.5,678.7 L168.9,678.7 L167.3,678.6 L165.7,678.3 L164.1,677.9 L162.5,677.4 L160.9,676.7 L159.3,675.8 L157.7,676.4 L156.1,677.1 L154.5,677.7 L152.9,678.2 L151.3,678.5 L149.7,678.7 L148.1,678.7 L146.5,678.6 Z" fill="#8ecbf6"/>
<path d="M146.5,673.6 L148.1,673.7 L149.7,673.7 L151.3,673.5 L152.9,673.1 L154.5,672.7 L156.1,672.3 L157.7,672.1 L159.3,672.0 L160.9,671.1 L162.5,670.2 L164.1,669.3 L165.7,668.5 L167.3,667.9 L168.9,667.7 L170.5,667.7 L172.1,668.1 L173.7,668.7 L175.3,669.6 L176.9,670.5 L178.4,671.4 L180.0,672.1 L181.6,672.2 L183.2,672.5 L184.8,672.9 L186.4,673.3 L188.0,673.6 L189.6,673.7 L191.2,673.7 L192.8,673.5 L194.4,673.2 L196.0,672.7 L197.6,672.4 L199.2,672.1 L200.8,672.0 L202.4,671.1 L204.0,670.2 L205.6,669.3 L207.2,668.5 L208.8,668.0 L210.4,667.7 L212.0,667.7 L213.6,668.1 L215.2,668.7 L216.8,669.5 L218.4,670.4 L220.0,671.4 L221.6,672.1 L223.2,672.2 L224.8,672.5 L226.4,672.8 L228.0,673.3 L229.6,673.6 L231.2,673.7 L232.8,673.7 L234.4,673.5 L236.0,673.2 L237.6,672.8 L239.2,672.4 L240.8,672.1 L242.3,672.1 L243.9,671.2 L245.5,670.3 L247.1,669.3 L248.7,668.6 L250.3,668.0 L251.9,667.7 L253.5,667.7 L255.1,668.1 L256.7,668.7 L258.3,669.5 L259.9,670.4 L261.5,671.3 L263.1,672.1 L264.7,672.2 L266.3,672.4 L267.9,672.8 L269.5,673.2 L271.1,673.6 L272.7,673.7 L274.3,673.7 L275.9,673.5 L277.5,673.2 L279.1,672.8 L280.7,672.4 L282.3,672.1 L283.9,672.1 L285.5,671.2 L287.1,670.3 L288.7,669.4 L290.3,668.6 L291.9,668.0 L293.5,667.7 L295.1,667.7 L296.7,668.0 L298.3,668.6 L299.9,669.5 L301.5,670.4 L303.1,671.3 L304.7,672.1 L306.2,672.1 L307.8,672.4 L309.4,672.8 L311.0,673.2 L312.6,673.6 L314.2,673.7 L315.8,673.7 L317.4,673.5 L319.0,673.2 L320.6,672.8 L322.2,672.4 L323.8,672.1 L325.4,672.1 L327.0,671.3 L328.6,670.3 L330.2,669.4 L331.8,668.6 L333.4,668.0 L335.0,667.7 L336.6,667.7 L338.2,668.0 L339.8,668.6 L341.4,669.4 L343.0,670.3 L344.6,671.3 L346.2,672.2 L347.8,672.1 L349.4,672.4 L351.0,672.8 L352.6,673.2 L354.2,673.5 L355.8,673.7 L357.4,673.7 L359.0,673.6 L360.6,673.2 L362.2,672.8 L363.8,672.4 L365.4,672.1 L367.0,672.1 L368.6,671.3 L370.1,670.4 L371.7,669.5 L373.3,668.6 L374.9,668.0 L376.5,667.7 L378.1,667.7 L379.7,668.0 L381.3,668.6 L382.9,669.4 L384.5,670.3 L386.1,671.2 L387.7,672.1 L389.3,672.1 L390.9,672.4 L392.5,672.8 L394.1,673.2 L395.7,673.5 L397.3,673.7 L398.9,673.7 L400.5,673.6 L400.5,678.4 L398.9,678.7 L397.3,678.7 L395.7,678.4 L394.1,677.7 L392.5,676.9 L390.9,676.0 L389.3,675.1 L387.7,674.3 L386.1,674.3 L384.5,674.0 L382.9,673.6 L381.3,673.2 L379.7,672.8 L378.1,672.7 L376.5,672.7 L374.9,672.9 L373.3,673.2 L371.7,673.6 L370.1,674.0 L368.6,674.3 L367.0,674.3 L365.4,675.2 L363.8,676.1 L362.2,677.0 L360.6,677.8 L359.0,678.4 L357.4,678.7 L355.8,678.7 L354.2,678.4 L352.6,677.8 L351.0,677.0 L349.4,676.1 L347.8,675.1 L346.2,674.2 L344.6,674.3 L343.0,674.0 L341.4,673.6 L339.8,673.2 L338.2,672.9 L336.6,672.7 L335.0,672.7 L333.4,672.9 L331.8,673.2 L330.2,673.6 L328.6,674.0 L327.0,674.3 L325.4,674.2 L323.8,675.1 L322.2,676.1 L320.6,677.0 L319.0,677.8 L317.4,678.4 L315.8,678.7 L314.2,678.7 L312.6,678.4 L311.0,677.8 L309.4,677.0 L307.8,676.1 L306.2,675.2 L304.7,674.3 L303.1,674.3 L301.5,674.0 L299.9,673.6 L298.3,673.2 L296.7,672.9 L295.1,672.7 L293.5,672.7 L291.9,672.8 L290.3,673.2 L288.7,673.6 L287.1,674.0 L285.5,674.3 L283.9,674.3 L282.3,675.1 L280.7,676.0 L279.1,676.9 L277.5,677.7 L275.9,678.4 L274.3,678.7 L272.7,678.7 L271.1,678.4 L269.5,677.8 L267.9,677.0 L266.3,676.1 L264.7,675.2 L263.1,674.3 L261.5,674.3 L259.9,674.0 L258.3,673.6 L256.7,673.2 L255.1,672.9 L253.5,672.7 L251.9,672.7 L250.3,672.8 L248.7,673.2 L247.1,673.6 L245.5,674.0 L243.9,674.2 L242.3,674.3 L240.8,675.1 L239.2,676.0 L237.6,676.9 L236.0,677.7 L234.4,678.3 L232.8,678.7 L231.2,678.7 L229.6,678.4 L228.0,677.9 L226.4,677.1 L224.8,676.2 L223.2,675.2 L221.6,674.4 L220.0,674.3 L218.4,674.0 L216.8,673.6 L215.2,673.2 L213.6,672.9 L212.0,672.7 L210.4,672.7 L208.8,672.8 L207.2,673.1 L205.6,673.5 L204.0,673.9 L202.4,674.2 L200.8,674.3 L199.2,675.0 L197.6,675.9 L196.0,676.9 L194.4,677.7 L192.8,678.3 L191.2,678.7 L189.6,678.7 L188.0,678.5 L186.4,677.9 L184.8,677.1 L183.2,676.2 L181.6,675.3 L180.0,674.4 L178.4,674.3 L176.9,674.0 L175.3,673.7 L173.7,673.2 L172.1,672.9 L170.5,672.7 L168.9,672.7 L167.3,672.8 L165.7,673.1 L164.1,673.5 L162.5,673.9 L160.9,674.2 L159.3,674.3 L157.7,675.0 L156.1,675.9 L154.5,676.8 L152.9,677.7 L151.3,678.3 L149.7,678.7 L148.1,678.7 L146.5,678.5 Z" fill="#3f8fe4"/>
<path d="M146.5,667.8 L148.1,667.7 L149.7,667.7 L151.3,667.9 L152.9,668.2 L154.5,668.7 L156.1,669.3 L157.7,670.0 L159.3,670.6 L160.9,669.7 L162.5,669.0 L164.1,668.5 L165.7,668.1 L167.3,667.8 L168.9,667.7 L170.5,667.7 L172.1,667.9 L173.7,668.2 L175.3,668.6 L176.9,669.2 L178.4,670.0 L180.0,670.7 L181.6,669.7 L183.2,669.0 L184.8,668.5 L186.4,668.1 L188.0,667.8 L189.6,667.7 L191.2,667.7 L192.8,667.9 L194.4,668.2 L196.0,668.6 L197.6,669.2 L199.2,670.0 L200.8,670.7 L202.4,669.8 L204.0,669.1 L205.6,668.5 L207.2,668.1 L208.8,667.8 L210.4,667.7 L212.0,667.7 L213.6,667.8 L215.2,668.2 L216.8,668.6 L218.4,669.2 L220.0,670.0 L221.6,670.7 L223.2,669.8 L224.8,669.1 L226.4,668.5 L228.0,668.1 L229.6,667.8 L231.2,667.7 L232.8,667.7 L234.4,667.8 L236.0,668.2 L237.6,668.6 L239.2,669.2 L240.8,669.9 L242.3,670.7 L243.9,669.8 L245.5,669.1 L247.1,668.5 L248.7,668.1 L250.3,667.8 L251.9,667.7 L253.5,667.7 L255.1,667.8 L256.7,668.1 L258.3,668.6 L259.9,669.2 L261.5,669.9 L263.1,670.8 L264.7,669.8 L266.3,669.1 L267.9,668.5 L269.5,668.1 L271.1,667.8 L272.7,667.7 L274.3,667.7 L275.9,667.8 L277.5,668.1 L279.1,668.6 L280.7,669.2 L282.3,669.9 L283.9,670.8 L285.5,669.8 L287.1,669.1 L288.7,668.5 L290.3,668.1 L291.9,667.8 L293.5,667.7 L295.1,667.7 L296.7,667.8 L298.3,668.1 L299.9,668.6 L301.5,669.2 L303.1,669.9 L304.7,670.8 L306.2,669.8 L307.8,669.1 L309.4,668.5 L311.0,668.1 L312.6,667.8 L314.2,667.7 L315.8,667.7 L317.4,667.8 L319.0,668.1 L320.6,668.6 L322.2,669.1 L323.8,669.9 L325.4,670.9 L327.0,669.9 L328.6,669.1 L330.2,668.6 L331.8,668.1 L333.4,667.8 L335.0,667.7 L336.6,667.7 L338.2,667.8 L339.8,668.1 L341.4,668.6 L343.0,669.1 L344.6,669.9 L346.2,670.9 L347.8,669.9 L349.4,669.1 L351.0,668.6 L352.6,668.1 L354.2,667.8 L355.8,667.7 L357.4,667.7 L359.0,667.8 L360.6,668.1 L362.2,668.5 L363.8,669.1 L365.4,669.8 L367.0,670.8 L368.6,669.9 L370.1,669.2 L371.7,668.6 L373.3,668.1 L374.9,667.8 L376.5,667.7 L378.1,667.7 L379.7,667.8 L381.3,668.1 L382.9,668.5 L384.5,669.1 L386.1,669.8 L387.7,670.8 L389.3,669.9 L390.9,669.2 L392.5,668.6 L394.1,668.1 L395.7,667.8 L397.3,667.7 L398.9,667.7 L400.5,667.8 L400.5,678.6 L398.9,678.7 L397.3,678.7 L395.7,678.6 L394.1,678.3 L392.5,677.8 L390.9,677.2 L389.3,676.5 L387.7,675.6 L386.1,676.6 L384.5,677.3 L382.9,677.9 L381.3,678.3 L379.7,678.6 L378.1,678.7 L376.5,678.7 L374.9,678.6 L373.3,678.3 L371.7,677.8 L370.1,677.2 L368.6,676.5 L367.0,675.6 L365.4,676.6 L363.8,677.3 L362.2,677.9 L360.6,678.3 L359.0,678.6 L357.4,678.7 L355.8,678.7 L354.2,678.6 L352.6,678.3 L351.0,677.8 L349.4,677.3 L347.8,676.5 L346.2,675.5 L344.6,676.5 L343.0,677.3 L341.4,677.8 L339.8,678.3 L338.2,678.6 L336.6,678.7 L335.0,678.7 L333.4,678.6 L331.8,678.3 L330.2,677.8 L328.6,677.3 L327.0,676.5 L325.4,675.5 L323.8,676.5 L322.2,677.3 L320.6,677.8 L319.0,678.3 L317.4,678.6 L315.8,678.7 L314.2,678.7 L312.6,678.6 L311.0,678.3 L309.4,677.9 L307.8,677.3 L306.2,676.6 L304.7,675.6 L303.1,676.5 L301.5,677.2 L299.9,677.8 L298.3,678.3 L296.7,678.6 L295.1,678.7 L293.5,678.7 L291.9,678.6 L290.3,678.3 L288.7,677.9 L287.1,677.3 L285.5,676.6 L283.9,675.6 L282.3,676.5 L280.7,677.2 L279.1,677.8 L277.5,678.3 L275.9,678.6 L274.3,678.7 L272.7,678.7 L271.1,678.6 L269.5,678.3 L267.9,677.9 L266.3,677.3 L264.7,676.6 L263.1,675.6 L261.5,676.5 L259.9,677.2 L258.3,677.8 L256.7,678.3 L255.1,678.6 L253.5,678.7 L251.9,678.7 L250.3,678.6 L248.7,678.3 L247.1,677.9 L245.5,677.3 L243.9,676.6 L242.3,675.7 L240.8,676.5 L239.2,677.2 L237.6,677.8 L236.0,678.2 L234.4,678.6 L232.8,678.7 L231.2,678.7 L229.6,678.6 L228.0,678.3 L226.4,677.9 L224.8,677.3 L223.2,676.6 L221.6,675.7 L220.0,676.4 L218.4,677.2 L216.8,677.8 L215.2,678.2 L213.6,678.6 L212.0,678.7 L210.4,678.7 L208.8,678.6 L207.2,678.3 L205.6,677.9 L204.0,677.3 L202.4,676.6 L200.8,675.7 L199.2,676.4 L197.6,677.2 L196.0,677.8 L194.4,678.2 L192.8,678.5 L191.2,678.7 L189.6,678.7 L188.0,678.6 L186.4,678.3 L184.8,677.9 L183.2,677.4 L181.6,676.7 L180.0,675.7 L178.4,676.4 L176.9,677.2 L175.3,677.8 L173.7,678.2 L172.1,678.5 L170.5,678.7 L168.9,678.7 L167.3,678.6 L165.7,678.3 L164.1,677.9 L162.5,677.4 L160.9,676.7 L159.3,675.8 L157.7,676.4 L156.1,677.1 L154.5,677.7 L152.9,678.2 L151.3,678.5 L149.7,678.7 L148.1,678.7 L146.5,678.6 Z" fill="none" stroke="#22499e" stroke-width="1.0"/>
<path d="M146.5,672.6 L148.1,672.6 L149.7,672.6 L151.3,672.6 L152.9,672.7 L154.5,672.8 L156.1,672.9 L157.7,673.1 L159.3,673.2 L160.9,673.4 L162.5,673.5 L164.1,673.6 L165.7,673.7 L167.3,673.8 L168.9,673.8 L170.5,673.8 L172.1,673.8 L173.7,673.7 L175.3,673.6 L176.9,673.5 L178.4,673.3 L180.0,673.2 L181.6,673.0 L183.2,672.9 L184.8,672.8 L186.4,672.7 L188.0,672.6 L189.6,672.6 L191.2,672.6 L192.8,672.6 L194.4,672.7 L196.0,672.8 L197.6,672.9 L199.2,673.1 L200.8,673.2 L202.4,673.4 L204.0,673.5 L205.6,673.6 L207.2,673.7 L208.8,673.8 L210.4,673.8 L212.0,673.8 L213.6,673.8 L215.2,673.7 L216.8,673.6 L218.4,673.5 L220.0,673.3 L221.6,673.2 L223.2,673.0 L224.8,672.9 L226.4,672.8 L228.0,672.7 L229.6,672.6 L231.2,672.6 L232.8,672.6 L234.4,672.6 L236.0,672.7 L237.6,672.8 L239.2,672.9 L240.8,673.1 L242.3,673.2 L243.9,673.4 L245.5,673.5 L247.1,673.6 L248.7,673.7 L250.3,673.8 L251.9,673.8 L253.5,673.8 L255.1,673.8 L256.7,673.7 L258.3,673.6 L259.9,673.5 L261.5,673.3 L263.1,673.2 L264.7,673.0 L266.3,672.9 L267.9,672.8 L269.5,672.7 L271.1,672.6 L272.7,672.6 L274.3,672.6 L275.9,672.6 L277.5,672.7 L279.1,672.8 L280.7,672.9 L282.3,673.1 L283.9,673.2 L285.5,673.4 L287.1,673.5 L288.7,673.6 L290.3,673.7 L291.9,673.8 L293.5,673.8 L295.1,673.8 L296.7,673.8 L298.3,673.7 L299.9,673.6 L301.5,673.5 L303.1,673.3 L304.7,673.2 L306.2,673.1 L307.8,672.9 L309.4,672.8 L311.0,672.7 L312.6,672.6 L314.2,672.6 L315.8,672.6 L317.4,672.6 L319.0,672.7 L320.6,672.8 L322.2,672.9 L323.8,673.1 L325.4,673.2 L327.0,673.3 L328.6,673.5 L330.2,673.6 L331.8,673.7 L333.4,673.8 L335.0,673.8 L336.6,673.8 L338.2,673.8 L339.8,673.7 L341.4,673.6 L343.0,673.5 L344.6,673.3 L346.2,673.2 L347.8,673.1 L349.4,672.9 L351.0,672.8 L352.6,672.7 L354.2,672.6 L355.8,672.6 L357.4,672.6 L359.0,672.6 L360.6,672.7 L362.2,672.8 L363.8,672.9 L365.4,673.1 L367.0,673.2 L368.6,673.3 L370.1,673.5 L371.7,673.6 L373.3,673.7 L374.9,673.8 L376.5,673.8 L378.1,673.8 L379.7,673.8 L381.3,673.7 L382.9,673.6 L384.5,673.5 L386.1,673.4 L387.7,673.2 L389.3,673.1 L390.9,672.9 L392.5,672.8 L394.1,672.7 L395.7,672.6 L397.3,672.6 L398.9,672.6 L400.5,672.6" fill="none" stroke="#f2aa30" stroke-width="1.4"/>
<path d="M146.20,667.20 Q148.50,669.70 150.50,669.60 L150.50,676.80 Q148.50,676.70 146.20,679.20 Z" fill="#5aa6ee" stroke="#2a5cb4" stroke-width="0.7"/>
<line x1="146.50" y1="673.60" x2="150.50" y2="673.60" stroke="#f0aa36" stroke-width="1.15"/>
<path d="M400.80,667.20 Q398.50,669.70 396.50,669.60 L396.50,676.80 Q398.50,676.70 400.80,679.20 Z" fill="#5aa6ee" stroke="#2a5cb4" stroke-width="0.7"/>
<line x1="396.50" y1="673.60" x2="400.50" y2="673.60" stroke="#f0aa36" stroke-width="1.15"/>
<path d="M186.80,574.20 L187.66,574.16 L188.52,574.04 L189.36,573.84 L190.18,573.57 L190.96,573.22 L191.71,572.81 L192.42,572.32 L193.08,571.78 L193.68,571.19 L194.23,570.55 L194.71,569.87 L195.12,569.16 L195.47,568.42 L195.74,567.66 L195.94,566.90 L196.06,566.14 L196.12,565.38 L196.10,564.64 L196.01,563.93 L195.85,563.25 L195.63,562.61 L195.35,562.02 L195.02,561.48 L194.64,560.99 L194.21,560.58 L193.75,560.23 L193.26,559.96 L192.74,559.76 L192.21,559.64 L191.68,559.60 L191.14,559.64 L190.61,559.76 L190.09,559.96 L189.60,560.23 L189.14,560.58 L188.71,560.99 L188.33,561.48 L188.00,562.02 L187.72,562.61 L187.50,563.25 L187.34,563.93 L187.25,564.64 L187.23,565.38 L187.29,566.14 L187.41,566.90 L187.61,567.66 L187.88,568.42 L188.23,569.16 L188.64,569.87 L189.12,570.55 L189.67,571.19 L190.27,571.78 L190.93,572.32 L191.64,572.81 L192.39,573.22 L193.17,573.57 L193.99,573.84 L194.83,574.04 L195.69,574.16 L196.55,574.20 L197.41,574.16 L198.27,574.04 L199.11,573.84 L199.93,573.57 L200.71,573.22 L201.46,572.81 L202.17,572.32 L202.83,571.78 L203.43,571.19 L203.98,570.55 L204.46,569.87 L204.87,569.16 L205.22,568.42 L205.49,567.66 L205.69,566.90 L205.81,566.14 L205.87,565.38 L205.85,564.64 L205.76,563.93 L205.60,563.25 L205.38,562.61 L205.10,562.02 L204.77,561.48 L204.39,560.99 L203.96,560.58 L203.50,560.23 L203.01,559.96 L202.49,559.76 L201.96,559.64 L201.43,559.60 L200.89,559.64 L200.36,559.76 L199.84,559.96 L199.35,560.23 L198.89,560.58 L198.46,560.99 L198.08,561.48 L197.75,562.02 L197.47,562.61 L197.25,563.25 L197.09,563.93 L197.00,564.64 L196.98,565.38 L197.04,566.14 L197.16,566.90 L197.36,567.66 L197.63,568.42 L197.98,569.16 L198.39,569.87 L198.87,570.55 L199.42,571.19 L200.02,571.78 L200.68,572.32 L201.39,572.81 L202.14,573.22 L202.92,573.57 L203.74,573.84 L204.58,574.04 L205.44,574.16 L206.30,574.20 L207.16,574.16 L208.02,574.04 L208.86,573.84 L209.68,573.57 L210.46,573.22 L211.21,572.81 L211.92,572.32 L212.58,571.78 L213.18,571.19 L213.73,570.55 L214.21,569.87 L214.62,569.16 L214.97,568.42 L215.24,567.66 L215.44,566.90 L215.56,566.14 L215.62,565.38 L215.60,564.64 L215.51,563.93 L215.35,563.25 L215.13,562.61 L214.85,562.02 L214.52,561.48 L214.14,560.99 L213.71,560.58 L213.25,560.23 L212.76,559.96 L212.24,559.76 L211.71,559.64 L211.18,559.60 L210.64,559.64 L210.11,559.76 L209.59,559.96 L209.10,560.23 L208.64,560.58 L208.21,560.99 L207.83,561.48 L207.50,562.02 L207.22,562.61 L207.00,563.25 L206.84,563.93 L206.75,564.64 L206.73,565.38 L206.79,566.14 L206.91,566.90 L207.11,567.66 L207.38,568.42 L207.73,569.16 L208.14,569.87 L208.62,570.55 L209.17,571.19 L209.77,571.78 L210.43,572.32 L211.14,572.81 L211.89,573.22 L212.67,573.57 L213.49,573.84 L214.33,574.04 L215.19,574.16 L216.05,574.20 L216.91,574.16 L217.77,574.04 L218.61,573.84 L219.43,573.57 L220.21,573.22 L220.96,572.81 L221.67,572.32 L222.33,571.78 L222.93,571.19 L223.48,570.55 L223.96,569.87 L224.37,569.16 L224.72,568.42 L224.99,567.66 L225.19,566.90 L225.31,566.14 L225.37,565.38 L225.35,564.64 L225.26,563.93 L225.10,563.25 L224.88,562.61 L224.60,562.02 L224.27,561.48 L223.89,560.99 L223.46,560.58 L223.00,560.23 L222.51,559.96 L221.99,559.76 L221.46,559.64 L220.93,559.60 L220.39,559.64 L219.86,559.76 L219.34,559.96 L218.85,560.23 L218.39,560.58 L217.96,560.99 L217.58,561.48 L217.25,562.02 L216.97,562.61 L216.75,563.25 L216.59,563.93 L216.50,564.64 L216.48,565.38 L216.54,566.14 L216.66,566.90 L216.86,567.66 L217.13,568.42 L217.48,569.16 L217.89,569.87 L218.37,570.55 L218.92,571.19 L219.52,571.78 L220.18,572.32 L220.89,572.81 L221.64,573.22 L222.42,573.57 L223.24,573.84 L224.08,574.04 L224.94,574.16 L225.80,574.20 L226.66,574.16 L227.52,574.04 L228.36,573.84 L229.18,573.57 L229.96,573.22 L230.71,572.81 L231.42,572.32 L232.08,571.78 L232.68,571.19 L233.23,570.55 L233.71,569.87 L234.12,569.16 L234.47,568.42 L234.74,567.66 L234.94,566.90 L235.06,566.14 L235.12,565.38 L235.10,564.64 L235.01,563.93 L234.85,563.25 L234.63,562.61 L234.35,562.02 L234.02,561.48 L233.64,560.99 L233.21,560.58 L232.75,560.23 L232.26,559.96 L231.74,559.76 L231.21,559.64 L230.68,559.60 L230.14,559.64 L229.61,559.76 L229.09,559.96 L228.60,560.23 L228.14,560.58 L227.71,560.99 L227.33,561.48 L227.00,562.02 L226.72,562.61 L226.50,563.25 L226.34,563.93 L226.25,564.64 L226.23,565.38 L226.29,566.14 L226.41,566.90 L226.61,567.66 L226.88,568.42 L227.23,569.16 L227.64,569.87 L228.12,570.55 L228.67,571.19 L229.27,571.78 L229.93,572.32 L230.64,572.81 L231.39,573.22 L232.17,573.57 L232.99,573.84 L233.83,574.04 L234.69,574.16 L235.55,574.20 L236.41,574.16 L237.27,574.04 L238.11,573.84 L238.93,573.57 L239.71,573.22 L240.46,572.81 L241.17,572.32 L241.83,571.78 L242.43,571.19 L242.98,570.55 L243.46,569.87 L243.87,569.16 L244.22,568.42 L244.49,567.66 L244.69,566.90 L244.81,566.14 L244.87,565.38 L244.85,564.64 L244.76,563.93 L244.60,563.25 L244.38,562.61 L244.10,562.02 L243.77,561.48 L243.39,560.99 L242.96,560.58 L242.50,560.23 L242.01,559.96 L241.49,559.76 L240.96,559.64 L240.42,559.60 L239.89,559.64 L239.36,559.76 L238.84,559.96 L238.35,560.23 L237.89,560.58 L237.46,560.99 L237.08,561.48 L236.75,562.02 L236.47,562.61 L236.25,563.25 L236.09,563.93 L236.00,564.64 L235.98,565.38 L236.04,566.14 L236.16,566.90 L236.36,567.66 L236.63,568.42 L236.98,569.16 L237.39,569.87 L237.87,570.55 L238.42,571.19 L239.02,571.78 L239.68,572.32 L240.39,572.81 L241.14,573.22 L241.92,573.57 L242.74,573.84 L243.58,574.04 L244.44,574.16 L245.30,574.20 L246.16,574.16 L247.02,574.04 L247.86,573.84 L248.68,573.57 L249.46,573.22 L250.21,572.81 L250.92,572.32 L251.58,571.78 L252.18,571.19 L252.73,570.55 L253.21,569.87 L253.62,569.16 L253.97,568.42 L254.24,567.66 L254.44,566.90 L254.56,566.14 L254.62,565.38 L254.60,564.64 L254.51,563.93 L254.35,563.25 L254.13,562.61 L253.85,562.02 L253.52,561.48 L253.14,560.99 L252.71,560.58 L252.25,560.23 L251.76,559.96 L251.24,559.76 L250.71,559.64 L250.18,559.60 L249.64,559.64 L249.11,559.76 L248.59,559.96 L248.10,560.23 L247.64,560.58 L247.21,560.99 L246.83,561.48 L246.50,562.02 L246.22,562.61 L246.00,563.25 L245.84,563.93 L245.75,564.64 L245.73,565.38 L245.79,566.14 L245.91,566.90 L246.11,567.66 L246.38,568.42 L246.73,569.16 L247.14,569.87 L247.62,570.55 L248.17,571.19 L248.77,571.78 L249.43,572.32 L250.14,572.81 L250.89,573.22 L251.67,573.57 L252.49,573.84 L253.33,574.04 L254.19,574.16 L255.05,574.20 L255.91,574.16 L256.77,574.04 L257.61,573.84 L258.43,573.57 L259.21,573.22 L259.96,572.81 L260.67,572.32 L261.33,571.78 L261.93,571.19 L262.48,570.55 L262.96,569.87 L263.37,569.16 L263.72,568.42 L263.99,567.66 L264.19,566.90 L264.31,566.14 L264.37,565.38 L264.35,564.64 L264.26,563.93 L264.10,563.25 L263.88,562.61 L263.60,562.02 L263.27,561.48 L262.89,560.99 L262.46,560.58 L262.00,560.23 L261.51,559.96 L260.99,559.76 L260.46,559.64 L259.93,559.60 L259.39,559.64 L258.86,559.76 L258.34,559.96 L257.85,560.23 L257.39,560.58 L256.96,560.99 L256.58,561.48 L256.25,562.02 L255.97,562.61 L255.75,563.25 L255.59,563.93 L255.50,564.64 L255.48,565.38 L255.54,566.14 L255.66,566.90 L255.86,567.66 L256.13,568.42 L256.48,569.16 L256.89,569.87 L257.37,570.55 L257.92,571.19 L258.52,571.78 L259.18,572.32 L259.89,572.81 L260.64,573.22 L261.42,573.57 L262.24,573.84 L263.08,574.04 L263.94,574.16 L264.80,574.20 L265.66,574.16 L266.52,574.04 L267.36,573.84 L268.18,573.57 L268.96,573.22 L269.71,572.81 L270.42,572.32 L271.08,571.78 L271.68,571.19 L272.23,570.55 L272.71,569.87 L273.12,569.16 L273.47,568.42 L273.74,567.66 L273.94,566.90 L274.06,566.14 L274.12,565.38 L274.10,564.64 L274.01,563.93 L273.85,563.25 L273.63,562.61 L273.35,562.02 L273.02,561.48 L272.64,560.99 L272.21,560.58 L271.75,560.23 L271.26,559.96 L270.74,559.76 L270.21,559.64 L269.68,559.60 L269.14,559.64 L268.61,559.76 L268.09,559.96 L267.60,560.23 L267.14,560.58 L266.71,560.99 L266.33,561.48 L266.00,562.02 L265.72,562.61 L265.50,563.25 L265.34,563.93 L265.25,564.64 L265.23,565.38 L265.29,566.14 L265.41,566.90 L265.61,567.66 L265.88,568.42 L266.23,569.16 L266.64,569.87 L267.12,570.55 L267.67,571.19 L268.27,571.78 L268.93,572.32 L269.64,572.81 L270.39,573.22 L271.17,573.57 L271.99,573.84 L272.83,574.04 L273.69,574.16 L274.55,574.20" fill="none" stroke="#a82424" stroke-width="1.45"/>
<path d="M186.80,640.80 L187.66,640.76 L188.52,640.64 L189.36,640.44 L190.18,640.17 L190.96,639.82 L191.71,639.41 L192.42,638.92 L193.08,638.38 L193.68,637.79 L194.23,637.15 L194.71,636.47 L195.12,635.76 L195.47,635.02 L195.74,634.26 L195.94,633.50 L196.06,632.74 L196.12,631.98 L196.10,631.24 L196.01,630.53 L195.85,629.85 L195.63,629.21 L195.35,628.62 L195.02,628.08 L194.64,627.59 L194.21,627.18 L193.75,626.83 L193.26,626.56 L192.74,626.36 L192.21,626.24 L191.68,626.20 L191.14,626.24 L190.61,626.36 L190.09,626.56 L189.60,626.83 L189.14,627.18 L188.71,627.59 L188.33,628.08 L188.00,628.62 L187.72,629.21 L187.50,629.85 L187.34,630.53 L187.25,631.24 L187.23,631.98 L187.29,632.74 L187.41,633.50 L187.61,634.26 L187.88,635.02 L188.23,635.76 L188.64,636.47 L189.12,637.15 L189.67,637.79 L190.27,638.38 L190.93,638.92 L191.64,639.41 L192.39,639.82 L193.17,640.17 L193.99,640.44 L194.83,640.64 L195.69,640.76 L196.55,640.80 L197.41,640.76 L198.27,640.64 L199.11,640.44 L199.93,640.17 L200.71,639.82 L201.46,639.41 L202.17,638.92 L202.83,638.38 L203.43,637.79 L203.98,637.15 L204.46,636.47 L204.87,635.76 L205.22,635.02 L205.49,634.26 L205.69,633.50 L205.81,632.74 L205.87,631.98 L205.85,631.24 L205.76,630.53 L205.60,629.85 L205.38,629.21 L205.10,628.62 L204.77,628.08 L204.39,627.59 L203.96,627.18 L203.50,626.83 L203.01,626.56 L202.49,626.36 L201.96,626.24 L201.43,626.20 L200.89,626.24 L200.36,626.36 L199.84,626.56 L199.35,626.83 L198.89,627.18 L198.46,627.59 L198.08,628.08 L197.75,628.62 L197.47,629.21 L197.25,629.85 L197.09,630.53 L197.00,631.24 L196.98,631.98 L197.04,632.74 L197.16,633.50 L197.36,634.26 L197.63,635.02 L197.98,635.76 L198.39,636.47 L198.87,637.15 L199.42,637.79 L200.02,638.38 L200.68,638.92 L201.39,639.41 L202.14,639.82 L202.92,640.17 L203.74,640.44 L204.58,640.64 L205.44,640.76 L206.30,640.80 L207.16,640.76 L208.02,640.64 L208.86,640.44 L209.68,640.17 L210.46,639.82 L211.21,639.41 L211.92,638.92 L212.58,638.38 L213.18,637.79 L213.73,637.15 L214.21,636.47 L214.62,635.76 L214.97,635.02 L215.24,634.26 L215.44,633.50 L215.56,632.74 L215.62,631.98 L215.60,631.24 L215.51,630.53 L215.35,629.85 L215.13,629.21 L214.85,628.62 L214.52,628.08 L214.14,627.59 L213.71,627.18 L213.25,626.83 L212.76,626.56 L212.24,626.36 L211.71,626.24 L211.18,626.20 L210.64,626.24 L210.11,626.36 L209.59,626.56 L209.10,626.83 L208.64,627.18 L208.21,627.59 L207.83,628.08 L207.50,628.62 L207.22,629.21 L207.00,629.85 L206.84,630.53 L206.75,631.24 L206.73,631.98 L206.79,632.74 L206.91,633.50 L207.11,634.26 L207.38,635.02 L207.73,635.76 L208.14,636.47 L208.62,637.15 L209.17,637.79 L209.77,638.38 L210.43,638.92 L211.14,639.41 L211.89,639.82 L212.67,640.17 L213.49,640.44 L214.33,640.64 L215.19,640.76 L216.05,640.80 L216.91,640.76 L217.77,640.64 L218.61,640.44 L219.43,640.17 L220.21,639.82 L220.96,639.41 L221.67,638.92 L222.33,638.38 L222.93,637.79 L223.48,637.15 L223.96,636.47 L224.37,635.76 L224.72,635.02 L224.99,634.26 L225.19,633.50 L225.31,632.74 L225.37,631.98 L225.35,631.24 L225.26,630.53 L225.10,629.85 L224.88,629.21 L224.60,628.62 L224.27,628.08 L223.89,627.59 L223.46,627.18 L223.00,626.83 L222.51,626.56 L221.99,626.36 L221.46,626.24 L220.93,626.20 L220.39,626.24 L219.86,626.36 L219.34,626.56 L218.85,626.83 L218.39,627.18 L217.96,627.59 L217.58,628.08 L217.25,628.62 L216.97,629.21 L216.75,629.85 L216.59,630.53 L216.50,631.24 L216.48,631.98 L216.54,632.74 L216.66,633.50 L216.86,634.26 L217.13,635.02 L217.48,635.76 L217.89,636.47 L218.37,637.15 L218.92,637.79 L219.52,638.38 L220.18,638.92 L220.89,639.41 L221.64,639.82 L222.42,640.17 L223.24,640.44 L224.08,640.64 L224.94,640.76 L225.80,640.80 L226.66,640.76 L227.52,640.64 L228.36,640.44 L229.18,640.17 L229.96,639.82 L230.71,639.41 L231.42,638.92 L232.08,638.38 L232.68,637.79 L233.23,637.15 L233.71,636.47 L234.12,635.76 L234.47,635.02 L234.74,634.26 L234.94,633.50 L235.06,632.74 L235.12,631.98 L235.10,631.24 L235.01,630.53 L234.85,629.85 L234.63,629.21 L234.35,628.62 L234.02,628.08 L233.64,627.59 L233.21,627.18 L232.75,626.83 L232.26,626.56 L231.74,626.36 L231.21,626.24 L230.68,626.20 L230.14,626.24 L229.61,626.36 L229.09,626.56 L228.60,626.83 L228.14,627.18 L227.71,627.59 L227.33,628.08 L227.00,628.62 L226.72,629.21 L226.50,629.85 L226.34,630.53 L226.25,631.24 L226.23,631.98 L226.29,632.74 L226.41,633.50 L226.61,634.26 L226.88,635.02 L227.23,635.76 L227.64,636.47 L228.12,637.15 L228.67,637.79 L229.27,638.38 L229.93,638.92 L230.64,639.41 L231.39,639.82 L232.17,640.17 L232.99,640.44 L233.83,640.64 L234.69,640.76 L235.55,640.80 L236.41,640.76 L237.27,640.64 L238.11,640.44 L238.93,640.17 L239.71,639.82 L240.46,639.41 L241.17,638.92 L241.83,638.38 L242.43,637.79 L242.98,637.15 L243.46,636.47 L243.87,635.76 L244.22,635.02 L244.49,634.26 L244.69,633.50 L244.81,632.74 L244.87,631.98 L244.85,631.24 L244.76,630.53 L244.60,629.85 L244.38,629.21 L244.10,628.62 L243.77,628.08 L243.39,627.59 L242.96,627.18 L242.50,626.83 L242.01,626.56 L241.49,626.36 L240.96,626.24 L240.42,626.20 L239.89,626.24 L239.36,626.36 L238.84,626.56 L238.35,626.83 L237.89,627.18 L237.46,627.59 L237.08,628.08 L236.75,628.62 L236.47,629.21 L236.25,629.85 L236.09,630.53 L236.00,631.24 L235.98,631.98 L236.04,632.74 L236.16,633.50 L236.36,634.26 L236.63,635.02 L236.98,635.76 L237.39,636.47 L237.87,637.15 L238.42,637.79 L239.02,638.38 L239.68,638.92 L240.39,639.41 L241.14,639.82 L241.92,640.17 L242.74,640.44 L243.58,640.64 L244.44,640.76 L245.30,640.80 L246.16,640.76 L247.02,640.64 L247.86,640.44 L248.68,640.17 L249.46,639.82 L250.21,639.41 L250.92,638.92 L251.58,638.38 L252.18,637.79 L252.73,637.15 L253.21,636.47 L253.62,635.76 L253.97,635.02 L254.24,634.26 L254.44,633.50 L254.56,632.74 L254.62,631.98 L254.60,631.24 L254.51,630.53 L254.35,629.85 L254.13,629.21 L253.85,628.62 L253.52,628.08 L253.14,627.59 L252.71,627.18 L252.25,626.83 L251.76,626.56 L251.24,626.36 L250.71,626.24 L250.18,626.20 L249.64,626.24 L249.11,626.36 L248.59,626.56 L248.10,626.83 L247.64,627.18 L247.21,627.59 L246.83,628.08 L246.50,628.62 L246.22,629.21 L246.00,629.85 L245.84,630.53 L245.75,631.24 L245.73,631.98 L245.79,632.74 L245.91,633.50 L246.11,634.26 L246.38,635.02 L246.73,635.76 L247.14,636.47 L247.62,637.15 L248.17,637.79 L248.77,638.38 L249.43,638.92 L250.14,639.41 L250.89,639.82 L251.67,640.17 L252.49,640.44 L253.33,640.64 L254.19,640.76 L255.05,640.80 L255.91,640.76 L256.77,640.64 L257.61,640.44 L258.43,640.17 L259.21,639.82 L259.96,639.41 L260.67,638.92 L261.33,638.38 L261.93,637.79 L262.48,637.15 L262.96,636.47 L263.37,635.76 L263.72,635.02 L263.99,634.26 L264.19,633.50 L264.31,632.74 L264.37,631.98 L264.35,631.24 L264.26,630.53 L264.10,629.85 L263.88,629.21 L263.60,628.62 L263.27,628.08 L262.89,627.59 L262.46,627.18 L262.00,626.83 L261.51,626.56 L260.99,626.36 L260.46,626.24 L259.93,626.20 L259.39,626.24 L258.86,626.36 L258.34,626.56 L257.85,626.83 L257.39,627.18 L256.96,627.59 L256.58,628.08 L256.25,628.62 L255.97,629.21 L255.75,629.85 L255.59,630.53 L255.50,631.24 L255.48,631.98 L255.54,632.74 L255.66,633.50 L255.86,634.26 L256.13,635.02 L256.48,635.76 L256.89,636.47 L257.37,637.15 L257.92,637.79 L258.52,638.38 L259.18,638.92 L259.89,639.41 L260.64,639.82 L261.42,640.17 L262.24,640.44 L263.08,640.64 L263.94,640.76 L264.80,640.80 L265.66,640.76 L266.52,640.64 L267.36,640.44 L268.18,640.17 L268.96,639.82 L269.71,639.41 L270.42,638.92 L271.08,638.38 L271.68,637.79 L272.23,637.15 L272.71,636.47 L273.12,635.76 L273.47,635.02 L273.74,634.26 L273.94,633.50 L274.06,632.74 L274.12,631.98 L274.10,631.24 L274.01,630.53 L273.85,629.85 L273.63,629.21 L273.35,628.62 L273.02,628.08 L272.64,627.59 L272.21,627.18 L271.75,626.83 L271.26,626.56 L270.74,626.36 L270.21,626.24 L269.68,626.20 L269.14,626.24 L268.61,626.36 L268.09,626.56 L267.60,626.83 L267.14,627.18 L266.71,627.59 L266.33,628.08 L266.00,628.62 L265.72,629.21 L265.50,629.85 L265.34,630.53 L265.25,631.24 L265.23,631.98 L265.29,632.74 L265.41,633.50 L265.61,634.26 L265.88,635.02 L266.23,635.76 L266.64,636.47 L267.12,637.15 L267.67,637.79 L268.27,638.38 L268.93,638.92 L269.64,639.41 L270.39,639.82 L271.17,640.17 L271.99,640.44 L272.83,640.64 L273.69,640.76 L274.55,640.80" fill="none" stroke="#a82424" stroke-width="1.45"/>
<path d="M310.50,569.60 C310.30,566.36 310.10,562.40 307.90,562.40 C305.90,562.40 305.60,564.40 305.80,566.00" fill="none" stroke="#3a7a34" stroke-width="4.5" stroke-linecap="round"/>
<path d="M320.30,569.60 C320.10,566.68 319.90,563.12 317.70,563.12 C315.70,563.12 315.40,565.12 315.60,566.72" fill="none" stroke="#3a7a34" stroke-width="4.5" stroke-linecap="round"/>
<path d="M329.80,569.60 C329.60,567.27 329.40,564.42 327.20,564.42 C325.20,564.42 324.90,566.42 325.10,568.02" fill="none" stroke="#3a7a34" stroke-width="4.5" stroke-linecap="round"/>
<path d="M356.10,569.60 C355.90,566.36 355.70,562.40 353.50,562.40 C351.50,562.40 351.20,564.40 351.40,566.00" fill="none" stroke="#3a7a34" stroke-width="4.5" stroke-linecap="round"/>
<path d="M365.90,569.60 C365.70,566.68 365.50,563.12 363.30,563.12 C361.30,563.12 361.00,565.12 361.20,566.72" fill="none" stroke="#3a7a34" stroke-width="4.5" stroke-linecap="round"/>
<path d="M375.40,569.60 C375.20,567.27 375.00,564.42 372.80,564.42 C370.80,564.42 370.50,566.42 370.70,568.02" fill="none" stroke="#3a7a34" stroke-width="4.5" stroke-linecap="round"/>
<path d="M401.70,569.60 C401.50,566.36 401.30,562.40 399.10,562.40 C397.10,562.40 396.80,564.40 397.00,566.00" fill="none" stroke="#3a7a34" stroke-width="4.5" stroke-linecap="round"/>
<path d="M411.50,569.60 C411.30,566.68 411.10,563.12 408.90,563.12 C406.90,563.12 406.60,565.12 406.80,566.72" fill="none" stroke="#3a7a34" stroke-width="4.5" stroke-linecap="round"/>
<path d="M421.00,569.60 C420.80,567.27 420.60,564.42 418.40,564.42 C416.40,564.42 416.10,566.42 416.30,568.02" fill="none" stroke="#3a7a34" stroke-width="4.5" stroke-linecap="round"/>
<path d="M447.30,569.60 C447.10,566.36 446.90,562.40 444.70,562.40 C442.70,562.40 442.40,564.40 442.60,566.00" fill="none" stroke="#3a7a34" stroke-width="4.5" stroke-linecap="round"/>
<path d="M457.10,569.60 C456.90,566.68 456.70,563.12 454.50,563.12 C452.50,563.12 452.20,565.12 452.40,566.72" fill="none" stroke="#3a7a34" stroke-width="4.5" stroke-linecap="round"/>
<path d="M466.60,569.60 C466.40,567.27 466.20,564.42 464.00,564.42 C462.00,564.42 461.70,566.42 461.90,568.02" fill="none" stroke="#3a7a34" stroke-width="4.5" stroke-linecap="round"/>
<path d="M541.00,569.60 C540.80,566.36 540.60,562.40 538.40,562.40 C536.40,562.40 536.10,564.40 536.30,566.00" fill="none" stroke="#3a7a34" stroke-width="4.5" stroke-linecap="round"/>
<path d="M550.80,569.60 C550.60,566.68 550.40,563.12 548.20,563.12 C546.20,563.12 545.90,565.12 546.10,566.72" fill="none" stroke="#3a7a34" stroke-width="4.5" stroke-linecap="round"/>
<path d="M332.00,579.60 C331.80,582.03 331.60,585.00 329.40,585.00 C327.40,585.00 327.10,583.00 327.30,581.40" fill="none" stroke="#3a7a34" stroke-width="4.5" stroke-linecap="round"/>
<path d="M341.50,579.60 C341.30,582.52 341.10,586.08 338.90,586.08 C336.90,586.08 336.60,584.08 336.80,582.48" fill="none" stroke="#3a7a34" stroke-width="4.5" stroke-linecap="round"/>
<path d="M351.00,579.60 C350.80,582.84 350.60,586.80 348.40,586.80 C346.40,586.80 346.10,584.80 346.30,583.20" fill="none" stroke="#3a7a34" stroke-width="4.5" stroke-linecap="round"/>
<path d="M377.60,579.60 C377.40,582.03 377.20,585.00 375.00,585.00 C373.00,585.00 372.70,583.00 372.90,581.40" fill="none" stroke="#3a7a34" stroke-width="4.5" stroke-linecap="round"/>
<path d="M387.10,579.60 C386.90,582.52 386.70,586.08 384.50,586.08 C382.50,586.08 382.20,584.08 382.40,582.48" fill="none" stroke="#3a7a34" stroke-width="4.5" stroke-linecap="round"/>
<path d="M396.60,579.60 C396.40,582.84 396.20,586.80 394.00,586.80 C392.00,586.80 391.70,584.80 391.90,583.20" fill="none" stroke="#3a7a34" stroke-width="4.5" stroke-linecap="round"/>
<path d="M423.20,579.60 C423.00,582.03 422.80,585.00 420.60,585.00 C418.60,585.00 418.30,583.00 418.50,581.40" fill="none" stroke="#3a7a34" stroke-width="4.5" stroke-linecap="round"/>
<path d="M432.70,579.60 C432.50,582.52 432.30,586.08 430.10,586.08 C428.10,586.08 427.80,584.08 428.00,582.48" fill="none" stroke="#3a7a34" stroke-width="4.5" stroke-linecap="round"/>
<path d="M442.20,579.60 C442.00,582.84 441.80,586.80 439.60,586.80 C437.60,586.80 437.30,584.80 437.50,583.20" fill="none" stroke="#3a7a34" stroke-width="4.5" stroke-linecap="round"/>
<path d="M468.80,579.60 C468.60,582.03 468.40,585.00 466.20,585.00 C464.20,585.00 463.90,583.00 464.10,581.40" fill="none" stroke="#3a7a34" stroke-width="4.5" stroke-linecap="round"/>
<path d="M478.30,579.60 C478.10,582.52 477.90,586.08 475.70,586.08 C473.70,586.08 473.40,584.08 473.60,582.48" fill="none" stroke="#3a7a34" stroke-width="4.5" stroke-linecap="round"/>
<path d="M487.80,579.60 C487.60,582.84 487.40,586.80 485.20,586.80 C483.20,586.80 482.90,584.80 483.10,583.20" fill="none" stroke="#3a7a34" stroke-width="4.5" stroke-linecap="round"/>
<path d="M514.40,579.60 C514.20,582.03 514.00,585.00 511.80,585.00 C509.80,585.00 509.50,583.00 509.70,581.40" fill="none" stroke="#3a7a34" stroke-width="4.5" stroke-linecap="round"/>
<path d="M523.90,579.60 C523.70,582.52 523.50,586.08 521.30,586.08 C519.30,586.08 519.00,584.08 519.20,582.48" fill="none" stroke="#3a7a34" stroke-width="4.5" stroke-linecap="round"/>
<path d="M533.40,579.60 C533.20,582.84 533.00,586.80 530.80,586.80 C528.80,586.80 528.50,584.80 528.70,583.20" fill="none" stroke="#3a7a34" stroke-width="4.5" stroke-linecap="round"/>
<path d="M309.00,579.60 C308.80,582.68 308.60,586.44 306.40,586.44 C304.40,586.44 304.10,584.44 304.30,582.84" fill="none" stroke="#3a7a34" stroke-width="4.5" stroke-linecap="round"/>
<path d="M310.50,569.60 C310.30,566.36 310.10,562.40 307.90,562.40 C305.90,562.40 305.60,564.40 305.80,566.00" fill="none" stroke="#5eac4c" stroke-width="3.3" stroke-linecap="round"/>
<path d="M320.30,569.60 C320.10,566.68 319.90,563.12 317.70,563.12 C315.70,563.12 315.40,565.12 315.60,566.72" fill="none" stroke="#5eac4c" stroke-width="3.3" stroke-linecap="round"/>
<path d="M329.80,569.60 C329.60,567.27 329.40,564.42 327.20,564.42 C325.20,564.42 324.90,566.42 325.10,568.02" fill="none" stroke="#5eac4c" stroke-width="3.3" stroke-linecap="round"/>
<path d="M356.10,569.60 C355.90,566.36 355.70,562.40 353.50,562.40 C351.50,562.40 351.20,564.40 351.40,566.00" fill="none" stroke="#5eac4c" stroke-width="3.3" stroke-linecap="round"/>
<path d="M365.90,569.60 C365.70,566.68 365.50,563.12 363.30,563.12 C361.30,563.12 361.00,565.12 361.20,566.72" fill="none" stroke="#5eac4c" stroke-width="3.3" stroke-linecap="round"/>
<path d="M375.40,569.60 C375.20,567.27 375.00,564.42 372.80,564.42 C370.80,564.42 370.50,566.42 370.70,568.02" fill="none" stroke="#5eac4c" stroke-width="3.3" stroke-linecap="round"/>
<path d="M401.70,569.60 C401.50,566.36 401.30,562.40 399.10,562.40 C397.10,562.40 396.80,564.40 397.00,566.00" fill="none" stroke="#5eac4c" stroke-width="3.3" stroke-linecap="round"/>
<path d="M411.50,569.60 C411.30,566.68 411.10,563.12 408.90,563.12 C406.90,563.12 406.60,565.12 406.80,566.72" fill="none" stroke="#5eac4c" stroke-width="3.3" stroke-linecap="round"/>
<path d="M421.00,569.60 C420.80,567.27 420.60,564.42 418.40,564.42 C416.40,564.42 416.10,566.42 416.30,568.02" fill="none" stroke="#5eac4c" stroke-width="3.3" stroke-linecap="round"/>
<path d="M447.30,569.60 C447.10,566.36 446.90,562.40 444.70,562.40 C442.70,562.40 442.40,564.40 442.60,566.00" fill="none" stroke="#5eac4c" stroke-width="3.3" stroke-linecap="round"/>
<path d="M457.10,569.60 C456.90,566.68 456.70,563.12 454.50,563.12 C452.50,563.12 452.20,565.12 452.40,566.72" fill="none" stroke="#5eac4c" stroke-width="3.3" stroke-linecap="round"/>
<path d="M466.60,569.60 C466.40,567.27 466.20,564.42 464.00,564.42 C462.00,564.42 461.70,566.42 461.90,568.02" fill="none" stroke="#5eac4c" stroke-width="3.3" stroke-linecap="round"/>
<path d="M541.00,569.60 C540.80,566.36 540.60,562.40 538.40,562.40 C536.40,562.40 536.10,564.40 536.30,566.00" fill="none" stroke="#5eac4c" stroke-width="3.3" stroke-linecap="round"/>
<path d="M550.80,569.60 C550.60,566.68 550.40,563.12 548.20,563.12 C546.20,563.12 545.90,565.12 546.10,566.72" fill="none" stroke="#5eac4c" stroke-width="3.3" stroke-linecap="round"/>
<path d="M332.00,579.60 C331.80,582.03 331.60,585.00 329.40,585.00 C327.40,585.00 327.10,583.00 327.30,581.40" fill="none" stroke="#5eac4c" stroke-width="3.3" stroke-linecap="round"/>
<path d="M341.50,579.60 C341.30,582.52 341.10,586.08 338.90,586.08 C336.90,586.08 336.60,584.08 336.80,582.48" fill="none" stroke="#5eac4c" stroke-width="3.3" stroke-linecap="round"/>
<path d="M351.00,579.60 C350.80,582.84 350.60,586.80 348.40,586.80 C346.40,586.80 346.10,584.80 346.30,583.20" fill="none" stroke="#5eac4c" stroke-width="3.3" stroke-linecap="round"/>
<path d="M377.60,579.60 C377.40,582.03 377.20,585.00 375.00,585.00 C373.00,585.00 372.70,583.00 372.90,581.40" fill="none" stroke="#5eac4c" stroke-width="3.3" stroke-linecap="round"/>
<path d="M387.10,579.60 C386.90,582.52 386.70,586.08 384.50,586.08 C382.50,586.08 382.20,584.08 382.40,582.48" fill="none" stroke="#5eac4c" stroke-width="3.3" stroke-linecap="round"/>
<path d="M396.60,579.60 C396.40,582.84 396.20,586.80 394.00,586.80 C392.00,586.80 391.70,584.80 391.90,583.20" fill="none" stroke="#5eac4c" stroke-width="3.3" stroke-linecap="round"/>
<path d="M423.20,579.60 C423.00,582.03 422.80,585.00 420.60,585.00 C418.60,585.00 418.30,583.00 418.50,581.40" fill="none" stroke="#5eac4c" stroke-width="3.3" stroke-linecap="round"/>
<path d="M432.70,579.60 C432.50,582.52 432.30,586.08 430.10,586.08 C428.10,586.08 427.80,584.08 428.00,582.48" fill="none" stroke="#5eac4c" stroke-width="3.3" stroke-linecap="round"/>
<path d="M442.20,579.60 C442.00,582.84 441.80,586.80 439.60,586.80 C437.60,586.80 437.30,584.80 437.50,583.20" fill="none" stroke="#5eac4c" stroke-width="3.3" stroke-linecap="round"/>
<path d="M468.80,579.60 C468.60,582.03 468.40,585.00 466.20,585.00 C464.20,585.00 463.90,583.00 464.10,581.40" fill="none" stroke="#5eac4c" stroke-width="3.3" stroke-linecap="round"/>
<path d="M478.30,579.60 C478.10,582.52 477.90,586.08 475.70,586.08 C473.70,586.08 473.40,584.08 473.60,582.48" fill="none" stroke="#5eac4c" stroke-width="3.3" stroke-linecap="round"/>
<path d="M487.80,579.60 C487.60,582.84 487.40,586.80 485.20,586.80 C483.20,586.80 482.90,584.80 483.10,583.20" fill="none" stroke="#5eac4c" stroke-width="3.3" stroke-linecap="round"/>
<path d="M514.40,579.60 C514.20,582.03 514.00,585.00 511.80,585.00 C509.80,585.00 509.50,583.00 509.70,581.40" fill="none" stroke="#5eac4c" stroke-width="3.3" stroke-linecap="round"/>
<path d="M523.90,579.60 C523.70,582.52 523.50,586.08 521.30,586.08 C519.30,586.08 519.00,584.08 519.20,582.48" fill="none" stroke="#5eac4c" stroke-width="3.3" stroke-linecap="round"/>
<path d="M533.40,579.60 C533.20,582.84 533.00,586.80 530.80,586.80 C528.80,586.80 528.50,584.80 528.70,583.20" fill="none" stroke="#5eac4c" stroke-width="3.3" stroke-linecap="round"/>
<path d="M309.00,579.60 C308.80,582.68 308.60,586.44 306.40,586.44 C304.40,586.44 304.10,584.44 304.30,582.84" fill="none" stroke="#5eac4c" stroke-width="3.3" stroke-linecap="round"/>
<rect x="302.5" y="569.4" width="254.5" height="10.4" rx="2" fill="#56a646" stroke="#2f6f2f" stroke-width="0.7"/>
<line x1="304.50" y1="572.00" x2="556.00" y2="572.00" stroke="#3f8a34" stroke-width="0.5"/>
<line x1="304.50" y1="574.60" x2="556.00" y2="574.60" stroke="#3f8a34" stroke-width="0.5"/>
<line x1="304.50" y1="577.20" x2="556.00" y2="577.20" stroke="#3f8a34" stroke-width="0.5"/>
<path d="M302.5,575.1 C342.5,577.6 372.5,572.6 412.5,575.6 S492.5,573.6 552,575.1" fill="none" stroke="#9a2a1a" stroke-width="1.1"/>
<path d="M310.50,636.80 C310.30,633.56 310.10,629.60 307.90,629.60 C305.90,629.60 305.60,631.60 305.80,633.20" fill="none" stroke="#3a7a34" stroke-width="4.5" stroke-linecap="round"/>
<path d="M320.30,636.80 C320.10,633.88 319.90,630.32 317.70,630.32 C315.70,630.32 315.40,632.32 315.60,633.92" fill="none" stroke="#3a7a34" stroke-width="4.5" stroke-linecap="round"/>
<path d="M329.80,636.80 C329.60,634.47 329.40,631.62 327.20,631.62 C325.20,631.62 324.90,633.62 325.10,635.22" fill="none" stroke="#3a7a34" stroke-width="4.5" stroke-linecap="round"/>
<path d="M356.10,636.80 C355.90,633.56 355.70,629.60 353.50,629.60 C351.50,629.60 351.20,631.60 351.40,633.20" fill="none" stroke="#3a7a34" stroke-width="4.5" stroke-linecap="round"/>
<path d="M365.90,636.80 C365.70,633.88 365.50,630.32 363.30,630.32 C361.30,630.32 361.00,632.32 361.20,633.92" fill="none" stroke="#3a7a34" stroke-width="4.5" stroke-linecap="round"/>
<path d="M375.40,636.80 C375.20,634.47 375.00,631.62 372.80,631.62 C370.80,631.62 370.50,633.62 370.70,635.22" fill="none" stroke="#3a7a34" stroke-width="4.5" stroke-linecap="round"/>
<path d="M401.70,636.80 C401.50,633.56 401.30,629.60 399.10,629.60 C397.10,629.60 396.80,631.60 397.00,633.20" fill="none" stroke="#3a7a34" stroke-width="4.5" stroke-linecap="round"/>
<path d="M411.50,636.80 C411.30,633.88 411.10,630.32 408.90,630.32 C406.90,630.32 406.60,632.32 406.80,633.92" fill="none" stroke="#3a7a34" stroke-width="4.5" stroke-linecap="round"/>
<path d="M421.00,636.80 C420.80,634.47 420.60,631.62 418.40,631.62 C416.40,631.62 416.10,633.62 416.30,635.22" fill="none" stroke="#3a7a34" stroke-width="4.5" stroke-linecap="round"/>
<path d="M447.30,636.80 C447.10,633.56 446.90,629.60 444.70,629.60 C442.70,629.60 442.40,631.60 442.60,633.20" fill="none" stroke="#3a7a34" stroke-width="4.5" stroke-linecap="round"/>
<path d="M457.10,636.80 C456.90,633.88 456.70,630.32 454.50,630.32 C452.50,630.32 452.20,632.32 452.40,633.92" fill="none" stroke="#3a7a34" stroke-width="4.5" stroke-linecap="round"/>
<path d="M466.60,636.80 C466.40,634.47 466.20,631.62 464.00,631.62 C462.00,631.62 461.70,633.62 461.90,635.22" fill="none" stroke="#3a7a34" stroke-width="4.5" stroke-linecap="round"/>
<path d="M541.00,636.80 C540.80,633.56 540.60,629.60 538.40,629.60 C536.40,629.60 536.10,631.60 536.30,633.20" fill="none" stroke="#3a7a34" stroke-width="4.5" stroke-linecap="round"/>
<path d="M550.80,636.80 C550.60,633.88 550.40,630.32 548.20,630.32 C546.20,630.32 545.90,632.32 546.10,633.92" fill="none" stroke="#3a7a34" stroke-width="4.5" stroke-linecap="round"/>
<path d="M332.00,646.80 C331.80,649.23 331.60,652.20 329.40,652.20 C327.40,652.20 327.10,650.20 327.30,648.60" fill="none" stroke="#3a7a34" stroke-width="4.5" stroke-linecap="round"/>
<path d="M341.50,646.80 C341.30,649.72 341.10,653.28 338.90,653.28 C336.90,653.28 336.60,651.28 336.80,649.68" fill="none" stroke="#3a7a34" stroke-width="4.5" stroke-linecap="round"/>
<path d="M351.00,646.80 C350.80,650.04 350.60,654.00 348.40,654.00 C346.40,654.00 346.10,652.00 346.30,650.40" fill="none" stroke="#3a7a34" stroke-width="4.5" stroke-linecap="round"/>
<path d="M377.60,646.80 C377.40,649.23 377.20,652.20 375.00,652.20 C373.00,652.20 372.70,650.20 372.90,648.60" fill="none" stroke="#3a7a34" stroke-width="4.5" stroke-linecap="round"/>
<path d="M387.10,646.80 C386.90,649.72 386.70,653.28 384.50,653.28 C382.50,653.28 382.20,651.28 382.40,649.68" fill="none" stroke="#3a7a34" stroke-width="4.5" stroke-linecap="round"/>
<path d="M396.60,646.80 C396.40,650.04 396.20,654.00 394.00,654.00 C392.00,654.00 391.70,652.00 391.90,650.40" fill="none" stroke="#3a7a34" stroke-width="4.5" stroke-linecap="round"/>
<path d="M423.20,646.80 C423.00,649.23 422.80,652.20 420.60,652.20 C418.60,652.20 418.30,650.20 418.50,648.60" fill="none" stroke="#3a7a34" stroke-width="4.5" stroke-linecap="round"/>
<path d="M432.70,646.80 C432.50,649.72 432.30,653.28 430.10,653.28 C428.10,653.28 427.80,651.28 428.00,649.68" fill="none" stroke="#3a7a34" stroke-width="4.5" stroke-linecap="round"/>
<path d="M442.20,646.80 C442.00,650.04 441.80,654.00 439.60,654.00 C437.60,654.00 437.30,652.00 437.50,650.40" fill="none" stroke="#3a7a34" stroke-width="4.5" stroke-linecap="round"/>
<path d="M468.80,646.80 C468.60,649.23 468.40,652.20 466.20,652.20 C464.20,652.20 463.90,650.20 464.10,648.60" fill="none" stroke="#3a7a34" stroke-width="4.5" stroke-linecap="round"/>
<path d="M478.30,646.80 C478.10,649.72 477.90,653.28 475.70,653.28 C473.70,653.28 473.40,651.28 473.60,649.68" fill="none" stroke="#3a7a34" stroke-width="4.5" stroke-linecap="round"/>
<path d="M487.80,646.80 C487.60,650.04 487.40,654.00 485.20,654.00 C483.20,654.00 482.90,652.00 483.10,650.40" fill="none" stroke="#3a7a34" stroke-width="4.5" stroke-linecap="round"/>
<path d="M514.40,646.80 C514.20,649.23 514.00,652.20 511.80,652.20 C509.80,652.20 509.50,650.20 509.70,648.60" fill="none" stroke="#3a7a34" stroke-width="4.5" stroke-linecap="round"/>
<path d="M523.90,646.80 C523.70,649.72 523.50,653.28 521.30,653.28 C519.30,653.28 519.00,651.28 519.20,649.68" fill="none" stroke="#3a7a34" stroke-width="4.5" stroke-linecap="round"/>
<path d="M533.40,646.80 C533.20,650.04 533.00,654.00 530.80,654.00 C528.80,654.00 528.50,652.00 528.70,650.40" fill="none" stroke="#3a7a34" stroke-width="4.5" stroke-linecap="round"/>
<path d="M309.00,646.80 C308.80,649.88 308.60,653.64 306.40,653.64 C304.40,653.64 304.10,651.64 304.30,650.04" fill="none" stroke="#3a7a34" stroke-width="4.5" stroke-linecap="round"/>
<path d="M310.50,636.80 C310.30,633.56 310.10,629.60 307.90,629.60 C305.90,629.60 305.60,631.60 305.80,633.20" fill="none" stroke="#5eac4c" stroke-width="3.3" stroke-linecap="round"/>
<path d="M320.30,636.80 C320.10,633.88 319.90,630.32 317.70,630.32 C315.70,630.32 315.40,632.32 315.60,633.92" fill="none" stroke="#5eac4c" stroke-width="3.3" stroke-linecap="round"/>
<path d="M329.80,636.80 C329.60,634.47 329.40,631.62 327.20,631.62 C325.20,631.62 324.90,633.62 325.10,635.22" fill="none" stroke="#5eac4c" stroke-width="3.3" stroke-linecap="round"/>
<path d="M356.10,636.80 C355.90,633.56 355.70,629.60 353.50,629.60 C351.50,629.60 351.20,631.60 351.40,633.20" fill="none" stroke="#5eac4c" stroke-width="3.3" stroke-linecap="round"/>
<path d="M365.90,636.80 C365.70,633.88 365.50,630.32 363.30,630.32 C361.30,630.32 361.00,632.32 361.20,633.92" fill="none" stroke="#5eac4c" stroke-width="3.3" stroke-linecap="round"/>
<path d="M375.40,636.80 C375.20,634.47 375.00,631.62 372.80,631.62 C370.80,631.62 370.50,633.62 370.70,635.22" fill="none" stroke="#5eac4c" stroke-width="3.3" stroke-linecap="round"/>
<path d="M401.70,636.80 C401.50,633.56 401.30,629.60 399.10,629.60 C397.10,629.60 396.80,631.60 397.00,633.20" fill="none" stroke="#5eac4c" stroke-width="3.3" stroke-linecap="round"/>
<path d="M411.50,636.80 C411.30,633.88 411.10,630.32 408.90,630.32 C406.90,630.32 406.60,632.32 406.80,633.92" fill="none" stroke="#5eac4c" stroke-width="3.3" stroke-linecap="round"/>
<path d="M421.00,636.80 C420.80,634.47 420.60,631.62 418.40,631.62 C416.40,631.62 416.10,633.62 416.30,635.22" fill="none" stroke="#5eac4c" stroke-width="3.3" stroke-linecap="round"/>
<path d="M447.30,636.80 C447.10,633.56 446.90,629.60 444.70,629.60 C442.70,629.60 442.40,631.60 442.60,633.20" fill="none" stroke="#5eac4c" stroke-width="3.3" stroke-linecap="round"/>
<path d="M457.10,636.80 C456.90,633.88 456.70,630.32 454.50,630.32 C452.50,630.32 452.20,632.32 452.40,633.92" fill="none" stroke="#5eac4c" stroke-width="3.3" stroke-linecap="round"/>
<path d="M466.60,636.80 C466.40,634.47 466.20,631.62 464.00,631.62 C462.00,631.62 461.70,633.62 461.90,635.22" fill="none" stroke="#5eac4c" stroke-width="3.3" stroke-linecap="round"/>
<path d="M541.00,636.80 C540.80,633.56 540.60,629.60 538.40,629.60 C536.40,629.60 536.10,631.60 536.30,633.20" fill="none" stroke="#5eac4c" stroke-width="3.3" stroke-linecap="round"/>
<path d="M550.80,636.80 C550.60,633.88 550.40,630.32 548.20,630.32 C546.20,630.32 545.90,632.32 546.10,633.92" fill="none" stroke="#5eac4c" stroke-width="3.3" stroke-linecap="round"/>
<path d="M332.00,646.80 C331.80,649.23 331.60,652.20 329.40,652.20 C327.40,652.20 327.10,650.20 327.30,648.60" fill="none" stroke="#5eac4c" stroke-width="3.3" stroke-linecap="round"/>
<path d="M341.50,646.80 C341.30,649.72 341.10,653.28 338.90,653.28 C336.90,653.28 336.60,651.28 336.80,649.68" fill="none" stroke="#5eac4c" stroke-width="3.3" stroke-linecap="round"/>
<path d="M351.00,646.80 C350.80,650.04 350.60,654.00 348.40,654.00 C346.40,654.00 346.10,652.00 346.30,650.40" fill="none" stroke="#5eac4c" stroke-width="3.3" stroke-linecap="round"/>
<path d="M377.60,646.80 C377.40,649.23 377.20,652.20 375.00,652.20 C373.00,652.20 372.70,650.20 372.90,648.60" fill="none" stroke="#5eac4c" stroke-width="3.3" stroke-linecap="round"/>
<path d="M387.10,646.80 C386.90,649.72 386.70,653.28 384.50,653.28 C382.50,653.28 382.20,651.28 382.40,649.68" fill="none" stroke="#5eac4c" stroke-width="3.3" stroke-linecap="round"/>
<path d="M396.60,646.80 C396.40,650.04 396.20,654.00 394.00,654.00 C392.00,654.00 391.70,652.00 391.90,650.40" fill="none" stroke="#5eac4c" stroke-width="3.3" stroke-linecap="round"/>
<path d="M423.20,646.80 C423.00,649.23 422.80,652.20 420.60,652.20 C418.60,652.20 418.30,650.20 418.50,648.60" fill="none" stroke="#5eac4c" stroke-width="3.3" stroke-linecap="round"/>
<path d="M432.70,646.80 C432.50,649.72 432.30,653.28 430.10,653.28 C428.10,653.28 427.80,651.28 428.00,649.68" fill="none" stroke="#5eac4c" stroke-width="3.3" stroke-linecap="round"/>
<path d="M442.20,646.80 C442.00,650.04 441.80,654.00 439.60,654.00 C437.60,654.00 437.30,652.00 437.50,650.40" fill="none" stroke="#5eac4c" stroke-width="3.3" stroke-linecap="round"/>
<path d="M468.80,646.80 C468.60,649.23 468.40,652.20 466.20,652.20 C464.20,652.20 463.90,650.20 464.10,648.60" fill="none" stroke="#5eac4c" stroke-width="3.3" stroke-linecap="round"/>
<path d="M478.30,646.80 C478.10,649.72 477.90,653.28 475.70,653.28 C473.70,653.28 473.40,651.28 473.60,649.68" fill="none" stroke="#5eac4c" stroke-width="3.3" stroke-linecap="round"/>
<path d="M487.80,646.80 C487.60,650.04 487.40,654.00 485.20,654.00 C483.20,654.00 482.90,652.00 483.10,650.40" fill="none" stroke="#5eac4c" stroke-width="3.3" stroke-linecap="round"/>
<path d="M514.40,646.80 C514.20,649.23 514.00,652.20 511.80,652.20 C509.80,652.20 509.50,650.20 509.70,648.60" fill="none" stroke="#5eac4c" stroke-width="3.3" stroke-linecap="round"/>
<path d="M523.90,646.80 C523.70,649.72 523.50,653.28 521.30,653.28 C519.30,653.28 519.00,651.28 519.20,649.68" fill="none" stroke="#5eac4c" stroke-width="3.3" stroke-linecap="round"/>
<path d="M533.40,646.80 C533.20,650.04 533.00,654.00 530.80,654.00 C528.80,654.00 528.50,652.00 528.70,650.40" fill="none" stroke="#5eac4c" stroke-width="3.3" stroke-linecap="round"/>
<path d="M309.00,646.80 C308.80,649.88 308.60,653.64 306.40,653.64 C304.40,653.64 304.10,651.64 304.30,650.04" fill="none" stroke="#5eac4c" stroke-width="3.3" stroke-linecap="round"/>
<rect x="302.5" y="636.5999999999999" width="254.5" height="10.4" rx="2" fill="#56a646" stroke="#2f6f2f" stroke-width="0.7"/>
<line x1="304.50" y1="639.20" x2="556.00" y2="639.20" stroke="#3f8a34" stroke-width="0.5"/>
<line x1="304.50" y1="641.80" x2="556.00" y2="641.80" stroke="#3f8a34" stroke-width="0.5"/>
<line x1="304.50" y1="644.40" x2="556.00" y2="644.40" stroke="#3f8a34" stroke-width="0.5"/>
<path d="M302.5,642.3 C342.5,644.8 372.5,639.8 412.5,642.8 S492.5,640.8 552,642.3" fill="none" stroke="#9a2a1a" stroke-width="1.1"/>
<rect x="494.5" y="574.1999999999999" width="14" height="5.2" rx="2.2" fill="#c8329c"/>
<rect x="494.5" y="641.0" width="14" height="5.2" rx="2.2" fill="#c8329c"/>
<path d="M497.5,580 C493.5,595 500.5,610 496.5,622 S498.5,636 497.5,641" fill="none" stroke="#52bcbc" stroke-width="2.9"/>
<path d="M497.5,580 C493.5,595 500.5,610 496.5,622 S498.5,636 497.5,641" fill="none" stroke="#aaeeee" stroke-width="1.7" stroke-dasharray="1.1 0.7"/>
<path d="M505.0,580 C501.0,595 508.0,610 504.0,622 S506.0,636 505.0,641" fill="none" stroke="#52bcbc" stroke-width="2.9"/>
<path d="M505.0,580 C501.0,595 508.0,610 504.0,622 S506.0,636 505.0,641" fill="none" stroke="#aaeeee" stroke-width="1.7" stroke-dasharray="1.1 0.7"/>
<text x="42.10" y="596.60" font-size="7.6" font-weight="bold" fill="#a058a0" text-anchor="start" textLength="35.70" lengthAdjust="spacingAndGlyphs">α-Actinin</text>
<line x1="79.50" y1="593.20" x2="94.68" y2="586.25" stroke="#a058a0" stroke-width="1.2"/>
<path d="M98.50,584.50 L95.43,587.89 L93.93,584.61 Z" fill="#a058a0"/>
<circle cx="43.00" cy="600.40" r="2.45" fill="#e05c86"/>
<circle cx="48.00" cy="600.40" r="2.45" fill="#e05c86"/>
<circle cx="54.70" cy="599.90" r="2.45" fill="#7a3c9e"/>
<circle cx="59.83" cy="599.90" r="2.45" fill="#7a3c9e"/>
<circle cx="64.96" cy="599.90" r="2.45" fill="#7a3c9e"/>
<circle cx="70.09" cy="599.90" r="2.45" fill="#7a3c9e"/>
<circle cx="54.70" cy="605.40" r="2.45" fill="#7a3c9e"/>
<circle cx="59.83" cy="605.40" r="2.45" fill="#7a3c9e"/>
<circle cx="64.96" cy="605.40" r="2.45" fill="#7a3c9e"/>
<circle cx="70.09" cy="605.40" r="2.45" fill="#7a3c9e"/>
<circle cx="78.30" cy="600.40" r="2.25" fill="#e2950f"/>
<text x="52.90" y="683.80" font-size="8.0" font-weight="bold" fill="#1a1a1a" text-anchor="start" textLength="28.70" lengthAdjust="spacingAndGlyphs">Desmin</text>
<line x1="83.50" y1="678.80" x2="97.63" y2="672.83" stroke="#1a1a1a" stroke-width="1.2"/>
<path d="M101.50,671.20 L98.33,674.49 L96.93,671.18 Z" fill="#1a1a1a"/>
<circle cx="59.20" cy="686.60" r="2.45" fill="#e05c86"/>
<circle cx="64.53" cy="686.60" r="2.45" fill="#e05c86"/>
<circle cx="69.86" cy="686.60" r="2.45" fill="#e05c86"/>
<circle cx="75.19" cy="686.60" r="2.45" fill="#e05c86"/>
<circle cx="220.10" cy="578.60" r="2.35" fill="#e05c86"/>
<circle cx="225.20" cy="578.60" r="2.35" fill="#e05c86"/>
<text x="229.80" y="583.20" font-size="8.0" font-weight="bold" fill="#a82828" text-anchor="start" textLength="16.40" lengthAdjust="spacingAndGlyphs">Titin</text>
<circle cx="249.80" cy="578.60" r="2.45" fill="#7a3c9e"/>
<circle cx="254.90" cy="578.60" r="2.45" fill="#7a3c9e"/>
<circle cx="260.00" cy="578.60" r="2.45" fill="#7a3c9e"/>
<circle cx="265.10" cy="578.60" r="2.45" fill="#7a3c9e"/>
<circle cx="270.20" cy="578.60" r="2.45" fill="#7a3c9e"/>
<circle cx="275.30" cy="578.60" r="2.45" fill="#7a3c9e"/>
<circle cx="249.80" cy="584.00" r="2.45" fill="#7a3c9e"/>
<circle cx="254.90" cy="584.00" r="2.45" fill="#7a3c9e"/>
<circle cx="260.00" cy="584.00" r="2.45" fill="#7a3c9e"/>
<circle cx="265.10" cy="584.00" r="2.45" fill="#7a3c9e"/>
<circle cx="270.20" cy="584.00" r="2.45" fill="#7a3c9e"/>
<circle cx="275.30" cy="584.00" r="2.45" fill="#7a3c9e"/>
<circle cx="249.80" cy="589.40" r="2.45" fill="#7a3c9e"/>
<circle cx="254.90" cy="589.40" r="2.45" fill="#7a3c9e"/>
<circle cx="260.00" cy="589.40" r="2.45" fill="#7a3c9e"/>
<circle cx="265.10" cy="589.40" r="2.45" fill="#7a3c9e"/>
<circle cx="270.20" cy="589.40" r="2.45" fill="#7a3c9e"/>
<text x="179.00" y="651.80" font-size="8.0" font-weight="bold" fill="#62a852" text-anchor="start" textLength="37.10" lengthAdjust="spacingAndGlyphs">Filamin-C</text>
<circle cx="220.40" cy="650.70" r="2.45" fill="#1e7d8c"/>
<circle cx="176.00" cy="655.30" r="2.45" fill="#e05c86"/>
<circle cx="181.10" cy="655.30" r="2.45" fill="#e05c86"/>
<circle cx="186.20" cy="655.30" r="2.45" fill="#e05c86"/>
<circle cx="191.30" cy="655.30" r="2.45" fill="#e05c86"/>
<circle cx="196.40" cy="655.30" r="2.45" fill="#e05c86"/>
<circle cx="201.50" cy="655.30" r="2.45" fill="#e05c86"/>
<circle cx="206.60" cy="655.30" r="2.45" fill="#e05c86"/>
<circle cx="211.70" cy="655.30" r="2.45" fill="#e05c86"/>
<circle cx="216.80" cy="655.30" r="2.45" fill="#e05c86"/>
<circle cx="176.00" cy="661.00" r="2.45" fill="#e05c86"/>
<circle cx="181.10" cy="661.00" r="2.45" fill="#e05c86"/>
<circle cx="186.20" cy="661.00" r="2.45" fill="#e05c86"/>
<circle cx="191.30" cy="661.00" r="2.45" fill="#e05c86"/>
<circle cx="196.40" cy="661.00" r="2.45" fill="#e05c86"/>
<circle cx="201.50" cy="661.00" r="2.45" fill="#e05c86"/>
<circle cx="206.60" cy="661.00" r="2.45" fill="#e05c86"/>
<circle cx="211.70" cy="661.00" r="2.45" fill="#e05c86"/>
<circle cx="216.80" cy="661.00" r="2.45" fill="#e05c86"/>
<line x1="175.40" y1="649.00" x2="162.28" y2="647.63" stroke="#62a852" stroke-width="1.2"/>
<path d="M158.10,647.20 L162.46,645.84 L162.09,649.42 Z" fill="#62a852"/>
<text x="259.70" y="687.00" font-size="8.0" font-weight="bold" fill="#3a78c8" text-anchor="start" textLength="19.80" lengthAdjust="spacingAndGlyphs">Actin</text>
<circle cx="436.80" cy="525.40" r="2.45" fill="#e05c86"/>
<circle cx="441.90" cy="525.40" r="2.45" fill="#e05c86"/>
<circle cx="447.00" cy="525.40" r="2.45" fill="#e05c86"/>
<circle cx="452.10" cy="525.40" r="2.45" fill="#e05c86"/>
<circle cx="457.20" cy="525.40" r="2.45" fill="#e05c86"/>
<circle cx="462.30" cy="525.40" r="2.45" fill="#e05c86"/>
<text x="435.30" y="536.40" font-size="8.0" font-weight="bold" fill="#ecb458" text-anchor="start" textLength="29.60" lengthAdjust="spacingAndGlyphs">Nebulin</text>
<circle cx="436.80" cy="540.30" r="2.45" fill="#7a3c9e"/>
<circle cx="441.90" cy="540.30" r="2.45" fill="#7a3c9e"/>
<circle cx="447.00" cy="540.30" r="2.45" fill="#7a3c9e"/>
<circle cx="452.10" cy="540.30" r="2.45" fill="#7a3c9e"/>
<circle cx="457.20" cy="540.30" r="2.45" fill="#7a3c9e"/>
<circle cx="462.30" cy="540.30" r="2.45" fill="#7a3c9e"/>
<circle cx="436.80" cy="545.60" r="2.45" fill="#7a3c9e"/>
<circle cx="441.90" cy="545.60" r="2.45" fill="#7a3c9e"/>
<circle cx="447.00" cy="545.60" r="2.45" fill="#7a3c9e"/>
<circle cx="452.10" cy="545.60" r="2.45" fill="#7a3c9e"/>
<circle cx="457.20" cy="545.60" r="2.45" fill="#7a3c9e"/>
<circle cx="462.30" cy="545.60" r="2.45" fill="#7a3c9e"/>
<circle cx="436.80" cy="550.90" r="2.45" fill="#7a3c9e"/>
<circle cx="441.90" cy="550.90" r="2.45" fill="#7a3c9e"/>
<circle cx="447.00" cy="550.90" r="2.45" fill="#7a3c9e"/>
<circle cx="452.10" cy="550.90" r="2.45" fill="#7a3c9e"/>
<circle cx="457.20" cy="550.90" r="2.45" fill="#7a3c9e"/>
<line x1="431.70" y1="534.30" x2="407.26" y2="537.80" stroke="#f0a830" stroke-width="1.2"/>
<path d="M403.10,538.40 L407.00,536.02 L407.51,539.59 Z" fill="#f0a830"/>
<circle cx="518.40" cy="540.60" r="2.4" fill="#e05c86"/>
<circle cx="525.00" cy="535.10" r="2.45" fill="#7a3c9e"/>
<circle cx="530.03" cy="535.10" r="2.45" fill="#7a3c9e"/>
<circle cx="535.06" cy="535.10" r="2.45" fill="#7a3c9e"/>
<circle cx="540.09" cy="535.10" r="2.45" fill="#7a3c9e"/>
<circle cx="525.00" cy="540.80" r="2.45" fill="#7a3c9e"/>
<circle cx="530.03" cy="540.80" r="2.45" fill="#7a3c9e"/>
<circle cx="535.06" cy="540.80" r="2.45" fill="#7a3c9e"/>
<circle cx="540.09" cy="540.80" r="2.45" fill="#7a3c9e"/>
<circle cx="545.12" cy="540.80" r="2.45" fill="#7a3c9e"/>
<text x="511.80" y="551.30" font-size="8.0" font-weight="bold" fill="#d04aa0" text-anchor="start" textLength="34.20" lengthAdjust="spacingAndGlyphs">Obscurin</text>
<line x1="516.20" y1="553.90" x2="508.82" y2="567.32" stroke="#d03a9a" stroke-width="1.2"/>
<path d="M506.80,571.00 L507.25,566.45 L510.40,568.19 Z" fill="#d03a9a"/>
<text x="523.00" y="605.30" font-size="8.0" font-weight="bold" fill="#6cc8b8" text-anchor="start" textLength="40.00" lengthAdjust="spacingAndGlyphs">Myomesin</text>
<line x1="519.00" y1="602.40" x2="510.75" y2="605.38" stroke="#5cc0b0" stroke-width="1.2"/>
<path d="M506.80,606.80 L510.14,603.68 L511.36,607.07 Z" fill="#5cc0b0"/>
<circle cx="526.00" cy="609.90" r="2.5" fill="#e05c86"/>
<circle cx="531.03" cy="609.90" r="2.5" fill="#e05c86"/>
<circle cx="536.06" cy="609.90" r="2.5" fill="#e05c86"/>
<circle cx="541.09" cy="609.90" r="2.5" fill="#e05c86"/>
<circle cx="549.80" cy="609.90" r="2.5" fill="#7a3c9e"/>
<circle cx="554.75" cy="609.90" r="2.5" fill="#7a3c9e"/>
<circle cx="559.70" cy="609.90" r="2.5" fill="#7a3c9e"/>
<text x="420.80" y="603.10" font-size="8.0" font-weight="bold" fill="#8060b0" text-anchor="start" textLength="59.60" lengthAdjust="spacingAndGlyphs">Myosin Binding</text>
<text x="408.80" y="612.80" font-size="8.0" font-weight="bold" fill="#8060b0" text-anchor="start" textLength="83.00" lengthAdjust="spacingAndGlyphs">Protein (fast isoform)</text>
<circle cx="423.10" cy="617.40" r="2.35" fill="#7a3c9e"/>
<circle cx="428.29" cy="617.40" r="2.35" fill="#7a3c9e"/>
<circle cx="433.48" cy="617.40" r="2.35" fill="#7a3c9e"/>
<circle cx="438.67" cy="617.40" r="2.35" fill="#7a3c9e"/>
<circle cx="443.86" cy="617.40" r="2.35" fill="#7a3c9e"/>
<circle cx="449.05" cy="617.40" r="2.35" fill="#7a3c9e"/>
<circle cx="454.24" cy="617.40" r="2.35" fill="#7a3c9e"/>
<circle cx="459.43" cy="617.40" r="2.35" fill="#7a3c9e"/>
<circle cx="464.62" cy="617.40" r="2.35" fill="#7a3c9e"/>
<circle cx="469.81" cy="617.40" r="2.35" fill="#7a3c9e"/>
<line x1="417.50" y1="600.50" x2="408.72" y2="594.24" stroke="#8060b0" stroke-width="1.2"/>
<path d="M405.30,591.80 L409.76,592.77 L407.67,595.70 Z" fill="#8060b0"/>
<text x="421.20" y="665.20" font-size="8.0" font-weight="bold" fill="#6ab04a" text-anchor="start" textLength="63.90" lengthAdjust="spacingAndGlyphs">Myosin-1 (heavy</text>
<text x="425.50" y="674.90" font-size="8.0" font-weight="bold" fill="#6ab04a" text-anchor="start" textLength="55.50" lengthAdjust="spacingAndGlyphs">chain type IIX)</text>
<circle cx="418.70" cy="680.40" r="2.45" fill="#7a3c9e"/>
<circle cx="423.80" cy="680.40" r="2.45" fill="#7a3c9e"/>
<circle cx="428.90" cy="680.40" r="2.45" fill="#7a3c9e"/>
<circle cx="434.00" cy="680.40" r="2.45" fill="#7a3c9e"/>
<circle cx="439.10" cy="680.40" r="2.45" fill="#7a3c9e"/>
<circle cx="444.20" cy="680.40" r="2.45" fill="#7a3c9e"/>
<circle cx="449.30" cy="680.40" r="2.45" fill="#7a3c9e"/>
<circle cx="454.40" cy="680.40" r="2.45" fill="#7a3c9e"/>
<circle cx="459.50" cy="680.40" r="2.45" fill="#7a3c9e"/>
<circle cx="464.60" cy="680.40" r="2.45" fill="#7a3c9e"/>
<circle cx="418.70" cy="685.40" r="2.45" fill="#7a3c9e"/>
<circle cx="423.80" cy="685.40" r="2.45" fill="#7a3c9e"/>
<circle cx="428.90" cy="685.40" r="2.45" fill="#7a3c9e"/>
<circle cx="434.00" cy="685.40" r="2.45" fill="#7a3c9e"/>
<circle cx="439.10" cy="685.40" r="2.45" fill="#7a3c9e"/>
<circle cx="444.20" cy="685.40" r="2.45" fill="#7a3c9e"/>
<circle cx="449.30" cy="685.40" r="2.45" fill="#7a3c9e"/>
<circle cx="454.40" cy="685.40" r="2.45" fill="#7a3c9e"/>
<circle cx="459.50" cy="685.40" r="2.45" fill="#7a3c9e"/>
<circle cx="464.60" cy="685.40" r="2.45" fill="#7a3c9e"/>
<circle cx="418.70" cy="691.00" r="2.45" fill="#7a3c9e"/>
<circle cx="423.80" cy="691.00" r="2.45" fill="#7a3c9e"/>
<circle cx="428.90" cy="691.00" r="2.45" fill="#7a3c9e"/>
<circle cx="434.00" cy="691.00" r="2.45" fill="#7a3c9e"/>
<circle cx="439.10" cy="691.00" r="2.45" fill="#7a3c9e"/>
<circle cx="444.20" cy="691.00" r="2.45" fill="#7a3c9e"/>
<circle cx="475.10" cy="679.60" r="2.45" fill="#e2950f"/>
<circle cx="480.10" cy="679.60" r="2.45" fill="#e2950f"/>
<circle cx="485.10" cy="679.60" r="2.45" fill="#e2950f"/>
<circle cx="475.10" cy="684.80" r="2.45" fill="#e2950f"/>
<circle cx="480.10" cy="684.80" r="2.45" fill="#e2950f"/>
<circle cx="485.10" cy="684.80" r="2.45" fill="#e2950f"/>
<rect x="568.8" y="553.3" width="109.2" height="117.5" rx="7" fill="#fff" stroke="#222" stroke-width="1.3"/>
<circle cx="576.50" cy="574.30" r="4.8" fill="#e05c86"/>
<circle cx="584.00" cy="566.80" r="4.8" fill="#e05c86"/>
<circle cx="576.5" cy="574.3" r="2.2" fill="#fff" opacity="0.12"/><circle cx="584" cy="566.8" r="2.2" fill="#fff" opacity="0.12"/>
<text x="592.60" y="567.80" font-size="11.0" font-weight="normal" fill="#222" text-anchor="start" textLength="47.80" lengthAdjust="spacingAndGlyphs">Increased</text>
<text x="592.60" y="579.60" font-size="11.0" font-weight="normal" fill="#222" text-anchor="start" textLength="79.90" lengthAdjust="spacingAndGlyphs">Phosphorylation</text>
<circle cx="576.50" cy="601.60" r="4.8" fill="#7a3c9e"/>
<circle cx="584.00" cy="594.10" r="4.8" fill="#7a3c9e"/>
<circle cx="576.5" cy="601.6" r="2.2" fill="#fff" opacity="0.12"/><circle cx="584" cy="594.1" r="2.2" fill="#fff" opacity="0.12"/>
<text x="592.60" y="595.10" font-size="11.0" font-weight="normal" fill="#222" text-anchor="start" textLength="51.60" lengthAdjust="spacingAndGlyphs">Decreased</text>
<text x="592.60" y="607.40" font-size="11.0" font-weight="normal" fill="#222" text-anchor="start" textLength="79.90" lengthAdjust="spacingAndGlyphs">Phosphorylation</text>
<circle cx="576.50" cy="631.10" r="4.8" fill="#1e7d8c"/>
<circle cx="584.00" cy="623.60" r="4.8" fill="#1e7d8c"/>
<circle cx="576.5" cy="631.1" r="2.2" fill="#fff" opacity="0.12"/><circle cx="584" cy="623.6" r="2.2" fill="#fff" opacity="0.12"/>
<text x="592.60" y="624.60" font-size="11.0" font-weight="normal" fill="#222" text-anchor="start" textLength="47.80" lengthAdjust="spacingAndGlyphs">Increased</text>
<text x="592.60" y="636.50" font-size="11.0" font-weight="normal" fill="#222" text-anchor="start" textLength="54.40" lengthAdjust="spacingAndGlyphs">Acetylation</text>
<circle cx="576.50" cy="660.50" r="4.8" fill="#e2950f"/>
<circle cx="584.00" cy="653.00" r="4.8" fill="#e2950f"/>
<circle cx="576.5" cy="660.5" r="2.2" fill="#fff" opacity="0.12"/><circle cx="584" cy="653.0" r="2.2" fill="#fff" opacity="0.12"/>
<text x="592.60" y="654.00" font-size="11.0" font-weight="normal" fill="#222" text-anchor="start" textLength="51.60" lengthAdjust="spacingAndGlyphs">Decreased</text>
<text x="592.60" y="665.50" font-size="11.0" font-weight="normal" fill="#222" text-anchor="start" textLength="54.40" lengthAdjust="spacingAndGlyphs">Acetylation</text>
</g>
</svg>
</body></html>
